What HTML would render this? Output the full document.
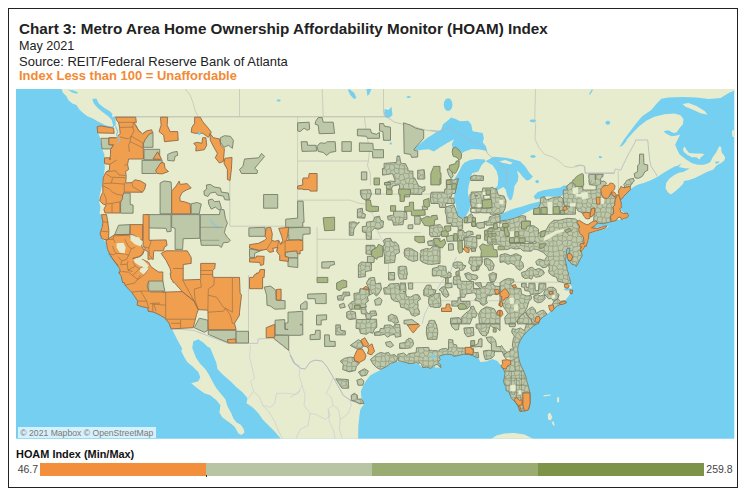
<!DOCTYPE html>
<html><head><meta charset="utf-8">
<style>
html,body{margin:0;padding:0;background:#fff;}
body{width:746px;height:498px;position:relative;overflow:hidden;font-family:"Liberation Sans",sans-serif;}
#frame{position:absolute;left:8px;top:8px;width:728px;height:478px;border:1px solid #222;box-sizing:content-box;}
.t{position:absolute;left:18.5px;white-space:nowrap;color:#222;}
#t1{top:19px;font-size:14px;font-weight:bold;line-height:20px;transform-origin:0 0;transform:scaleX(1.0883);}
#t2{top:39px;font-size:12.8px;line-height:14px;transform-origin:0 0;transform:scaleX(0.985);}
#t3{top:54.5px;font-size:12.8px;line-height:14px;transform-origin:0 0;transform:scaleX(1.016);}
#t4{top:69px;font-size:12.8px;line-height:14px;font-weight:bold;color:#f28a35;transform-origin:0 0;transform:scaleX(1.013);}
#map{position:absolute;left:0;top:0;width:746px;height:498px;}
#attr{position:absolute;left:18px;top:427px;width:138px;height:10.5px;background:rgba(255,255,255,0.7);font-size:8.65px;line-height:10.5px;color:#7a7a7a;white-space:nowrap;}
#attrt{position:absolute;left:2.3px;top:0.7px;transform-origin:0 0;}
#lg{position:absolute;left:15.6px;top:448px;font-size:10.8px;font-weight:bold;color:#111;white-space:nowrap;transform-origin:0 0;transform:scaleX(1.011);}
.lb{position:absolute;top:462.6px;height:13.2px;}
.ln{position:absolute;top:463px;height:13px;line-height:13px;font-size:10.5px;color:#444;}
</style></head><body>
<div id="frame"></div>
<div class="t" id="t1">Chart 3: Metro Area Home Ownership Affordability Monitor (HOAM) Index</div>
<div class="t" id="t2">May 2021</div>
<div class="t" id="t3">Source: REIT/Federal Reserve Bank of Atlanta</div>
<div class="t" id="t4">Index Less than 100 = Unaffordable</div>
<svg id="map" viewBox="0 0 746 498">
<defs><clipPath id="mc"><rect x="16" y="89" width="718.3" height="349.7"/></clipPath></defs>
<g clip-path="url(#mc)" stroke-linejoin="round">
<rect x="16" y="89" width="719" height="350" fill="#75cff0"/>
<path d="M61.3 88 L62.7 92.6 L66.3 96.1 L68.3 100.1 L72.3 103.5 L76.4 105.1 L79.4 109.5 L83.4 113.2 L87.4 116.2 L92.4 118.2 L96.5 120.8 L101.5 123.2 L105.5 125.2 L110.5 126.6 L114.2 125.8 L113.8 127.8 L106.5 127.2 L97.5 126.8 L97.7 132.3 L100.1 137.7 L100.9 143.3 L102.1 148.9 L104.5 154.4 L104.1 160.4 L104.9 167.4 L104.1 173.5 L103.1 179.5 L102.9 180.0 L101.5 188.0 L99.5 196.1 L99.1 202.1 L100.5 207.1 L99.5 213.2 L101.5 215.2 L102.9 222.2 L101.5 228.3 L100.1 233.3 L101.5 238.3 L106.1 242.3 L107.5 249.4 L110.5 255.4 L113.6 260.4 L116.6 264.5 L119.6 268.5 L120.6 273.5 L120.2 275.0 L123.6 280.0 L125.0 285.1 L128.6 289.1 L131.6 292.1 L133.7 295.1 L137.7 301.1 L137.1 305.2 L142.7 306.8 L148.7 308.2 L152.8 311.2 L156.8 312.2 L160.1 315.2 L166.1 318.2 L170.1 325.3 L172.1 329.3 L175.1 335.3 L178.2 341.4 L182.2 348.4 L181.2 351.0 L184.2 357.1 L187.2 362.1 L193.2 367.1 L198.3 372.1 L200.3 377.2 L198.3 381.2 L191.2 383.2 L197.3 388.2 L204.3 393.3 L210.3 395.3 L216.4 400.3 L220.4 405.3 L219.4 412.4 L222.4 417.4 L229.4 422.4 L234.5 426.4 L238.5 433.5 L241.5 435.1 L244.5 432.5 L243.5 428.4 L240.5 424.4 L236.5 422.4 L233.4 418.4 L231.4 413.4 L227.4 406.3 L225.4 399.3 L220.4 393.3 L216.4 388.2 L212.3 381.2 L209.3 375.2 L205.3 369.1 L200.3 364.1 L196.2 358.1 L193.2 351.0 L191.2 345.0 L195.2 355.4 L192.2 348.4 L193.2 341.4 L198.3 339.3 L203.3 342.4 L207.3 346.4 L210.3 348.0 L212.3 353.0 L216.4 363.1 L217.4 369.1 L222.4 374.2 L230.4 381.2 L236.5 387.2 L242.5 392.3 L247.5 398.3 L246.5 403.3 L252.5 407.3 L258.6 413.4 L262.6 419.4 L268.6 425.4 L274.7 431.5 L280.7 438.5 L282.7 443.5 L358.0 443.5 L358.4 425.4 L359.4 415.4 L360.4 409.3 L364.0 404.3 L361.4 397.3 L360.8 391.2 L363.4 385.2 L366.4 380.2 L370.4 375.2 L376.5 372.1 L380.5 370.1 L386.5 366.1 L392.5 363.1 L398.6 361.5 L405.6 362.1 L412.7 363.1 L418.7 364.1 L421.7 367.1 L428.7 367.5 L434.8 366.1 L435.0 367.5 L441.1 367.5 L438.4 363.5 L439.7 359.5 L435.0 357.5 L433.0 356.1 L436.0 355.1 L442.1 354.0 L450.1 353.4 L458.2 354.0 L466.2 353.4 L473.2 354.7 L478.3 358.1 L480.3 362.1 L486.3 361.5 L492.3 359.1 L497.4 361.1 L501.4 366.1 L504.0 370.1 L505.4 375.2 L503.4 381.2 L504.8 385.2 L507.4 388.2 L509.4 393.3 L511.4 398.3 L515.5 402.3 L518.5 407.3 L520.5 411.4 L524.5 411.0 L528.5 409.3 L530.1 403.3 L530.1 393.3 L528.1 385.2 L525.5 377.2 L523.5 371.1 L520.5 365.1 L518.5 357.1 L517.5 351.0 L518.5 345.0 L518.5 345.4 L520.5 339.3 L524.5 333.3 L528.5 328.3 L532.5 324.3 L537.6 320.2 L542.6 316.2 L548.6 313.2 L552.7 308.2 L558.7 305.2 L564.7 301.1 L568.7 296.1 L570.8 293.1 L571.8 287.1 L568.7 281.0 L570.8 275.0 L571.0 274.5 L573.0 268.5 L576.0 264.5 L578.0 260.4 L580.1 253.4 L582.1 250.4 L586.1 246.4 L588.5 240.3 L589.1 234.3 L589.1 232.7 L590.1 227.9 L597.1 223.2 L604.2 222.2 L611.2 221.8 L616.2 220.2 L620.3 219.2 L624.3 219.2 L628.3 217.2 L627.3 214.2 L624.3 213.2 L621.3 210.2 L619.3 206.1 L620.3 200.1 L624.3 195.1 L628.3 191.1 L631.5 188.5 L634.2 186.4 L638.3 184.4 L643.6 183.1 L649 181 L654.4 178.4 L658.4 176.3 L662.5 173.6 L667.9 170.3 L675 166.2 L677.3 166.1 L681.7 163.2 L678.8 166.9 L684.7 168.3 L689.8 168.6 L683.2 172.0 L678.8 172.8 L674.3 175.0 L669.2 178.7 L666.2 183.1 L665.5 188.2 L667.7 191.9 L670.7 194.6 L674.3 191.9 L678.8 188.2 L683.2 183.8 L683.9 180.9 L689.1 180.1 L695.0 177.9 L700.9 175.0 L706.8 172.0 L712.7 169.8 L714.2 168.6 L716.4 165.4 L720.8 163.2 L724.5 160.2 L725.2 157.3 L721.5 152.1 L721.2 147.0 L719.3 146.2 L716.4 152.1 L712.7 157.3 L710.5 161.7 L708.3 163.2 L703.8 164.7 L697.9 164.7 L692.0 163.2 L686.1 159.5 L683.2 157.3 L679.5 154.3 L677.3 149.9 L675.1 144.7 L677.3 140.3 L680.2 134.4 L675.4 135.7 L671.4 136.3 L666.4 133.7 L663.4 131.2 L668.4 130.2 L673.4 132.9 L676.4 132.5 L679.4 128.2 L682.9 124.2 L683.5 119.2 L680.5 115.2 L674.4 113.6 L664.4 114.2 L654.3 116.8 L646.3 120.8 L639.2 126.2 L633.2 132.3 L626.2 140.3 L620.1 146.3 L624.2 139.3 L630.2 131.2 L636.2 123.2 L642.2 116.2 L651.3 110.1 L656.3 104.1 L661.3 98.7 L668.4 97.5 L682.5 97.1 L696.5 97.5 L708.6 99.1 L720.7 98.1 L728.7 93.0 L736.8 89.4 L740 88 Z" fill="#e7ecce" fill-rule="evenodd"/>
<path d="M589.1 231.3 L594.1 228.3 L602.2 226.2 L609.2 225.8 L606.2 228.3 L600.2 230.3 L592.1 232.7 Z" fill="#e7ecce" fill-rule="evenodd"/>
<path d="M682.9 149.2 L684.7 146.2 L686.1 149.2 L689.1 152.9 L695.0 153.6 L700.9 153.6 L704.6 154.3 L700.9 157.3 L699.4 159.5 L696.5 157.3 L692.0 157.3 L687.6 155.1 L683.9 152.1 Z" fill="#e7ecce" fill-rule="evenodd"/>
<path d="M682.5 104.1 L688.5 103.1 L696.5 106.1 L704.6 111.1 L707.6 114.8 L700.6 113.2 L692.5 109.5 L685.5 106.7 Z" fill="#e7ecce" fill-rule="evenodd"/>
<path d="M731.8 131.5 L734.5 130.0 L739.2 130.0 L739.2 138.8 L734.5 137.4 L732.6 135.9 Z" fill="#e7ecce" fill-rule="evenodd"/>
<path d="M732.3 130.2 L736.8 130.2 L736.8 137.7 L732.7 136.9 Z" fill="#e7ecce" fill-rule="evenodd"/>
<path d="M490.3 439.5 L496.4 435.5 L504.4 433.5 L514.5 433.1 L524.5 434.5 L534.6 439.5 Z" fill="#e7ecce" fill-rule="evenodd"/>
<path d="M547.6 414.4 L550.2 412.4 L552.3 417.4 L550.6 420.4 L548.2 419.4 Z" fill="#e7ecce" fill-rule="evenodd"/>
<path d="M551.6 421.4 L553.7 421.8 L554.7 425.4 L553.1 425.4 Z" fill="#e7ecce" fill-rule="evenodd"/>
<path d="M543.6 395.3 L550.6 394.5 L550.6 395.5 L543.6 396.5 Z" fill="#e7ecce" fill-rule="evenodd"/>
<path d="M557.1 397.3 L559.1 397.3 L559.1 402.3 L557.1 402.3 Z" fill="#e7ecce" fill-rule="evenodd"/>
<path d="M92.3 99.1 L96.3 98.5 L99.0 103.8 L104.4 107.9 L109.8 111.2 L112.5 113.9 L111.8 116.6 L115.2 117.3 L115.9 125.4 L113.2 126.0 L111.8 120.0 L108.5 116.6 L103.1 112.6 L97.7 107.9 L93.6 103.2 Z" fill="#75cff0" fill-rule="evenodd"/>
<path d="M68.1 89.7 L73.5 90.4 L78.2 92.4 L76.8 93.7 L72.1 92.4 Z" fill="#75cff0" fill-rule="evenodd"/>
<path d="M280.7 100.5 L280.4 101.0 L279.7 101.4 L278.7 101.5 L277.7 101.4 L276.9 101.0 L276.7 100.5 L276.9 100.0 L277.7 99.6 L278.7 99.5 L279.7 99.6 L280.4 100.0 Z" fill="#75cff0" fill-rule="evenodd"/>
<path d="M349.3 89.0 L354.3 93.0 L356.4 98.1 L353.9 99.1 L350.3 95.1 L347.9 90.0 Z" fill="#75cff0" fill-rule="evenodd"/>
<path d="M366.4 89.0 L371.4 89.0 L369.4 94.0 L367.4 96.1 Z" fill="#75cff0" fill-rule="evenodd"/>
<path d="M384.5 109.1 L388.5 110.1 L391.5 106.7 L392.5 115.2 L388.5 118.2 L384.5 117.2 Z" fill="#75cff0" fill-rule="evenodd"/>
<path d="M410.6 97.1 L410.4 97.6 L409.6 97.9 L408.6 98.1 L407.6 97.9 L406.9 97.6 L406.6 97.1 L406.9 96.6 L407.6 96.2 L408.6 96.1 L409.6 96.2 L410.4 96.6 Z" fill="#75cff0" fill-rule="evenodd"/>
<path d="M391.9 143.5 L391.8 144.1 L391.3 144.6 L390.7 144.7 L390.1 144.6 L389.7 144.1 L389.5 143.5 L389.7 142.9 L390.1 142.5 L390.7 142.3 L391.3 142.5 L391.8 142.9 Z" fill="#75cff0" fill-rule="evenodd"/>
<path d="M399.6 156.0 L399.4 156.5 L399.0 156.8 L398.4 157.0 L397.8 156.8 L397.3 156.5 L397.2 156.0 L397.3 155.5 L397.8 155.1 L398.4 155.0 L399.0 155.1 L399.4 155.5 Z" fill="#75cff0" fill-rule="evenodd"/>
<path d="M714.9 161.7 L719.3 161.3 L718.6 163.2 L715.6 163.6 Z" fill="#75cff0" fill-rule="evenodd"/>
<path d="M413.7 149.3 L420.7 143.3 L426.8 138.3 L434.8 133.3 L436 132 L441 130 L443.1 124.2 L448.1 120.2 L451.1 117.6 L455.1 118.8 L460.2 121.2 L468.2 120.8 L471.2 124.2 L472.6 131.3 L482.7 132.9 L483.9 138.3 L482.7 142.3 L485.9 146.3 L487.3 151.4 L485.5 150.7 L479.9 149.4 L471.8 149.1 L464.6 151.5 L462.2 153.1 L456.5 148.3 L452.5 147.5 L451.7 144.3 L454.1 139.2 L447.7 142.7 L439.7 147.5 L433.8 151.4 L428.8 149.3 L422.7 149.8 L417.7 150.4 Z" fill="#75cff0" fill-rule="evenodd"/>
<path d="M455.7 204.9 L454.1 197.4 L454.9 189.3 L455.7 178.9 L457.3 174.9 L459.8 170.0 L462.2 165.2 L464.6 162.5 L470.2 160.1 L476.6 159.1 L484.7 159.6 L485.5 161.2 L481.5 165.2 L478.3 171.6 L472.1 173.3 L470.2 179.7 L468.6 186.1 L467.8 192.6 L469.4 199.0 L471.2 202.1 L469.2 210.2 L465.2 217.2 L460.2 218.6 L457.1 214.2 L455.7 204.1 Z" fill="#75cff0" fill-rule="evenodd"/>
<path d="M485.5 161.2 L493.5 156.7 L500.8 157.2 L507.2 158.0 L512.0 159.1 L513.6 159.6 L520.1 161.2 L524.9 166.0 L529.7 173.3 L532.9 176.5 L529.7 179.7 L526.5 180.5 L522.5 176.5 L519.3 172.5 L516.9 170.8 L518.5 176.5 L517.7 181.3 L514.5 186.1 L513.6 192.6 L512.0 199.0 L509.9 200.6 L507.2 195.8 L505.6 189.3 L503.2 186.9 L499.2 189.3 L494.3 191.8 L493.5 189.3 L497.6 186.1 L498.4 178.1 L496.8 171.6 L492.7 165.2 Z" fill="#75cff0" fill-rule="evenodd"/>
<path d="M497.5 218.3 L500 214.9 L505.4 212.2 L513.5 208.8 L521.5 206.8 L529.6 204.1 L537.7 202.1 L540.4 201.4 L541 203.5 L539 206.2 L533.6 208.8 L528.3 211.5 L521.5 214.9 L514.8 217.6 L508.1 219.6 L502 220.5 L499 220.5 Z" fill="#75cff0" fill-rule="evenodd"/>
<path d="M533.6 196.5 L537.7 192 L544.4 190 L553.8 188.5 L560.6 187.6 L563.9 185.2 L566 185.9 L567.3 189.9 L566.6 194 L560.6 196 L553.8 196.7 L547.1 196.5 L540.4 198.3 L535.7 199.4 Z" fill="#75cff0" fill-rule="evenodd"/>
<path d="M452.5 104.7 L451.9 107.9 L450.3 110.3 L448.1 111.1 L445.9 110.3 L444.3 107.9 L443.7 104.7 L444.3 101.5 L445.9 99.1 L448.1 98.3 L450.3 99.1 L451.9 101.5 Z" fill="#75cff0" fill-rule="evenodd"/>
<path d="M536.2 120.8 L535.7 121.5 L534.6 122.0 L532.9 122.2 L531.3 122.0 L530.2 121.5 L529.7 120.8 L530.2 120.1 L531.3 119.6 L532.9 119.4 L534.6 119.6 L535.7 120.1 Z" fill="#75cff0" fill-rule="evenodd"/>
<path d="M535.6 156.4 L535.2 157.0 L534.3 157.4 L532.9 157.6 L531.6 157.4 L530.7 157.0 L530.3 156.4 L530.7 155.8 L531.6 155.3 L532.9 155.2 L534.3 155.3 L535.2 155.8 Z" fill="#75cff0" fill-rule="evenodd"/>
<path d="M538.6 181.5 L538.4 182.3 L537.8 182.9 L537.0 183.1 L536.2 182.9 L535.6 182.3 L535.4 181.5 L535.6 180.7 L536.2 180.1 L537.0 179.9 L537.8 180.1 L538.4 180.7 Z" fill="#75cff0" fill-rule="evenodd"/>
<path d="M610.2 122.8 L609.9 123.8 L609.0 124.5 L607.8 124.8 L606.6 124.5 L605.7 123.8 L605.4 122.8 L605.7 121.8 L606.6 121.1 L607.8 120.8 L609.0 121.1 L609.9 121.8 Z" fill="#75cff0" fill-rule="evenodd"/>
<path d="M601.8 157.0 L601.6 157.5 L601.0 157.9 L600.2 158.0 L599.4 157.9 L598.8 157.5 L598.6 157.0 L598.8 156.5 L599.4 156.1 L600.2 156.0 L601.0 156.1 L601.6 156.5 Z" fill="#75cff0" fill-rule="evenodd"/>
<path d="M589.1 94.0 L591.7 89.4 L593.1 89.8 L590.1 94.7 Z" fill="#75cff0" fill-rule="evenodd"/>
<path d="M453.8 179.8 L456.5 175.8 L459.9 170.4 L462.6 165.3 L464.6 164.3 L463.3 167.7 L461.2 171.7 L459.2 176.4 L456.5 179.8 Z" fill="#75cff0" fill-rule="evenodd"/>
<path d="M535.7 156.5 L535.3 157.1 L534.3 157.4 L533.0 157.6 L531.6 157.4 L530.6 157.1 L530.3 156.5 L530.6 156.0 L531.6 155.6 L533.0 155.4 L534.3 155.6 L535.3 156.0 Z" fill="#75cff0" fill-rule="evenodd"/>
<path d="M538.9 181.8 L538.7 182.5 L538.1 183.0 L537.3 183.2 L536.5 183.0 L535.9 182.5 L535.7 181.8 L535.9 181.1 L536.5 180.7 L537.3 180.5 L538.1 180.7 L538.7 181.1 Z" fill="#75cff0" fill-rule="evenodd"/>
<path d="M619.4 146.7 L621.4 144.0 L625.5 140.0 L626.8 140.7 L622.1 146.1 Z" fill="#75cff0" fill-rule="evenodd"/>
<path d="M601.9 157.5 L601.7 157.8 L601.2 158.1 L600.6 158.2 L599.9 158.1 L599.4 157.8 L599.2 157.5 L599.4 157.2 L599.9 156.9 L600.6 156.8 L601.2 156.9 L601.7 157.2 Z" fill="#75cff0" fill-rule="evenodd"/>
<path d="M565.9 249.2 L568.6 247.9 L569.3 251.9 L567.3 253.9 L565.9 256.9 L564.6 256.9 Z" fill="#75cff0" fill-rule="evenodd"/>
<path d="M578.7 256.9 L580.8 252.6 L579.4 251.9 L577.4 256.9 Z" fill="#75cff0" fill-rule="evenodd"/>
<path d="M564.6 255.7 L567.3 255.7 L568.0 261.0 L570.0 265.1 L571.3 269.1 L570.0 273.8 L568.0 270.5 L566.6 265.1 L565.3 261.0 Z" fill="#75cff0" fill-rule="evenodd"/>
<path d="M563.3 289.3 L567.3 288.0 L571.3 288.6 L570.7 290.6 L565.9 290.6 Z" fill="#75cff0" fill-rule="evenodd"/>
<path d="M563.3 277.2 L566.6 276.5 L567.3 278.5 L563.9 279.2 Z" fill="#75cff0" fill-rule="evenodd"/>
<path d="M569.3 264.4 L575.6 265.3 L573.8 269.8 L571.1 274.8 L569.7 273.8 L571.1 269.1 Z" fill="#75cff0" fill-rule="evenodd"/>
<path d="M566.1 248.5 L569.9 247.4 L570.4 252.5 L572.9 255.2 L574.2 260.6 L572.9 266.0 L574.9 270.0 L574.2 275.4 L576.9 280.8 L574.2 281.4 L571.5 279.4 L568.8 274.0 L566.1 267.3 L564.8 261.9 L566.8 256.5 L566.1 252.5 Z" fill="#75cff0" fill-rule="evenodd"/>
<path d="M499.2 161.2 L505.6 160.1 L512.8 162.8 L510.4 164.4 L502.4 162.8 Z" fill="#e7ecce" fill-rule="evenodd"/>
<path d="M114.0 116.8 L384.2 116.8" fill="none" fill-rule="evenodd" stroke="#b9bcb0" stroke-width="1.0"/>
<path d="M239.5 89.0 L239.5 116.8" fill="none" fill-rule="evenodd" stroke="#c4c7b8" stroke-width="0.8"/>
<path d="M185.2 89.0 L190.2 95.1 L193.2 103.1 L195.2 111.1 L198.3 116.8" fill="none" fill-rule="evenodd" stroke="#c4c7b8" stroke-width="0.8"/>
<path d="M322.2 89.0 L323.2 116.8" fill="none" fill-rule="evenodd" stroke="#c4c7b8" stroke-width="0.8"/>
<path d="M383.5 89.0 L383.5 111.1" fill="none" fill-rule="evenodd" stroke="#c4c7b8" stroke-width="0.8"/>
<path d="M297.6 116.8 L297.6 184.9" fill="none" fill-rule="evenodd" stroke="#c4c7b8" stroke-width="0.8"/>
<path d="M297.6 161.0 L368.4 161.0" fill="none" fill-rule="evenodd" stroke="#c4c7b8" stroke-width="0.8"/>
<path d="M364.4 116.8 L365.4 125.2 L367.4 137.3 L369.4 151.4 L368.4 161.0 L367.4 165.4 L370.4 173.5 L370.4 184.9" fill="none" fill-rule="evenodd" stroke="#c4c7b8" stroke-width="0.8"/>
<path d="M229.8 159.9 L229.8 226.2 L297.4 226.2" fill="none" fill-rule="evenodd" stroke="#c4c7b8" stroke-width="0.8"/>
<path d="M297.6 180.0 L297.6 226.6" fill="none" fill-rule="evenodd" stroke="#c4c7b8" stroke-width="0.8"/>
<path d="M172.1 328.9 L193.2 330.3 L227.4 343.0 L248.5 343.4 L257.6 343.4 L258.2 338.9 L273.1 338.3 L278.7 342.4 L288.7 350.4 L290.8 355.4 L294.8 363.5 L300.0 366.5" fill="none" fill-rule="evenodd" stroke="#b5b8c4" stroke-width="0.7"/>
<path d="M248.5 275.0 L248.5 343.4" fill="none" fill-rule="evenodd" stroke="#c4c7b8" stroke-width="0.8"/>
<path d="M290.0 355.1 L294.0 363.1 L300.1 368.1 L305.1 369.1 L310.1 362.1 L315.1 360.1 L322.2 361.1 L327.2 367.1 L333.2 377.2 L339.3 388.2 L343.3 395.3 L350.3 400.3 L359.4 403.7 L364.0 403.7" fill="none" fill-rule="evenodd" stroke="#9aa3c0" stroke-width="0.7"/>
<path d="M297.6 200.1 L350.3 200.1 L358.4 203.1 L365.4 204.1" fill="none" fill-rule="evenodd" stroke="#c4c7b8" stroke-width="0.8"/>
<path d="M317.1 239.3 L379.5 239.3" fill="none" fill-rule="evenodd" stroke="#c4c7b8" stroke-width="0.8"/>
<path d="M317.1 227.3 L317.1 279.9" fill="none" fill-rule="evenodd" stroke="#c4c7b8" stroke-width="0.8"/>
<path d="M377.5 232.7 L420.7 232.7" fill="none" fill-rule="evenodd" stroke="#c4c7b8" stroke-width="0.8"/>
<path d="M369.4 199.1 L370.4 206.1 L372.4 214.2 L375.5 220.2 L377.5 230.3 L380.5 237.3 L384.5 244.3" fill="none" fill-rule="evenodd" stroke="#c4c9d8" stroke-width="0.7"/>
<path d="M388.5 246.4 L388.5 279.9" fill="none" fill-rule="evenodd" stroke="#c4c7b8" stroke-width="0.8"/>
<path d="M371.4 194.1 L442.8 194.1" fill="none" fill-rule="evenodd" stroke="#c4c7b8" stroke-width="0.8"/>
<path d="M384.5 116.8 L383.5 111.1 L386.1 115.2 L388.5 118.2 L394.6 122.2 L402.6 124.2 L410.6 125.2 L418.7 128.2 L426.7 130.2 L440.0 132.3" fill="none" fill-rule="evenodd" stroke="#b9bcb0" stroke-width="0.8"/>
<path d="M430.0 130.2 L440.1 131.2 L449.1 127.2 L466.2 138.3 L480.3 145.3 L485.3 149.3 L488.3 154.4 L494.3 159.4 L500.4 163.4 L506.4 169.5 L507.4 184.9" fill="none" fill-rule="evenodd" stroke="#a9b4c4" stroke-width="0.7"/>
<path d="M535.6 89.0 L534.6 123.2" fill="none" fill-rule="evenodd" stroke="#c4c7b8" stroke-width="0.8"/>
<path d="M300.1 368.1 L299.0 375.2 L302.1 385.2 L298.0 393.3 L290.0 397.3" fill="none" fill-rule="evenodd" stroke="#c7c8d2" stroke-width="0.6"/>
<path d="M302.1 385.2 L305.1 395.3 L304.1 405.3 L310.1 413.4 L308.1 425.4 L300.1 429.5 L296.0 438.5" fill="none" fill-rule="evenodd" stroke="#c7c8d2" stroke-width="0.6"/>
<path d="M310.1 413.4 L316.1 414.4 L325.2 419.4 L330.2 415.4 L328.2 409.3 L333.2 405.3 L331.2 397.3 L326.2 393.3 L330.2 385.2 L333.2 377.2" fill="none" fill-rule="evenodd" stroke="#c7c8d2" stroke-width="0.6"/>
<path d="M328.2 409.3 L329.2 421.4 L333.2 429.5 L335.2 438.5" fill="none" fill-rule="evenodd" stroke="#c7c8d2" stroke-width="0.6"/>
<path d="M333.2 405.3 L338.3 409.3 L340.3 419.4 L339.3 429.5 L342.3 438.5" fill="none" fill-rule="evenodd" stroke="#c7c8d2" stroke-width="0.6"/>
<path d="M340.3 419.4 L348.3 413.4 L351.3 405.3 L350.3 400.3" fill="none" fill-rule="evenodd" stroke="#c7c8d2" stroke-width="0.6"/>
<path d="M250.5 345.0 L249.5 357.1 L252.5 369.1 L254.6 378.2 L250.5 381.2 L253.6 391.2 L248.5 398.3" fill="none" fill-rule="evenodd" stroke="#c7c8d2" stroke-width="0.6"/>
<path d="M253.6 391.2 L259.6 397.3 L262.6 405.3 L268.6 411.4 L274.7 421.4 L278.7 431.5 L282.7 438.5" fill="none" fill-rule="evenodd" stroke="#c7c8d2" stroke-width="0.6"/>
<path d="M262.6 405.3 L270.6 407.3 L274.7 403.3 L276.7 393.3 L286.7 393.3 L294.8 394.3 L300.0 391.2" fill="none" fill-rule="evenodd" stroke="#c7c8d2" stroke-width="0.6"/>
<path d="M535.7 123.3 L535.0 139.4 L539.0 147.5 L544.4 154.2 L553.8 157.6 L560.6 162.3 L564.6 166.3 L571.3 167.7 L580.8 165.3 L584.8 166.3 L585.5 173.1" fill="none" fill-rule="evenodd" stroke="#c4c7b8" stroke-width="0.8"/>
<path d="M585.5 173.3 L614.4 173.3" fill="none" fill-rule="evenodd" stroke="#b9bcb0" stroke-width="0.8"/>
<path d="M620.8 170.3 L623.5 164.2 L628.8 153.5 L634.9 142.7 L635.6 140.0 L647.7 140.0 L649.7 160.2 L651.0 166.2 L655.8 173.6 L657.1 176.3" fill="none" fill-rule="evenodd" stroke="#b5b8c4" stroke-width="0.8"/>
<path d="M575.0 166.2 L580.4 164.9 L584.4 166.2 L585.1 173.0 L614.0 173.0 L615.4 168.9 L620.8 170.3" fill="none" fill-rule="evenodd" stroke="#b5b8c4" stroke-width="0.8"/>
<path d="M618.1 171.0 L618.7 193.8" fill="none" fill-rule="evenodd" stroke="#c4c7b8" stroke-width="0.8"/>
<path d="M456.5 257.0 L453.8 262.4 L451.8 267.8 L449.8 273.2 L444.4 278.5 L440.4 283.9 L436.3 290.6 L432.3 297.4 L428.3 306.8 L424.9 313.5 L422.9 320.3 L422.2 323.9" fill="none" fill-rule="evenodd" stroke="#b9c4dc" stroke-width="0.8"/>
<path d="M400.0 282.6 L500.0 282.6" fill="none" fill-rule="evenodd" stroke="#c4c7b8" stroke-width="0.8"/>
<path d="M440.4 300.7 L500.0 300.7" fill="none" fill-rule="evenodd" stroke="#c4c7b8" stroke-width="0.8"/>
<path d="M514.8 282.2 L570.0 282.2" fill="none" fill-rule="evenodd" stroke="#c4c7b8" stroke-width="0.8"/>
<path d="M100.9 138.3 L108.9 138.3 L108.9 144.7 L113.6 145.3 L110.5 148.9 L102.1 148.9 L101.5 145.3 Z" fill="#bdc8a8" fill-rule="evenodd" stroke="#767d6a" stroke-width="0.9"/>
<path d="M144.0 141.9 L143.1 143.7 L143.5 146.9 L144.0 146.9 L144.0 147.3 L153.0 147.3 L153.0 132.3 L144.0 132.3 L144.0 141.9 Z" fill="#bdc8a8" fill-rule="evenodd" stroke="#767d6a" stroke-width="0.9"/>
<path d="M220.4 137.7 L224.4 135.7 L230.4 136.3 L233.4 140.3 L232.4 148.3 L228.4 145.3 L224.0 147.3 L220.4 142.3 Z" fill="#bdc8a8" fill-rule="evenodd" stroke="#767d6a" stroke-width="0.9"/>
<path d="M244.5 159.0 L258.6 157.8 L261.6 153.4 L264.6 156.4 L259.6 162.4 L254.6 168.4 L257.6 170.5 L257.0 173.5 L241.5 173.5 L239.5 169.5 L242.9 166.4 Z" fill="#bdc8a8" fill-rule="evenodd" stroke="#767d6a" stroke-width="0.9"/>
<path d="M144.0 149.3 L159.7 149.3 L159.7 159.8 L144.0 159.8 Z" fill="#bdc8a8" fill-rule="evenodd" stroke="#767d6a" stroke-width="0.9"/>
<path d="M142.0 160.4 L162.1 160.4 L162.5 165.4 L156.0 173.5 L142.0 173.5 Z" fill="#bdc8a8" fill-rule="evenodd" stroke="#767d6a" stroke-width="0.9"/>
<path d="M167.7 154.4 L172.1 152.4 L177.1 151.4 L177.7 155.4 L175.1 156.4 L174.1 161.0 L167.7 160.4 Z" fill="#bdc8a8" fill-rule="evenodd" stroke="#767d6a" stroke-width="0.9"/>
<path d="M297.6 122.8 L309.1 122.2 L309.7 129.2 L307.1 130.2 L304.1 128.2 L300.1 131.6 L297.6 130.8 Z" fill="#bdc8a8" fill-rule="evenodd" stroke="#767d6a" stroke-width="0.9"/>
<path d="M315.7 121.2 L318.2 117.6 L322.2 117.6 L323.2 122.2 L333.2 122.2 L334.6 133.3 L319.2 133.7 L318.2 125.2 L315.1 124.2 Z" fill="#bdc8a8" fill-rule="evenodd" stroke="#767d6a" stroke-width="0.9"/>
<path d="M301.1 141.7 L307.1 141.7 L307.7 145.3 L316.1 145.3 L316.5 151.0 L302.1 151.4 Z" fill="#bdc8a8" fill-rule="evenodd" stroke="#767d6a" stroke-width="0.9"/>
<path d="M317.1 146.3 L320.2 142.9 L325.2 143.3 L327.2 141.7 L335.2 141.7 L335.8 151.4 L330.2 152.4 L326.6 155.4 L323.2 152.4 L318.2 151.4 Z" fill="#bdc8a8" fill-rule="evenodd" stroke="#767d6a" stroke-width="0.9"/>
<path d="M341.9 141.7 L351.3 141.7 L351.3 151.4 L341.9 151.4 Z" fill="#bdc8a8" fill-rule="evenodd" stroke="#767d6a" stroke-width="0.9"/>
<path d="M357.4 129.2 L370.4 129.2 L371.4 132.9 L376.5 134.3 L379.5 132.3 L379.5 138.3 L367.4 138.3 L366.4 136.3 L357.4 135.7 Z" fill="#bdc8a8" fill-rule="evenodd" stroke="#767d6a" stroke-width="0.9"/>
<path d="M379.5 123.6 L383.5 123.6 L384.5 126.2 L390.5 127.2 L390.5 140.3 L383.5 140.3 L382.9 131.6 L379.5 130.8 Z" fill="#bdc8a8" fill-rule="evenodd" stroke="#767d6a" stroke-width="0.9"/>
<path d="M359.4 142.9 L372.8 143.3 L373.4 149.7 L383.5 149.7 L383.5 157.8 L372.8 157.8 L372.4 151.4 L359.4 151.4 Z" fill="#bdc8a8" fill-rule="evenodd" stroke="#767d6a" stroke-width="0.9"/>
<path d="M403.6 122.8 L410.6 125.2 L415.7 128.2 L423.7 130.2 L423.7 138.3 L414.1 149.1 L414.1 150.3 L417.7 151.0 L417.7 157.0 L411.6 157.4 L410.6 154.4 L404.2 153.4 Z" fill="#bdc8a8" fill-rule="evenodd" stroke="#767d6a" stroke-width="0.9"/>
<path d="M361.4 171.9 L366.8 171.9 L366.8 179.9 L361.4 179.9 Z" fill="#bdc8a8" fill-rule="evenodd" stroke="#767d6a" stroke-width="0.9"/>
<path d="M417.7 172.9 L417.7 179.1 L418.2 179.1 L424.3 179.1 L424.3 178.6 L424.9 178.5 L424.3 171.0 L424.3 170.5 L424.3 170.5 L424.2 169.7 L417.5 170.4 L417.7 172.9 Z" fill="#bdc8a8" fill-rule="evenodd" stroke="#767d6a" stroke-width="0.9"/>
<path d="M122.6 193.1 L130.2 193.1 L130.2 204.5 L133.1 205.1 L133.1 213.2 L120.6 213.2 L120.6 203.1 Z" fill="#bdc8a8" fill-rule="evenodd" stroke="#767d6a" stroke-width="0.9"/>
<path d="M118.6 225.2 L130.2 224.6 L129.6 234.3 L114.6 234.7 Z" fill="#bdc8a8" fill-rule="evenodd" stroke="#767d6a" stroke-width="0.9"/>
<path d="M162.8 228.3 L162.8 228.2 L166.1 228.3 L167.1 231.9 L171.1 231.3 L171.1 214.6 L162.8 214.6 L149.7 214.6 L146.0 214.6 L146.0 227.9 L161.6 228.2 L162.8 228.3 Z" fill="#bdc8a8" fill-rule="evenodd" stroke="#767d6a" stroke-width="0.9"/>
<path d="M160.1 183.0 L164.1 181.0 L171.1 182.0 L171.7 191.1 L171.7 213.8 L160.1 213.8 Z" fill="#bdc8a8" fill-rule="evenodd" stroke="#767d6a" stroke-width="0.9"/>
<path d="M191.2 203.7 L197.3 202.5 L201.3 204.1 L200.3 208.2 L199.3 213.8 L191.2 213.8 Z" fill="#bdc8a8" fill-rule="evenodd" stroke="#767d6a" stroke-width="0.9"/>
<path d="M203.9 191.1 L206.7 189.0 L206.3 185.0 L210.3 184.4 L214.3 187.0 L220.4 188.0 L221.4 192.1 L228.4 193.1 L229.4 200.1 L224.8 199.7 L223.4 196.1 L217.4 195.1 L215.3 192.1 L210.3 193.1 L207.9 196.5 L204.3 195.1 Z" fill="#bdc8a8" fill-rule="evenodd" stroke="#767d6a" stroke-width="0.9"/>
<path d="M208.3 200.1 L212.3 199.1 L214.7 201.7 L219.4 201.1 L221.4 208.2 L219.4 210.2 L215.3 207.1 L211.3 209.2 L208.7 204.1 Z" fill="#bdc8a8" fill-rule="evenodd" stroke="#767d6a" stroke-width="0.9"/>
<path d="M171.7 214.6 L199.9 214.6 L199.9 238.3 L183.2 238.7 L182.6 249.4 L175.1 249.4 L175.1 228.3 L171.7 227.3 Z" fill="#bdc8a8" fill-rule="evenodd" stroke="#767d6a" stroke-width="0.9"/>
<path d="M200.3 214.6 L219.4 214.6 L220.4 209.2 L224.0 209.8 L225.4 218.2 L227.4 223.2 L225.4 228.3 L224.4 232.7 L227.4 237.3 L230.4 240.3 L228.4 242.3 L223.4 242.7 L221.4 247.4 L218.4 245.3 L201.3 245.3 L200.3 238.3 Z" fill="#bdc8a8" fill-rule="evenodd" stroke="#767d6a" stroke-width="0.9"/>
<path d="M263.6 194.5 L277.7 194.5 L277.7 208.2 L263.6 208.2 Z" fill="#bdc8a8" fill-rule="evenodd" stroke="#767d6a" stroke-width="0.9"/>
<path d="M297.6 218.2 L297.1 218.3 L296.8 218.2 L285.7 219.2 L285.7 227.3 L288.0 227.3 L297.6 227.3 L302.8 227.3 L302.8 222.2 L304.1 222.2 L303.1 201.1 L297.6 201.1 L297.6 218.2 Z" fill="#bdc8a8" fill-rule="evenodd" stroke="#767d6a" stroke-width="0.9"/>
<path d="M248.9 227.9 L265.0 227.3 L265.6 236.3 L248.9 236.3 Z" fill="#bdc8a8" fill-rule="evenodd" stroke="#767d6a" stroke-width="0.9"/>
<path d="M288.0 235.3 L288.9 235.3 L288.7 239.9 L302.8 239.9 L302.8 236.8 L303.1 234.3 L310.1 233.9 L310.1 227.3 L302.1 227.3 L288.0 227.9 L288.0 235.3 Z" fill="#bdc8a8" fill-rule="evenodd" stroke="#767d6a" stroke-width="0.9"/>
<path d="M249.5 248.8 L259.6 250.8 L263.6 249.4 L254.6 253.4 L254.6 257.4 L249.5 257.4 Z" fill="#bdc8a8" fill-rule="evenodd" stroke="#767d6a" stroke-width="0.9"/>
<path d="M288.0 251.7 L285.1 252.0 L285.1 256.0 L288.7 258.0 L297.8 258.0 L297.8 250.8 L297.0 250.9 L297.0 250.8 L288.0 250.8 L288.0 251.7 Z" fill="#bdc8a8" fill-rule="evenodd" stroke="#767d6a" stroke-width="0.9"/>
<path d="M288.0 266.5 L288.7 266.5 L297.8 267.5 L297.8 258.4 L297.0 258.4 L297.0 258.0 L288.0 258.0 L288.0 266.5 Z" fill="#bdc8a8" fill-rule="evenodd" stroke="#767d6a" stroke-width="0.9"/>
<path d="M194.2 327.7 L199.3 318.2 L207.9 320.2 L207.9 330.3 L204.3 332.3 Z" fill="#bdc8a8" fill-rule="evenodd" stroke="#767d6a" stroke-width="0.9"/>
<path d="M208.3 330.3 L236.1 330.3 L236.1 342.4 L227.4 342.4 L208.3 334.3 Z" fill="#bdc8a8" fill-rule="evenodd" stroke="#767d6a" stroke-width="0.9"/>
<path d="M236.1 331.3 L248.5 331.3 L248.5 343.0 L236.1 343.0 Z" fill="#bdc8a8" fill-rule="evenodd" stroke="#767d6a" stroke-width="0.9"/>
<path d="M264.2 287.1 L270.6 286.1 L275.7 290.1 L276.3 300.1 L285.1 300.7 L285.1 308.8 L274.7 309.2 L270.6 306.2 L267.0 305.2 L266.6 295.1 Z" fill="#bdc8a8" fill-rule="evenodd" stroke="#767d6a" stroke-width="0.9"/>
<path d="M285.1 329.3 L284.7 319.6 L275.1 320.2 L275.1 334.9 L288.0 335.3 L288.0 335.3 L288.7 335.3 L300.5 335.3 L300.5 334.9 L302.8 334.9 L302.8 324.9 L300.3 324.9 L300.2 324.3 L302.8 324.3 L302.8 311.2 L294.0 311.9 L288.0 312.2 L288.0 322.7 L285.1 323.3 L285.1 329.3 Z M288.0 329.3 L288.0 329.6 L285.1 329.3 L288.0 329.3 Z" fill="#bdc8a8" fill-rule="evenodd" stroke="#767d6a" stroke-width="0.9"/>
<path d="M273.1 337.7 L274.7 335.3 L288.7 335.3 L288.7 350.4 L282.7 345.4 L278.7 342.4 Z" fill="#bdc8a8" fill-rule="evenodd" stroke="#767d6a" stroke-width="0.9"/>
<path d="M307.7 294.1 L326.2 293.5 L326.2 303.6 L315.7 303.6 L315.1 298.7 L307.7 298.7 Z" fill="#bdc8a8" fill-rule="evenodd" stroke="#767d6a" stroke-width="0.9"/>
<path d="M300.5 304.8 L305.7 301.1 L307.1 302.1 L307.1 309.2 L300.5 309.2 Z" fill="#bdc8a8" fill-rule="evenodd" stroke="#767d6a" stroke-width="0.9"/>
<path d="M316.5 315.2 L326.6 314.8 L326.6 319.6 L321.2 320.2 L321.2 324.9 L316.5 324.9 Z" fill="#bdc8a8" fill-rule="evenodd" stroke="#767d6a" stroke-width="0.9"/>
<path d="M310.1 334.9 L315.1 334.3 L315.7 330.3 L320.2 330.3 L320.2 339.3 L310.1 339.7 Z" fill="#bdc8a8" fill-rule="evenodd" stroke="#767d6a" stroke-width="0.9"/>
<path d="M335.8 324.9 L340.3 324.9 L340.7 330.3 L345.3 330.9 L345.3 334.9 L335.8 334.9 Z" fill="#bdc8a8" fill-rule="evenodd" stroke="#767d6a" stroke-width="0.9"/>
<path d="M324.6 334.9 L329.2 334.9 L329.8 341.4 L335.2 341.4 L335.2 346.4 L324.6 346.4 Z" fill="#bdc8a8" fill-rule="evenodd" stroke="#767d6a" stroke-width="0.9"/>
<path d="M353.9 293.5 L359.4 292.7 L360.0 288.7 L368.4 289.1 L369.4 295.1 L367.4 296.7 L368.4 301.1 L365.4 303.2 L366.4 307.2 L360.4 307.6 L359.4 305.2 L354.3 305.2 L354.7 308.8 L350.3 309.6 L348.3 305.2 L351.3 302.1 L354.3 301.1 Z" fill="#bdc8a8" fill-rule="evenodd" stroke="#767d6a" stroke-width="0.9"/>
<path d="M337.3 296.1 L342.7 295.1 L343.3 292.1 L349.3 292.1 L349.9 295.5 L344.3 296.1 L343.3 300.1 L337.9 300.1 Z" fill="#bdc8a8" fill-rule="evenodd" stroke="#767d6a" stroke-width="0.9"/>
<path d="M339.3 304.8 L343.9 303.2 L345.3 307.2 L340.3 308.2 Z" fill="#bdc8a8" fill-rule="evenodd" stroke="#767d6a" stroke-width="0.9"/>
<path d="M366.4 283.0 L369.4 278.0 L374.5 277.4 L375.5 284.0 L380.5 283.0 L381.5 289.1 L378.5 294.1 L376.5 296.1 L373.4 293.1 L369.4 295.1 L369.4 289.5 Z" fill="#bdc8a8" fill-rule="evenodd" stroke="#767d6a" stroke-width="0.9"/>
<path d="M374.5 300.1 L379.5 297.5 L382.1 300.1 L380.5 304.8 L375.5 305.2 Z" fill="#bdc8a8" fill-rule="evenodd" stroke="#767d6a" stroke-width="0.9"/>
<path d="M398.6 283.4 L389.5 284.0 L387.5 287.1 L383.5 288.1 L384.5 294.1 L390.5 294.1 L391.5 299.1 L394.6 301.1 L399.5 302.0 L400.2 304.2 L400.6 307.2 L405.6 308.2 L406.1 309.5 L409.4 310.2 L411.4 314.9 L414.8 316.2 L415.3 316.0 L415.7 316.2 L416.4 315.5 L419.5 314.2 L419.2 312.7 L419.7 312.2 L417.7 307.3 L418.2 306.8 L417.7 302.0 L417.7 301.1 L420.7 299.1 L420.0 297.6 L420.2 297.4 L419.1 295.9 L418.7 295.1 L418.5 295.1 L418.2 294.7 L414.8 294.7 L414.5 295.1 L413.7 295.1 L410.6 297.1 L406.6 296.7 L406.5 296.7 L405.6 292.1 L403.1 291.6 L406.1 291.3 L405.4 283.2 L400.0 283.2 L400.0 290.1 L398.6 283.4 Z" fill="#bdc8a8" fill-rule="evenodd" stroke="#767d6a" stroke-width="0.9"/>
<path d="M398.2 274.5 L399.6 278.9 L399.6 279.0 L401.2 279.0 L401.3 279.2 L402.5 279.0 L406.6 279.0 L406.6 276.1 L407.4 274.5 L406.8 270.6 L406.6 267.5 L406.3 267.4 L406.1 266.4 L403.5 266.4 L402.6 266.1 L401.0 266.4 L400.0 266.4 L400.0 266.6 L398.2 266.9 L398.2 274.5 Z" fill="#bdc8a8" fill-rule="evenodd" stroke="#767d6a" stroke-width="0.9"/>
<path d="M408.6 283.2 L408.1 283.2 L408.6 286.6 L408.6 289.1 L410.6 289.1 L410.8 289.3 L410.9 289.1 L412.7 289.1 L412.7 283.8 L412.8 283.2 L412.7 283.2 L412.7 283.0 L408.6 283.0 L408.6 283.2 Z" fill="#bdc8a8" fill-rule="evenodd" stroke="#767d6a" stroke-width="0.9"/>
<path d="M388.5 275.0 L388.5 279.9 L388.5 280.0 L394.6 280.0 L394.6 279.9 L394.6 275.0 L394.6 272.5 L388.5 272.5 L388.5 275.0 Z" fill="#bdc8a8" fill-rule="evenodd" stroke="#767d6a" stroke-width="0.9"/>
<path d="M423.7 291.4 L423.7 295.1 L424.0 295.2 L424.0 295.8 L425.6 295.7 L428.7 296.7 L430.0 295.5 L431.6 295.4 L431.6 294.8 L434.8 295.1 L435.8 290.1 L431.8 289.1 L431.0 285.9 L430.8 285.1 L426.7 285.1 L423.8 289.9 L423.6 290.0 L423.7 291.4 Z" fill="#bdc8a8" fill-rule="evenodd" stroke="#767d6a" stroke-width="0.9"/>
<path d="M428.5 302.8 L430.3 306.8 L432.2 306.7 L434.8 307.6 L440.0 307.2 L440.0 306.2 L441.0 306.1 L440.4 297.4 L440.0 296.6 L440.0 293.1 L436.7 293.7 L435.7 293.3 L435.1 294.0 L434.8 294.1 L432.5 296.3 L428.9 297.4 L428.5 302.8 Z" fill="#bdc8a8" fill-rule="evenodd" stroke="#767d6a" stroke-width="0.9"/>
<path d="M356.4 319.6 L376.5 319.2 L376.9 327.3 L374.5 328.9 L372.8 333.3 L369.4 332.3 L366.4 334.3 L360.4 333.3 L359.4 328.9 L356.0 328.3 Z" fill="#bdc8a8" fill-rule="evenodd" stroke="#767d6a" stroke-width="0.9"/>
<path d="M346.7 312.2 L350.3 310.8 L355.3 312.2 L356.0 318.8 L349.3 319.6 L346.7 317.6 Z" fill="#bdc8a8" fill-rule="evenodd" stroke="#767d6a" stroke-width="0.9"/>
<path d="M360.8 308.2 L365.4 307.2 L366.4 312.2 L369.4 314.2 L370.4 311.2 L375.5 310.8 L376.9 315.2 L371.4 316.2 L370.4 319.2 L366.4 318.8 L365.4 314.2 L361.4 313.6 Z" fill="#bdc8a8" fill-rule="evenodd" stroke="#767d6a" stroke-width="0.9"/>
<path d="M374.5 332.3 L379.5 331.3 L380.5 328.3 L383.5 328.9 L384.5 325.3 L390.5 324.9 L393.6 327.3 L394.6 324.3 L399.6 324.3 L401.0 336.3 L395.6 337.3 L394.6 334.3 L390.5 335.3 L387.5 337.3 L384.5 334.3 L380.1 335.3 L374.5 335.3 Z" fill="#bdc8a8" fill-rule="evenodd" stroke="#767d6a" stroke-width="0.9"/>
<path d="M388.1 316.2 L391.5 314.2 L396.6 316.2 L398.6 322.3 L394.6 323.3 L391.5 321.2 L388.5 320.8 Z" fill="#bdc8a8" fill-rule="evenodd" stroke="#767d6a" stroke-width="0.9"/>
<path d="M404.0 323.9 L406.9 323.9 L407.6 324.9 L418.7 324.3 L415.7 322.3 L414.8 321.8 L414.8 321.6 L412.1 319.6 L410.8 319.7 L410.6 319.6 L409.5 319.8 L404.0 320.3 L404.0 323.9 Z" fill="#bdc8a8" fill-rule="evenodd" stroke="#767d6a" stroke-width="0.9"/>
<path d="M428.9 323.0 L428.2 324.0 L427.6 324.0 L427.5 325.2 L426.7 326.3 L426.3 333.3 L427.7 339.3 L436.8 339.3 L437.8 332.3 L437.6 331.5 L437.7 330.7 L436.3 324.0 L435.7 324.0 L434.8 320.8 L433.8 320.7 L433.6 320.3 L432.4 320.4 L430.8 320.2 L430.5 320.7 L428.9 320.9 L428.9 323.0 Z" fill="#bdc8a8" fill-rule="evenodd" stroke="#767d6a" stroke-width="0.9"/>
<path d="M385.5 342.4 L390.5 341.4 L393.6 345.4 L390.5 347.4 L386.5 345.8 Z" fill="#bdc8a8" fill-rule="evenodd" stroke="#767d6a" stroke-width="0.9"/>
<path d="M405.7 342.2 L405.6 342.4 L399.6 343.4 L399.6 348.4 L406.6 348.4 L410.6 347.8 L413.1 345.4 L413.1 344.8 L413.5 344.2 L412.8 340.2 L410.1 338.1 L409.2 338.6 L408.6 338.3 L407.9 339.3 L406.1 340.2 L405.7 342.2 Z" fill="#bdc8a8" fill-rule="evenodd" stroke="#767d6a" stroke-width="0.9"/>
<path d="M350.3 345.4 L358.4 339.7 L360.8 341.0 L363.4 346.4 L361.4 348.4 L357.4 349.0 L353.9 347.4 Z" fill="#bdc8a8" fill-rule="evenodd" stroke="#767d6a" stroke-width="0.9"/>
<path d="M340.3 361.1 L344.3 358.4 L350.3 357.0 L353.9 357.8 L354.7 361.1 L359.4 363.1 L356.4 366.5 L355.3 370.5 L349.3 371.9 L342.7 369.5 L343.3 364.5 Z" fill="#bdc8a8" fill-rule="evenodd" stroke="#767d6a" stroke-width="0.9"/>
<path d="M370.4 359.5 L376.5 354.4 L380.5 352.4 L384.5 353.4 L388.5 352.4 L390.5 355.4 L394.6 354.4 L397.6 357.4 L396.6 361.5 L390.5 363.5 L386.5 366.5 L380.5 369.5 L376.5 367.5 L373.4 364.5 Z" fill="#bdc8a8" fill-rule="evenodd" stroke="#767d6a" stroke-width="0.9"/>
<path d="M445.8 354.3 L451.1 354.3 L453.8 356.3 L457.9 355.6 L463.3 354.3 L468.6 354.3 L472.7 355.6 L476.7 357.6 L478.7 357.6 L478.1 352.3 L473.8 352.9 L473.4 348.2 L464.6 348.0 L457.2 348.0 L456.5 344.9 L453.2 344.2 L452.8 339.9 L448.7 339.5 L448.5 349.6 L445.8 348.5 L441.7 348.9 L439.0 350.2 L438.8 351.2 L434.8 350.4 L432.6 350.8 L431.6 350.2 L429.6 350.8 L429.0 348.8 L428.9 347.6 L428.8 347.6 L428.7 347.4 L416.7 347.8 L416.7 348.0 L416.4 348.0 L416.5 349.2 L415.9 352.9 L413.5 352.9 L408.7 353.6 L408.6 354.4 L406.6 355.4 L403.6 353.0 L397.6 354.4 L398.6 361.1 L400.0 361.0 L400.0 361.0 L405.4 362.4 L409.4 363.7 L414.8 363.0 L415.8 362.5 L418.7 363.5 L420.0 362.5 L421.5 364.4 L422.9 367.7 L426.9 367.1 L431.0 368.4 L433.6 365.7 L437.0 364.4 L441.0 367.7 L440.4 364.4 L437.7 362.4 L440.4 359.7 L439.0 357.6 L440.4 355.6 L445.8 354.3 Z" fill="#bdc8a8" fill-rule="evenodd" stroke="#767d6a" stroke-width="0.9"/>
<path d="M358.4 372.1 L364.4 368.7 L368.4 371.1 L366.4 375.2 L361.4 376.2 Z" fill="#bdc8a8" fill-rule="evenodd" stroke="#767d6a" stroke-width="0.9"/>
<path d="M356.8 380.2 L361.4 378.8 L364.0 381.2 L362.8 385.2 L358.0 385.2 Z" fill="#bdc8a8" fill-rule="evenodd" stroke="#767d6a" stroke-width="0.9"/>
<path d="M335.8 378.8 L348.3 379.6 L348.7 388.2 L341.9 388.2 L339.3 384.2 Z" fill="#bdc8a8" fill-rule="evenodd" stroke="#767d6a" stroke-width="0.9"/>
<path d="M351.3 395.3 L354.3 393.3 L357.4 395.3 L357.4 399.3 L361.4 398.9 L364.0 403.3 L359.4 403.7 L355.3 401.3 L351.3 400.3 Z" fill="#bdc8a8" fill-rule="evenodd" stroke="#767d6a" stroke-width="0.9"/>
<path d="M524.4 330.7 L520.4 328.0 L516.3 329.4 L512.3 328.7 L511.6 332.1 L514.3 336.1 L513.0 340.2 L512.3 346.2 L513.7 349.0 L510.4 349.0 L510.2 351.2 L506.9 352.3 L503.6 355.0 L504.9 357.6 L506.9 359.7 L509.5 360.2 L509.4 361.1 L504.4 367.1 L501.4 366.1 L504.0 370.1 L505.0 373.7 L504.9 373.8 L504.2 377.8 L504.1 379.0 L503.4 381.2 L504.8 385.2 L505.8 386.3 L506.2 390.9 L508.5 390.9 L509.4 393.3 L511.4 398.3 L515.5 402.3 L518.5 407.3 L520.5 411.4 L524.5 411.0 L528.5 409.3 L530.1 403.3 L530.1 393.3 L528.1 385.2 L526.6 380.5 L525.8 376.5 L523.7 371.1 L521.0 365.7 L519.9 362.8 L518.5 357.1 L517.7 349.4 L518.4 344.9 L520.4 340.2 L523.1 336.1 L526.4 332.1 L531.1 328.0 L536.5 324.0 L526.4 324.0 L524.4 330.7 Z" fill="#bdc8a8" fill-rule="evenodd" stroke="#767d6a" stroke-width="0.9"/>
<path d="M382.5 168.4 L382.5 175.1 L387.5 174.5 L392.5 173.5 L395.4 181.5 L390.5 181.0 L386.1 182.4 L386.5 189.0 L391.5 189.0 L392.5 186.0 L397.6 185.0 L397.6 184.9 L399.6 184.9 L399.6 189.0 L400.0 189.0 L400.0 196.9 L409.4 196.9 L410.1 194.0 L410.1 194.0 L410.1 193.9 L410.6 193.9 L410.6 194.1 L416.7 194.5 L421.7 194.5 L421.7 192.4 L424.9 190.6 L424.9 186.5 L421.7 187.5 L421.7 187.0 L418.7 186.0 L414.7 178.0 L413.1 178.0 L412.8 171.0 L411.0 171.2 L407.7 170.7 L408.1 169.0 L405.4 163.6 L402.6 163.6 L400.6 162.4 L399.6 156.4 L397.0 156.4 L396.6 162.4 L384.1 163.4 L384.1 168.4 L382.5 168.4 Z" fill="#bdc8a8" fill-rule="evenodd" stroke="#767d6a" stroke-width="0.9"/>
<path d="M321.8 262.0 L334.2 261.4 L334.6 264.5 L330.2 265.5 L329.2 268.1 L321.8 268.1 Z" fill="#bdc8a8" fill-rule="evenodd" stroke="#767d6a" stroke-width="0.9"/>
<path d="M349.3 222.2 L354.3 221.8 L357.4 223.2 L359.4 222.2 L356.4 225.2 L353.9 229.3 L353.3 235.3 L349.3 235.3 Z" fill="#bdc8a8" fill-rule="evenodd" stroke="#767d6a" stroke-width="0.9"/>
<path d="M357.4 209.2 L362.4 208.2 L362.8 213.2 L365.4 214.2 L364.8 218.2 L357.4 217.8 Z" fill="#bdc8a8" fill-rule="evenodd" stroke="#767d6a" stroke-width="0.9"/>
<path d="M360.4 190.1 L370.4 189.7 L371.4 194.1 L369.4 199.1 L365.4 200.1 L362.0 198.1 L360.4 194.1 Z" fill="#bdc8a8" fill-rule="evenodd" stroke="#767d6a" stroke-width="0.9"/>
<path d="M366.4 222.2 L373.4 221.2 L374.5 217.2 L379.5 216.2 L380.5 220.2 L383.5 221.2 L382.9 227.3 L378.5 229.3 L374.5 228.3 L371.4 231.3 L371.4 239.3 L366.4 239.3 L366.0 232.7 L362.4 231.9 L362.4 226.6 L366.4 226.2 Z" fill="#bdc8a8" fill-rule="evenodd" stroke="#767d6a" stroke-width="0.9"/>
<path d="M366.0 245.3 L374.5 245.3 L375.5 248.4 L372.0 250.4 L371.4 254.4 L366.0 254.0 Z" fill="#bdc8a8" fill-rule="evenodd" stroke="#767d6a" stroke-width="0.9"/>
<path d="M383.5 240.3 L385.5 238.7 L390.5 238.3 L392.5 242.3 L395.6 241.9 L398.6 245.3 L399.6 252.4 L395.6 254.4 L394.6 262.4 L384.5 263.4 L384.5 256.4 L382.9 246.4 L384.5 244.3 Z" fill="#bdc8a8" fill-rule="evenodd" stroke="#767d6a" stroke-width="0.9"/>
<path d="M367.4 256.4 L374.5 256.0 L374.0 262.4 L367.4 262.8 Z" fill="#bdc8a8" fill-rule="evenodd" stroke="#767d6a" stroke-width="0.9"/>
<path d="M358.4 264.5 L361.4 262.0 L371.4 262.8 L371.4 270.5 L365.4 271.5 L365.4 276.5 L358.4 277.5 Z" fill="#bdc8a8" fill-rule="evenodd" stroke="#767d6a" stroke-width="0.9"/>
<path d="M404.7 249.4 L404.6 249.4 L404.6 249.8 L404.0 253.3 L404.6 254.8 L404.6 256.4 L407.5 258.6 L408.1 259.7 L409.6 259.9 L412.7 261.4 L417.7 260.4 L417.7 252.4 L412.9 249.7 L412.8 249.2 L411.3 248.8 L410.6 248.4 L410.2 248.5 L408.1 247.9 L404.7 249.2 L404.7 249.4 Z" fill="#bdc8a8" fill-rule="evenodd" stroke="#767d6a" stroke-width="0.9"/>
<path d="M420.2 256.9 L421.3 256.9 L421.3 257.0 L420.2 257.0 L420.2 260.4 L422.9 262.4 L428.3 264.4 L429.9 264.0 L430.8 264.5 L440.0 263.4 L440.0 256.9 L440.4 256.9 L440.0 256.5 L440.0 247.4 L434.8 246.4 L434.2 246.8 L432.3 246.5 L430.0 249.2 L426.7 248.4 L424.3 249.2 L424.2 249.2 L424.2 249.2 L420.7 250.4 L420.9 252.6 L420.2 253.3 L420.2 256.9 Z" fill="#bdc8a8" fill-rule="evenodd" stroke="#767d6a" stroke-width="0.9"/>
<path d="M427.8 241.8 L427.6 241.8 L428.3 245.5 L432.3 245.3 L434.8 245.3 L440.0 246.4 L440.0 238.3 L434.8 238.3 L432.8 240.3 L427.7 241.3 L427.8 241.8 Z" fill="#bdc8a8" fill-rule="evenodd" stroke="#767d6a" stroke-width="0.9"/>
<path d="M393.6 215.3 L392.5 215.2 L387.5 216.2 L388.1 219.8 L392.5 220.2 L393.6 225.2 L403.0 224.6 L403.6 219.8 L407.0 219.2 L406.6 211.8 L406.1 211.8 L406.1 211.5 L402.6 211.5 L402.6 211.2 L393.6 211.2 L393.6 215.3 Z" fill="#bdc8a8" fill-rule="evenodd" stroke="#767d6a" stroke-width="0.9"/>
<path d="M414.7 224.2 L415.5 224.2 L415.5 224.3 L416.2 224.2 L419.7 224.2 L419.7 223.7 L420.2 223.6 L420.2 216.2 L419.7 216.2 L415.5 216.2 L414.7 216.2 L414.7 224.2 Z" fill="#bdc8a8" fill-rule="evenodd" stroke="#767d6a" stroke-width="0.9"/>
<path d="M408.1 228.8 L409.3 228.7 L412.7 228.7 L412.7 228.4 L412.8 228.4 L412.8 224.7 L408.1 225.0 L408.1 228.8 Z" fill="#bdc8a8" fill-rule="evenodd" stroke="#767d6a" stroke-width="0.9"/>
<path d="M375.5 189.0 L380.5 189.0 L380.5 194.1 L375.5 194.1 Z" fill="#bdc8a8" fill-rule="evenodd" stroke="#767d6a" stroke-width="0.9"/>
<path d="M429.6 235.1 L430.8 235.3 L430.8 236.7 L440.0 236.3 L440.0 235.1 L440.4 235.1 L442.8 231.7 L443.1 227.7 L440.4 225.0 L440.0 225.0 L440.0 224.6 L434.8 225.3 L434.3 225.3 L433.2 225.5 L430.8 225.8 L430.8 225.9 L429.6 226.1 L429.6 235.1 Z" fill="#bdc8a8" fill-rule="evenodd" stroke="#767d6a" stroke-width="0.9"/>
<path d="M432.5 269.8 L432.3 269.8 L432.3 275.6 L432.8 275.6 L432.8 276.1 L439.4 275.6 L440.4 276.5 L447.1 277.9 L451.1 277.2 L451.1 273.2 L448.5 271.8 L447.8 273.8 L446.4 272.5 L445.8 266.4 L438.4 265.7 L438.1 267.0 L432.4 268.5 L432.5 269.8 Z" fill="#bdc8a8" fill-rule="evenodd" stroke="#767d6a" stroke-width="0.9"/>
<path d="M492.9 187.2 L490.4 187.9 L490.4 188.4 L490.3 188.4 L490.3 188.0 L482.7 188.0 L482.3 191.7 L471.2 192.1 L471.2 194.5 L470.0 194.7 L470.0 198.1 L470.7 203.5 L471.3 207.8 L483.4 207.5 L484.1 203.5 L490.3 203.5 L490.3 208.2 L470.7 208.2 L470.7 212.2 L475.4 212.9 L480.8 212.6 L486.1 212.9 L490.3 212.7 L490.3 214.2 L498.4 214.2 L502.8 213.2 L505.2 208.2 L506.0 201.1 L504.0 196.1 L498.4 195.1 L496.4 189.0 L493.2 188.7 L492.9 187.2 Z M477.8 195.5 L475.4 196.7 L474.6 195.6 L477.8 195.5 Z M490.3 195.1 L490.3 198.8 L484.1 199.4 L483.5 195.3 L490.3 195.1 Z" fill="#bdc8a8" fill-rule="evenodd" stroke="#767d6a" stroke-width="0.9"/>
<path d="M447.1 169.0 L449.1 169.0 L451.8 171.7 L453.2 175.8 L451.1 178.5 L448.5 174.4 Z" fill="#bdc8a8" fill-rule="evenodd" stroke="#767d6a" stroke-width="0.9"/>
<path d="M435.7 178.7 L441.0 178.7 L441.0 183.8 L435.7 183.8 Z" fill="#bdc8a8" fill-rule="evenodd" stroke="#767d6a" stroke-width="0.9"/>
<path d="M446.4 188.5 L444.7 189.2 L444.6 192.7 L444.4 192.7 L444.4 192.2 L431.6 192.2 L431.6 192.7 L431.0 192.7 L430.3 198.1 L431.0 203.5 L439.0 203.5 L439.7 207.5 L445.1 207.5 L445.8 203.5 L454.5 203.5 L453.8 198.1 L449.8 198.1 L449.6 196.9 L451.1 196.9 L451.8 193.9 L455.2 193.3 L455.9 189.2 L457.2 183.8 L458.5 178.5 L453.8 180.1 L451.1 179.5 L446.4 180.1 L446.4 188.5 Z" fill="#bdc8a8" fill-rule="evenodd" stroke="#767d6a" stroke-width="0.9"/>
<path d="M470.7 177.1 L474.0 175.1 L477.4 175.8 L483.4 176.0 L483.4 180.5 L470.7 180.5 Z" fill="#bdc8a8" fill-rule="evenodd" stroke="#767d6a" stroke-width="0.9"/>
<path d="M589.5 180.0 L588.8 180.0 L589.5 184.7 L596.2 185.4 L596.2 189.7 L594.2 189.9 L593.7 190.0 L583.0 190.0 L582.8 186.7 L580.8 186.7 L580.8 186.5 L577.4 185.2 L573.4 183.2 L571.3 182.5 L570.6 183.0 L570.0 182.7 L570.0 183.5 L565.9 186.5 L567.6 190.0 L563.3 190.0 L563.3 199.4 L563.9 204.8 L565.9 206.2 L570.0 206.5 L570.0 206.9 L572.3 206.6 L575.4 206.8 L575.7 206.8 L578.1 211.0 L582.8 213.0 L586.2 212.3 L590.2 213.0 L592.0 208.8 L592.9 208.8 L593.3 208.3 L594.9 208.3 L594.2 213.6 L593.6 221.0 L596.9 223.1 L603.6 223.7 L611.0 221.7 L610.6 215.7 L613.7 213.6 L613.1 206.9 L615.4 206.9 L615.0 205.0 L615.1 204.9 L615.1 201.0 L615.4 199.2 L615.4 196.5 L612.7 195.6 L612.4 195.5 L611.7 192.8 L610.4 194.1 L608.5 197.3 L608.3 197.5 L605.7 198.2 L603.0 196.8 L602.0 195.4 L601.5 194.5 L601.0 191.4 L605.0 186.7 L603.4 185.8 L603.9 185.8 L606.6 183.1 L603.9 181.0 L600.7 181.7 L601.0 180.0 L600.4 180.0 L600.6 178.4 L602.6 177.0 L603.3 174.3 L595.9 174.3 L595.9 174.4 L595.6 174.4 L595.7 180.0 L595.3 180.0 L595.2 179.0 L595.2 174.3 L589.1 174.3 L589.1 174.7 L588.8 174.7 L588.8 178.5 L589.4 179.5 L589.5 180.0 Z M600.6 184.2 L600.3 184.0 L600.6 182.3 L600.6 184.2 Z" fill="#bdc8a8" fill-rule="evenodd" stroke="#767d6a" stroke-width="0.9"/>
<path d="M639.6 154.1 L643.6 154.1 L643.9 164.2 L647.7 164.9 L647.7 170.3 L645.0 171.6 L642.3 176.3 L638.3 178.4 L634.9 177.7 L634.2 173.6 L637.6 171.6 L637.6 165.6 L639.3 164.2 Z" fill="#bdc8a8" fill-rule="evenodd" stroke="#767d6a" stroke-width="0.9"/>
<path d="M624.3 185.9 L625.2 188.1 L627.3 187.1 L630.2 186.8 L631.1 184.6 L631.9 184.0 L632.3 182.9 L634.2 181.0 L633.5 178.4 L630.2 179.0 L627.8 180.0 L627.2 180.0 L627.0 180.3 L626.8 180.4 L626.6 180.9 L623.8 184.7 L624.2 185.6 L624.1 185.8 L624.3 185.9 Z" fill="#bdc8a8" fill-rule="evenodd" stroke="#767d6a" stroke-width="0.9"/>
<path d="M422.2 206.2 L426.9 205.9 L427.6 209.5 L422.9 209.9 Z" fill="#bdc8a8" fill-rule="evenodd" stroke="#767d6a" stroke-width="0.9"/>
<path d="M445.8 206.8 L453.8 204.8 L455.9 210.2 L457.9 216.2 L462.6 218.9 L462.6 229.0 L458.5 230.4 L457.9 226.3 L451.8 226.3 L451.1 223.6 L447.1 223.6 L446.4 215.6 L445.1 211.5 Z" fill="#bdc8a8" fill-rule="evenodd" stroke="#767d6a" stroke-width="0.9"/>
<path d="M446.4 236.4 L453.2 235.1 L453.6 241.1 L447.1 241.4 Z" fill="#bdc8a8" fill-rule="evenodd" stroke="#767d6a" stroke-width="0.9"/>
<path d="M448.5 243.8 L453.2 243.8 L453.6 249.9 L448.5 250.3 Z" fill="#bdc8a8" fill-rule="evenodd" stroke="#767d6a" stroke-width="0.9"/>
<path d="M457.9 230.4 L463.3 230.4 L464.6 233.1 L468.6 231.0 L472.7 231.7 L473.4 234.4 L470.0 235.1 L467.3 237.1 L463.9 237.1 L463.3 240.5 L459.2 240.1 L458.1 235.8 Z" fill="#bdc8a8" fill-rule="evenodd" stroke="#767d6a" stroke-width="0.9"/>
<path d="M464.6 237.8 L472.7 236.4 L476.7 237.1 L477.0 246.5 L475.4 249.2 L471.3 249.9 L470.0 247.9 L464.6 247.2 Z" fill="#bdc8a8" fill-rule="evenodd" stroke="#767d6a" stroke-width="0.9"/>
<path d="M464.6 217.6 L467.3 216.9 L471.3 213.6 L473.4 216.9 L472.7 221.0 L475.4 221.6 L475.6 226.3 L472.0 226.6 L471.3 222.3 L467.3 223.0 L464.3 222.3 Z" fill="#bdc8a8" fill-rule="evenodd" stroke="#767d6a" stroke-width="0.9"/>
<path d="M476.7 223.0 L484.1 222.3 L484.5 227.7 L479.4 228.4 L476.7 227.0 Z" fill="#bdc8a8" fill-rule="evenodd" stroke="#767d6a" stroke-width="0.9"/>
<path d="M484.1 221.6 L488.8 221.0 L489.5 216.9 L496.9 214.2 L500.0 214.9 L500.0 222.3 L494.2 223.0 L492.9 225.0 L486.1 225.3 Z" fill="#bdc8a8" fill-rule="evenodd" stroke="#767d6a" stroke-width="0.9"/>
<path d="M489.5 227.7 L488.8 229.7 L484.8 230.4 L484.8 239.5 L487.2 239.8 L487.5 243.2 L492.9 243.2 L494.2 244.5 L498.4 244.0 L498.9 244.8 L500.2 245.2 L500.2 249.8 L502.9 248.5 L506.9 249.8 L511.0 247.8 L515.0 249.1 L520.4 248.5 L523.1 250.9 L531.1 251.2 L533.8 249.1 L537.9 249.8 L543.3 252.5 L547.1 256.3 L544.4 260.4 L539.0 259.0 L535.7 261.7 L537.0 265.1 L539.7 265.1 L542.4 267.8 L546.4 267.1 L548.5 263.7 L549.3 263.9 L548.6 266.0 L549.7 269.3 L548.5 269.8 L549.1 273.2 L552.5 275.8 L556.5 277.2 L557.9 281.2 L561.2 281.9 L564.6 283.2 L570.7 283.9 L570.0 279.9 L568.6 274.5 L568.5 274.5 L568.8 274.0 L567.2 270.2 L566.6 265.7 L565.7 265.7 L565.6 265.2 L566.6 265.1 L565.3 261.0 L565.0 257.7 L566.1 256.5 L566.8 248.9 L570.0 247.9 L569.3 251.9 L569.3 256.9 L573.3 256.9 L573.3 257.0 L567.3 257.0 L569.3 261.0 L572.0 264.4 L575.4 265.1 L575.6 264.8 L576.2 266.6 L578.9 261.9 L582.3 255.2 L580.2 249.1 L582.1 246.5 L581.1 244.9 L580.1 245.8 L580.1 245.8 L581.6 244.3 L584.1 243.8 L584.0 243.3 L584.1 243.3 L585.5 239.2 L584.1 235.2 L582.2 234.8 L580.8 233.1 L580.5 230.7 L581.4 229.8 L580.2 227.7 L580.1 227.0 L579.3 226.2 L577.8 223.5 L578.7 221.6 L575.4 218.9 L567.3 218.3 L559.2 220.3 L553.8 220.3 L549.8 223.6 L545.8 230.4 L540.4 231.7 L538.4 234.4 L538.4 229.0 L533.6 225.7 L530.3 225.7 L530.3 221.2 L525.8 221.0 L525.6 216.2 L521.5 215.6 L514.8 218.0 L508.1 219.9 L500.0 221.0 L500.0 227.7 L494.2 227.0 L489.5 227.7 Z M509.7 243.6 L509.7 238.7 L510.1 242.5 L521.5 242.5 L526.9 241.1 L531.0 243.2 L535.7 241.1 L536.2 243.3 L509.7 243.6 Z M506.5 236.0 L509.4 235.8 L509.5 236.7 L506.5 236.0 Z" fill="#bdc8a8" fill-rule="evenodd" stroke="#767d6a" stroke-width="0.9"/>
<path d="M540.4 198.1 L544.4 196.7 L546.4 200.1 L553.8 197.4 L560.6 196.7 L563.3 199.4 L563.9 204.8 L565.9 206.2 L575.4 206.8 L575.4 214.2 L533.6 214.5 L533.6 211.5 L539.0 206.8 L540.4 203.5 Z" fill="#bdc8a8" fill-rule="evenodd" stroke="#767d6a" stroke-width="0.9"/>
<path d="M453.2 263.1 L457.2 261.7 L461.9 262.4 L463.3 265.1 L465.9 265.7 L463.3 269.8 L459.9 270.5 L459.2 267.8 L455.2 268.4 L453.2 266.4 Z" fill="#bdc8a8" fill-rule="evenodd" stroke="#767d6a" stroke-width="0.9"/>
<path d="M453.2 280.6 L453.8 284.6 L457.2 284.6 L457.9 288.0 L459.9 288.6 L460.3 297.1 L464.6 297.4 L465.9 294.0 L470.0 293.3 L473.2 292.8 L475.4 293.3 L476.7 296.7 L474.7 300.1 L479.4 301.4 L480.8 304.1 L483.4 305.5 L487.5 302.8 L486.1 300.1 L487.5 295.4 L490.2 296.0 L493.5 294.0 L496.9 294.7 L500.0 293.3 L500.0 286.6 L494.2 285.9 L492.9 282.6 L487.5 282.6 L486.1 285.9 L482.1 287.3 L480.8 282.6 L474.7 283.2 L480.8 288.6 L473.8 288.6 L473.7 289.1 L473.4 281.5 L460.6 281.2 L459.9 275.8 L453.8 276.5 L453.2 280.6 Z" fill="#bdc8a8" fill-rule="evenodd" stroke="#767d6a" stroke-width="0.9"/>
<path d="M445.1 283.9 L451.8 283.2 L452.2 287.3 L448.5 288.0 L445.1 287.7 Z" fill="#bdc8a8" fill-rule="evenodd" stroke="#767d6a" stroke-width="0.9"/>
<path d="M441.7 287.3 L444.4 286.6 L446.4 289.3 L447.8 292.0 L449.1 295.4 L446.4 297.4 L443.1 295.4 L441.0 290.6 L439.0 290.0 Z" fill="#bdc8a8" fill-rule="evenodd" stroke="#767d6a" stroke-width="0.9"/>
<path d="M470.0 257.0 L482.1 257.0 L482.4 262.4 L480.8 265.7 L477.4 268.4 L476.7 270.5 L472.7 271.1 L470.7 268.4 L471.3 265.1 L468.6 263.1 Z" fill="#bdc8a8" fill-rule="evenodd" stroke="#767d6a" stroke-width="0.9"/>
<path d="M484.1 259.0 L487.5 258.3 L491.5 260.4 L494.2 265.1 L492.9 269.8 L488.8 270.5 L487.5 267.1 L484.8 265.1 Z" fill="#bdc8a8" fill-rule="evenodd" stroke="#767d6a" stroke-width="0.9"/>
<path d="M464.6 273.8 L468.6 272.5 L472.0 274.5 L476.7 275.2 L478.1 277.9 L475.4 279.9 L472.7 279.2 L470.0 280.6 L466.6 278.5 Z" fill="#bdc8a8" fill-rule="evenodd" stroke="#767d6a" stroke-width="0.9"/>
<path d="M488.8 274.5 L492.9 272.5 L496.6 273.8 L496.2 278.5 L494.2 281.9 L490.2 281.2 L489.5 277.9 Z" fill="#bdc8a8" fill-rule="evenodd" stroke="#767d6a" stroke-width="0.9"/>
<path d="M451.8 301.1 L457.9 301.1 L458.1 297.4 L460.6 297.4 L460.8 301.4 L470.0 301.4 L470.0 305.7 L467.3 308.8 L459.2 309.2 L457.9 306.1 L451.8 306.1 Z" fill="#bdc8a8" fill-rule="evenodd" stroke="#767d6a" stroke-width="0.9"/>
<path d="M461.2 317.6 L465.9 312.9 L470.0 310.2 L470.7 306.8 L473.4 306.1 L475.4 310.8 L477.4 313.5 L475.4 317.6 L472.7 316.9 L470.0 323.9 L461.2 323.9 Z" fill="#bdc8a8" fill-rule="evenodd" stroke="#767d6a" stroke-width="0.9"/>
<path d="M450.5 318.2 L459.2 317.6 L461.2 320.3 L461.2 323.9 L450.5 323.9 Z" fill="#bdc8a8" fill-rule="evenodd" stroke="#767d6a" stroke-width="0.9"/>
<path d="M478.7 314.2 L480.8 310.2 L486.1 306.8 L490.2 307.5 L494.2 308.8 L496.9 313.5 L500.0 314.9 L500.0 323.9 L479.4 323.9 Z" fill="#bdc8a8" fill-rule="evenodd" stroke="#767d6a" stroke-width="0.9"/>
<path d="M500.0 255.0 L505.4 253.6 L510.8 255.7 L516.2 253.6 L521.5 256.3 L520.2 260.4 L522.9 263.1 L523.6 267.1 L520.2 270.5 L516.8 268.4 L514.8 265.1 L510.8 263.1 L508.1 264.4 L504.0 261.7 L500.0 262.4 Z" fill="#bdc8a8" fill-rule="evenodd" stroke="#767d6a" stroke-width="0.9"/>
<path d="M521.5 272.5 L526.2 271.1 L528.3 268.4 L532.3 267.1 L535.0 269.8 L539.0 268.4 L543.1 270.5 L544.4 273.2 L540.4 276.5 L535.7 277.2 L533.6 275.2 L531.6 279.2 L528.3 277.9 L524.9 278.5 L522.2 276.5 Z" fill="#bdc8a8" fill-rule="evenodd" stroke="#767d6a" stroke-width="0.9"/>
<path d="M500.0 282.6 L504.0 279.9 L508.1 278.5 L513.5 279.2 L514.1 281.9 L510.8 283.9 L511.4 285.9 L516.2 288.0 L520.9 288.6 L521.5 294.0 L526.9 296.0 L531.0 295.4 L531.6 298.7 L528.9 301.4 L526.9 308.1 L523.6 313.5 L520.2 316.2 L517.5 320.3 L514.8 323.9 L505.4 323.9 L504.7 317.6 L508.1 313.5 L505.4 309.5 L502.7 305.5 L500.0 305.5 Z" fill="#bdc8a8" fill-rule="evenodd" stroke="#767d6a" stroke-width="0.9"/>
<path d="M521.5 283.2 L526.2 283.2 L526.2 287.3 L528.9 287.3 L528.9 283.2 L535.0 283.2 L535.3 290.6 L538.4 290.6 L539.0 283.2 L545.8 283.2 L545.8 288.0 L543.1 290.6 L540.4 293.3 L536.3 294.0 L530.3 294.4 L529.9 291.3 L524.9 290.6 L524.2 287.3 L521.5 286.9 Z" fill="#bdc8a8" fill-rule="evenodd" stroke="#767d6a" stroke-width="0.9"/>
<path d="M533.6 296.0 L537.7 294.7 L540.4 296.0 L544.4 294.7 L545.1 298.7 L541.7 302.1 L537.7 302.8 L534.3 300.7 Z" fill="#bdc8a8" fill-rule="evenodd" stroke="#767d6a" stroke-width="0.9"/>
<path d="M545.1 290.0 L549.1 287.3 L553.2 287.3 L555.9 289.3 L556.5 292.7 L559.2 294.7 L557.9 298.7 L553.8 301.4 L551.8 298.7 L548.5 298.7 L545.8 296.0 L543.7 293.3 Z" fill="#bdc8a8" fill-rule="evenodd" stroke="#767d6a" stroke-width="0.9"/>
<path d="M553.8 301.4 L557.9 298.7 L560.6 301.4 L564.6 300.7 L566.6 302.1 L561.9 304.1 L557.9 305.5 L553.8 308.8 L551.8 305.5 Z" fill="#bdc8a8" fill-rule="evenodd" stroke="#767d6a" stroke-width="0.9"/>
<path d="M528.9 308.8 L532.3 306.8 L535.0 309.5 L536.3 313.5 L540.4 310.8 L543.7 310.2 L547.1 314.2 L543.1 316.9 L539.7 320.3 L538.4 323.9 L532.3 323.9 L531.0 318.9 L527.6 316.2 L525.6 312.2 Z" fill="#bdc8a8" fill-rule="evenodd" stroke="#767d6a" stroke-width="0.9"/>
<path d="M517.5 320.3 L520.2 316.2 L523.6 313.5 L525.6 312.2 L527.6 316.2 L531.0 318.9 L532.3 323.9 L517.5 323.9 Z" fill="#bdc8a8" fill-rule="evenodd" stroke="#767d6a" stroke-width="0.9"/>
<path d="M475.4 346.9 L480.0 346.4 L480.0 346.9 L482.0 346.9 L482.0 338.8 L481.4 338.8 L480.0 338.8 L480.0 339.2 L478.7 339.5 L478.1 343.5 L474.7 345.5 L470.0 346.2 L475.4 346.9 Z" fill="#bdc8a8" fill-rule="evenodd" stroke="#767d6a" stroke-width="0.9"/>
<path d="M463.9 328.0 L473.4 327.4 L473.8 335.4 L467.3 336.8 L464.6 333.4 Z" fill="#bdc8a8" fill-rule="evenodd" stroke="#767d6a" stroke-width="0.9"/>
<path d="M451.1 324.0 L459.2 324.0 L458.5 329.4 L455.2 330.1 L451.8 326.7 Z" fill="#bdc8a8" fill-rule="evenodd" stroke="#767d6a" stroke-width="0.9"/>
<path d="M492.9 327.4 L496.9 328.0 L500.0 330.7 L500.0 324.0 L490.8 324.0 L488.8 324.0 L480.8 324.0 L480.0 324.0 L476.0 324.0 L476.0 328.0 L478.7 329.4 L479.4 332.1 L482.1 335.4 L486.1 336.1 L487.4 333.6 L488.1 333.4 L489.4 328.0 L490.4 325.3 L492.9 327.4 Z" fill="#bdc8a8" fill-rule="evenodd" stroke="#767d6a" stroke-width="0.9"/>
<path d="M491.4 344.2 L491.4 350.9 L491.5 350.9 L495.0 350.9 L495.1 351.6 L502.2 351.6 L503.6 355.0 L506.9 352.3 L503.6 348.9 L501.5 345.5 L500.0 347.0 L500.0 346.6 L496.3 346.7 L496.2 343.9 L496.0 343.9 L496.0 343.5 L496.2 343.5 L495.7 341.2 L495.6 340.2 L495.0 339.7 L492.1 336.8 L491.6 336.9 L491.5 336.8 L486.1 337.5 L488.1 341.5 L491.4 344.2 Z M491.8 344.1 L491.8 344.2 L491.4 344.2 L491.8 344.1 Z" fill="#bdc8a8" fill-rule="evenodd" stroke="#767d6a" stroke-width="0.9"/>
<path d="M486.1 359.7 L491.5 358.3 L494.2 355.6 L494.2 353.4 L494.8 351.6 L491.9 351.0 L488.8 350.2 L483.4 350.9 L484.0 355.6 L485.4 359.7 L486.0 359.5 L486.1 359.7 Z" fill="#bdc8a8" fill-rule="evenodd" stroke="#767d6a" stroke-width="0.9"/>
<path d="M508.9 324.0 L515.7 324.0 L515.0 326.7 L509.6 326.7 Z" fill="#bdc8a8" fill-rule="evenodd" stroke="#767d6a" stroke-width="0.9"/>
<path d="M504.4 371.1 L523.5 371.1" fill="none" fill-rule="evenodd" stroke="#767d6a" stroke-width="0.55"/>
<path d="M504.0 378.2 L525.5 378.2" fill="none" fill-rule="evenodd" stroke="#767d6a" stroke-width="0.55"/>
<path d="M504.8 385.2 L528.1 385.2" fill="none" fill-rule="evenodd" stroke="#767d6a" stroke-width="0.55"/>
<path d="M509.4 392.9 L530.1 392.9" fill="none" fill-rule="evenodd" stroke="#767d6a" stroke-width="0.55"/>
<path d="M511.4 397.7 L522.9 397.7" fill="none" fill-rule="evenodd" stroke="#767d6a" stroke-width="0.55"/>
<path d="M511.4 371.1 L511.4 392.9" fill="none" fill-rule="evenodd" stroke="#767d6a" stroke-width="0.55"/>
<path d="M516.5 378.2 L516.5 397.7" fill="none" fill-rule="evenodd" stroke="#767d6a" stroke-width="0.55"/>
<path d="M521.5 371.1 L521.5 392.9" fill="none" fill-rule="evenodd" stroke="#767d6a" stroke-width="0.55"/>
<path d="M522.9 392.9 L522.9 411.0" fill="none" fill-rule="evenodd" stroke="#767d6a" stroke-width="0.55"/>
<path d="M518.5 357.1 L510.4 361.1" fill="none" fill-rule="evenodd" stroke="#767d6a" stroke-width="0.55"/>
<path d="M514.5 361.1 L515.5 371.1" fill="none" fill-rule="evenodd" stroke="#767d6a" stroke-width="0.55"/>
<path d="M336.2 332.1 L337.0 331.2 M337.0 331.2 L337.3 328.3 M337.3 328.3 L336.2 328.0 M337.3 328.3 L338.1 327.6 M338.1 327.6 L337.9 325.3 M340.6 385.5 L342.1 380.7 M342.1 380.7 L341.5 380.0 M341.5 380.0 L337.6 380.8 M342.1 334.0 L337.0 331.2 M341.5 360.8 L342.6 360.6 M342.7 299.2 L341.4 297.9 M341.4 297.9 L338.2 298.9 M338.1 327.6 L340.1 327.6 M341.4 297.9 L341.7 295.7 M342.1 334.0 L343.2 332.5 M343.2 332.5 L342.5 330.9 M342.1 380.7 L345.8 381.7 M346.0 381.4 L346.3 379.9 M342.6 363.1 L342.8 360.8 M341.3 386.5 L346.7 385.0 M346.7 385.0 L345.8 381.7 M344.9 332.0 L343.2 332.5 M348.1 371.0 L346.7 370.0 M346.7 370.0 L345.7 370.1 M343.3 294.2 L345.4 293.9 M345.4 293.9 L345.9 292.5 M342.8 360.8 L347.1 361.0 M347.1 361.0 L348.0 358.0 M347.3 387.8 L347.5 385.8 M347.5 385.8 L346.7 385.0 M347.1 316.9 L347.1 315.4 M346.1 295.5 L345.7 294.2 M348.0 381.0 L346.0 381.4 M347.1 315.4 L350.8 313.8 M350.8 313.8 L350.5 311.3 M346.7 370.0 L347.0 366.7 M347.0 366.7 L346.5 365.9 M346.5 365.9 L343.6 365.6 M349.7 223.1 L351.4 223.9 M351.4 223.9 L352.6 222.9 M345.7 294.2 L349.3 294.3 M350.7 234.9 L350.8 232.8 M350.5 232.5 L349.7 232.4 M351.7 396.6 L352.0 395.3 M346.5 365.9 L347.8 361.8 M347.8 361.8 L347.1 361.0 M351.1 309.0 L352.2 308.3 M352.2 308.3 L352.5 304.1 M352.0 303.8 L350.3 303.7 M348.7 371.3 L351.7 370.7 M351.7 370.7 L352.1 366.4 M351.9 366.2 L347.0 366.7 M350.5 232.5 L351.2 227.7 M351.2 227.7 L350.7 227.0 M350.7 227.0 L349.7 227.1 M350.7 227.0 L351.4 223.9 M347.8 361.8 L351.5 362.8 M351.5 362.8 L352.7 361.7 M352.7 361.7 L352.0 357.8 M351.3 318.9 L347.4 317.6 M351.9 366.2 L351.5 362.8 M353.1 232.8 L350.8 232.8 M352.0 303.8 L351.8 302.4 M351.3 318.9 L352.1 318.1 M352.1 318.1 L351.7 314.2 M351.7 314.2 L350.8 313.8 M355.6 401.0 L355.3 400.1 M355.3 400.1 L352.8 400.3 M351.2 227.7 L354.1 228.2 M356.3 224.7 L356.3 223.4 M356.3 223.4 L352.6 222.9 M355.3 400.1 L356.9 398.5 M356.9 398.5 L356.3 395.1 M355.1 394.3 L352.8 394.8 M352.1 366.4 L356.1 366.3 M357.2 365.0 L357.2 362.6 M354.6 361.5 L352.7 361.7 M355.9 347.9 L356.1 347.1 M356.1 347.1 L351.8 345.4 M354.6 299.0 L355.5 299.4 M355.7 299.2 L356.2 295.1 M356.2 295.1 L354.4 294.7 M356.7 346.8 L357.8 343.0 M357.8 343.0 L356.6 341.5 M351.7 314.2 L355.1 313.7 M353.0 308.7 L352.2 308.3 M356.6 324.2 L357.5 322.5 M357.5 322.5 L356.7 321.5 M352.5 304.1 L354.8 303.3 M354.8 303.3 L355.5 299.4 M355.4 318.5 L352.1 318.1 M356.2 295.1 L357.3 294.5 M357.3 294.5 L356.9 293.5 M356.7 304.1 L354.8 303.3 M351.7 370.7 L353.4 370.5 M359.3 399.5 L360.6 400.1 M357.3 294.5 L359.7 294.4 M359.7 294.4 L360.5 289.2 M359.5 403.3 L361.1 402.9 M361.1 402.9 L360.9 400.4 M357.5 322.5 L360.2 323.6 M360.2 323.6 L361.8 322.8 M361.8 322.8 L362.4 319.9 M356.7 304.1 L360.8 304.1 M361.3 303.7 L361.3 300.1 M361.3 300.1 L360.5 299.2 M360.5 299.2 L355.7 299.2 M357.8 212.4 L360.6 211.7 M360.6 211.7 L361.0 208.9 M357.1 328.1 L360.2 328.1 M360.2 328.1 L360.2 323.6 M360.4 331.7 L360.9 328.8 M360.9 328.8 L360.2 328.1 M357.8 216.8 L361.4 216.6 M361.4 216.6 L362.3 213.5 M362.3 213.5 L360.6 211.7 M360.2 348.0 L356.7 346.8 M358.8 275.1 L360.4 274.4 M360.4 274.4 L361.0 273.5 M361.0 273.5 L360.6 271.4 M360.6 271.4 L358.8 271.0 M360.5 299.2 L360.1 294.8 M360.7 307.2 L360.8 304.1 M360.8 193.6 L361.6 193.4 M361.6 193.4 L361.7 190.5 M361.6 375.6 L360.3 371.9 M360.3 371.9 L359.5 371.9 M361.3 309.3 L365.5 309.6 M365.1 304.3 L361.3 303.7 M360.8 276.8 L360.4 274.4 M358.8 265.2 L360.2 265.4 M360.2 265.4 L361.5 264.7 M361.5 264.7 L362.1 262.5 M360.1 294.8 L365.5 294.4 M365.9 293.8 L365.9 290.5 M365.6 290.1 L363.4 289.3 M366.4 253.1 L366.7 250.8 M360.6 271.4 L361.3 270.5 M361.3 270.5 L360.2 265.4 M357.8 343.0 L361.0 342.3 M360.9 328.8 L365.9 328.2 M366.2 327.8 L365.6 324.3 M365.6 324.3 L361.8 322.8 M360.3 371.9 L360.9 371.2 M360.2 348.0 L362.2 346.5 M362.2 346.5 L362.3 345.1 M361.6 375.6 L362.7 375.5 M364.8 375.1 L365.6 370.6 M365.6 370.6 L361.8 370.6 M362.0 217.4 L361.4 216.6 M362.1 197.2 L361.9 193.6 M361.3 300.1 L365.9 298.0 M365.9 298.0 L365.5 294.4 M365.0 275.2 L361.0 273.5 M361.3 270.5 L364.8 269.5 M364.8 269.5 L365.6 266.3 M365.5 266.3 L361.5 264.7 M365.8 199.5 L364.4 199.1 M366.3 270.9 L364.8 269.5 M361.9 193.6 L366.6 194.0 M366.6 194.0 L367.7 193.3 M367.7 193.3 L367.2 190.2 M365.1 333.5 L366.2 332.6 M366.2 332.6 L365.9 328.2 M366.2 316.2 L366.8 313.7 M366.8 313.7 L366.2 313.1 M366.2 313.1 L364.2 313.6 M362.8 230.8 L366.3 231.4 M366.3 231.4 L367.9 227.0 M367.9 227.0 L366.8 226.1 M366.2 313.1 L366.0 312.1 M362.0 217.4 L364.5 217.7 M365.8 199.5 L366.4 198.7 M366.4 198.7 L366.6 194.0 M365.5 266.3 L365.8 262.8 M366.6 235.5 L366.7 232.1 M365.6 324.3 L366.5 323.2 M366.5 323.2 L366.0 319.8 M367.5 284.5 L370.2 284.4 M370.2 284.4 L371.0 280.5 M371.0 280.5 L370.0 279.3 M370.0 279.3 L369.1 279.2 M367.1 301.5 L366.5 298.5 M366.7 250.8 L369.7 250.2 M369.7 250.2 L370.8 246.1 M370.8 246.0 L366.4 246.3 M370.6 238.9 L371.0 236.6 M371.0 236.5 L366.6 235.5 M367.9 227.0 L370.6 226.7 M370.6 226.7 L370.4 222.0 M366.5 298.5 L367.4 298.4 M368.9 294.4 L365.9 293.8 M366.2 332.6 L367.5 333.1 M371.1 332.4 L371.1 327.8 M371.0 327.8 L366.2 327.8 M366.8 313.7 L367.9 313.7 M370.4 313.7 L370.5 312.1 M365.6 266.3 L369.3 266.1 M369.3 266.1 L370.9 264.3 M370.9 264.3 L370.7 263.1 M370.0 279.3 L370.3 278.3 M370.3 270.3 L369.3 266.1 M366.5 323.2 L369.6 322.4 M369.6 322.4 L370.2 319.7 M370.9 316.5 L370.6 313.8 M369.2 198.6 L366.4 198.7 M365.9 290.5 L368.1 290.0 M370.1 289.6 L370.5 284.8 M372.0 360.9 L371.0 359.5 M371.0 327.8 L371.0 323.8 M371.0 323.8 L369.6 322.4 M370.4 195.6 L370.1 193.6 M370.1 193.6 L367.7 193.3 M371.0 254.0 L370.6 250.8 M370.6 250.8 L369.7 250.2 M366.7 232.1 L370.9 232.0 M370.9 232.0 L370.9 226.8 M370.1 289.6 L371.0 290.2 M371.0 290.2 L375.3 288.3 M375.7 287.7 L375.1 285.5 M375.1 285.5 L370.5 284.8 M370.6 250.8 L371.5 250.8 M374.8 248.1 L374.7 247.2 M374.4 246.3 L370.8 246.1 M371.0 323.8 L375.6 321.9 M375.6 321.9 L374.8 319.6 M372.2 293.3 L371.0 290.2 M370.6 313.8 L374.8 313.3 M374.8 313.3 L375.3 311.3 M375.8 334.9 L375.3 333.3 M371.1 327.8 L375.6 327.7 M375.6 327.7 L376.3 323.7 M376.3 322.7 L375.6 321.9 M371.0 280.5 L374.5 280.1 M376.2 295.3 L376.4 293.9 M376.4 293.9 L375.4 293.5 M375.4 293.5 L374.4 293.6 M372.0 360.9 L375.5 360.3 M375.5 360.3 L375.7 356.9 M375.7 356.9 L374.6 356.6 M370.9 226.8 L374.6 226.8 M374.6 226.8 L376.2 222.5 M376.1 222.2 L373.5 221.6 M375.1 285.5 L375.8 284.3 M374.7 365.2 L375.9 360.8 M375.4 227.9 L374.6 226.8 M376.1 222.2 L376.1 217.6 M379.9 228.2 L375.4 227.9 M376.2 314.7 L374.8 313.3 M375.9 356.6 L376.1 355.3 M375.4 293.5 L375.3 288.3 M376.5 367.0 L380.4 366.3 M380.4 366.2 L380.0 362.2 M380.0 362.2 L375.9 360.8 M380.0 362.2 L381.0 361.4 M381.0 361.4 L381.6 356.8 M381.6 356.8 L375.9 356.6 M380.0 334.9 L380.7 332.5 M380.7 332.5 L380.2 331.7 M380.2 331.7 L375.3 333.3 M376.1 217.6 L379.4 217.6 M375.7 287.7 L380.8 289.5 M380.3 284.1 L378.4 283.8 M376.4 293.9 L378.4 293.5 M380.4 228.0 L381.3 226.9 M381.3 226.9 L379.6 222.7 M379.6 222.7 L376.2 222.5 M380.1 368.9 L380.4 366.3 M379.6 222.7 L380.8 221.7 M380.8 221.7 L381.1 220.8 M380.7 332.5 L385.5 333.1 M385.9 332.8 L384.3 328.2 M384.5 367.0 L380.4 366.2 M385.1 334.4 L385.5 333.1 M384.1 174.5 L382.9 174.2 M382.9 169.0 L384.6 168.8 M384.6 168.8 L386.3 164.7 M386.3 164.7 L385.3 163.7 M381.6 356.8 L382.2 356.0 M382.2 356.0 L380.4 352.9 M384.0 240.7 L385.3 240.9 M385.3 240.9 L385.4 239.3 M382.6 226.7 L381.3 226.9 M384.0 245.6 L384.8 245.5 M384.8 245.5 L385.8 241.4 M383.9 250.3 L385.0 250.1 M385.0 250.1 L385.8 246.7 M385.8 246.7 L384.8 245.5 M385.7 255.5 L386.2 251.9 M386.2 251.9 L385.0 250.1 M386.4 293.7 L384.7 289.3 M382.2 356.0 L384.5 355.8 M384.5 355.8 L385.9 354.7 M385.9 354.7 L385.9 353.5 M383.0 222.4 L380.8 221.7 M387.1 174.1 L386.1 170.1 M386.1 170.1 L384.6 168.8 M385.3 366.7 L386.0 361.4 M386.0 361.4 L381.0 361.4 M386.2 361.3 L384.5 355.8 M386.0 262.8 L385.8 261.5 M385.8 261.5 L384.9 261.4 M385.9 332.8 L389.2 332.6 M389.2 332.6 L390.4 328.0 M390.0 327.4 L384.4 328.0 M384.4 328.0 L385.0 325.7 M388.8 188.3 L386.9 188.5 M388.8 188.3 L390.0 187.1 M390.0 187.1 L390.0 185.3 M386.3 164.7 L389.9 164.5 M390.3 164.2 L390.2 163.3 M385.8 241.4 L389.7 241.2 M390.0 241.0 L390.4 239.0 M385.8 246.7 L389.6 247.0 M389.6 247.0 L390.5 246.4 M390.5 246.4 L389.7 241.2 M389.5 335.5 L389.3 332.8 M389.9 279.5 L388.9 276.3 M384.7 289.3 L385.6 288.6 M386.0 261.1 L385.2 255.8 M386.0 261.1 L390.3 259.8 M390.5 259.6 L389.6 256.4 M389.6 256.4 L385.7 255.5 M386.2 361.3 L388.5 361.0 M388.9 360.7 L389.9 357.3 M389.9 357.3 L388.9 355.8 M388.9 355.8 L385.9 354.7 M390.0 327.4 L389.7 325.4 M388.9 317.7 L389.0 316.2 M390.6 293.6 L389.7 293.7 M389.3 363.9 L388.5 361.0 M388.0 217.1 L390.3 216.7 M389.9 262.5 L390.3 259.8 M390.7 320.7 L390.9 319.6 M390.9 319.6 L388.9 317.7 M386.1 170.1 L389.5 168.7 M389.5 168.7 L389.9 164.5 M386.2 251.9 L389.3 251.0 M389.3 251.0 L389.6 247.0 M390.6 293.6 L390.4 289.1 M390.4 289.1 L385.6 288.6 M388.9 275.4 L390.3 274.5 M390.3 274.5 L390.7 272.9 M390.4 289.1 L389.5 284.9 M395.0 333.8 L389.3 332.8 M390.4 328.0 L394.8 328.2 M394.8 328.2 L395.3 327.6 M395.3 327.6 L395.3 324.7 M388.9 355.8 L389.5 354.7 M390.0 255.9 L391.2 252.3 M391.2 252.3 L389.3 251.0 M390.9 319.6 L394.6 317.7 M394.6 317.7 L393.8 315.5 M395.0 333.8 L396.0 332.8 M396.0 332.8 L394.8 328.2 M389.5 168.7 L391.2 170.5 M391.2 170.5 L394.0 169.7 M394.0 169.7 L394.8 168.0 M394.8 168.0 L393.8 164.8 M393.8 164.8 L390.3 164.2 M391.1 219.7 L391.7 217.6 M391.7 217.6 L390.3 216.7 M393.9 362.0 L388.9 360.7 M389.8 173.6 L391.2 170.5 M390.9 184.5 L394.1 182.4 M391.5 187.6 L390.0 187.1 M393.8 164.8 L394.8 163.9 M394.8 163.9 L395.1 162.9 M390.8 293.7 L395.3 294.0 M395.3 294.0 L394.7 287.5 M394.7 287.5 L390.4 289.1 M394.4 260.6 L390.5 259.6 M393.8 299.4 L391.8 298.5 M391.7 217.6 L394.5 216.6 M394.5 216.6 L394.5 215.8 M390.5 246.4 L393.0 246.9 M393.0 246.9 L393.9 245.9 M393.9 245.9 L394.8 242.4 M391.6 241.3 L390.0 241.0 M391.2 252.3 L393.4 251.6 M393.4 251.6 L394.3 249.7 M394.3 249.7 L393.0 246.9 M391.1 279.5 L393.9 278.9 M393.9 278.9 L394.2 277.9 M394.2 275.8 L390.3 274.5 M394.7 224.7 L395.4 222.7 M395.4 222.7 L393.4 222.4 M395.0 255.8 L390.0 255.9 M389.9 357.3 L393.4 356.7 M393.4 356.7 L393.8 356.0 M393.8 356.0 L393.9 355.0 M393.4 174.7 L394.5 174.6 M394.5 174.6 L395.5 173.5 M395.5 173.5 L394.0 169.7 M394.1 361.9 L395.1 361.0 M395.1 361.0 L393.4 356.7 M393.1 284.2 L394.0 284.4 M394.8 287.4 L395.1 286.5 M395.1 286.5 L394.0 284.4 M395.2 254.6 L393.4 251.6 M395.5 185.0 L395.8 184.0 M395.8 184.0 L394.1 182.4 M393.8 299.4 L395.6 298.0 M395.6 298.0 L396.1 294.5 M396.1 294.5 L395.3 294.0 M395.1 179.5 L395.8 178.9 M395.8 178.9 L394.5 174.6 M395.7 222.6 L395.4 217.2 M395.4 217.2 L394.5 216.6 M396.3 360.9 L395.1 361.0 M398.9 250.0 L394.3 249.7 M398.7 359.0 L399.6 356.7 M399.6 356.7 L398.3 356.6 M395.9 356.3 L393.8 356.0 M398.6 270.1 L399.5 270.1 M399.5 270.1 L399.5 267.1 M395.5 173.5 L398.9 173.4 M398.9 173.4 L399.0 168.9 M399.0 168.9 L394.8 168.0 M395.1 286.5 L398.5 285.1 M398.3 246.0 L393.9 245.9 M396.1 294.5 L399.1 293.8 M399.6 293.3 L400.1 290.7 M400.1 290.7 L394.8 287.4 M399.4 301.0 L395.6 298.0 M394.5 322.7 L395.4 318.1 M395.4 318.1 L394.6 317.7 M395.3 327.6 L399.6 327.4 M395.4 318.1 L396.8 318.2 M398.6 274.2 L399.7 273.3 M399.7 273.3 L399.9 271.0 M399.9 271.0 L399.5 270.1 M399.1 168.8 L399.7 164.8 M399.7 164.8 L394.8 163.9 M399.2 224.4 L398.9 223.4 M398.7 223.3 L395.7 222.6 M395.8 184.0 L399.0 183.9 M399.0 183.9 L400.0 182.9 M400.0 182.9 L400.2 180.8 M400.2 180.8 L398.7 178.9 M398.7 178.9 L395.8 178.9 M400.0 356.4 L399.5 354.4 M398.7 178.9 L400.2 174.5 M400.2 174.5 L398.9 173.4 M395.4 217.2 L399.7 217.0 M399.7 217.0 L399.7 216.2 M397.2 160.1 L399.8 160.1 M398.7 223.3 L399.8 217.1 M400.1 336.1 L399.5 333.0 M399.1 332.6 L396.0 332.8 M399.1 332.6 L399.9 330.0 M405.0 361.2 L403.8 357.0 M403.8 357.0 L400.0 356.4 M402.4 348.0 L400.0 347.1 M399.4 301.0 L401.6 299.2 M401.6 299.2 L399.1 293.8 M404.3 188.6 L403.4 188.0 M403.4 188.0 L401.9 188.6 M398.9 223.4 L403.0 221.2 M403.7 219.4 L403.5 218.0 M403.5 218.0 L399.8 217.1 M403.4 188.0 L403.5 185.0 M403.5 185.0 L400.0 182.9 M400.6 304.2 L404.6 303.9 M404.6 303.9 L405.2 303.3 M405.2 303.3 L405.1 299.8 M405.1 299.8 L404.4 299.3 M404.4 299.3 L401.6 299.2 M400.2 174.5 L403.2 174.2 M403.2 174.2 L404.3 173.0 M404.3 173.0 L404.3 168.9 M404.3 168.9 L399.1 168.8 M400.2 180.8 L404.7 179.3 M404.8 179.1 L403.2 174.2 M400.0 164.5 L400.4 162.7 M403.9 217.7 L404.5 212.3 M399.9 271.0 L404.1 269.9 M404.1 269.9 L405.2 268.6 M405.2 268.6 L404.9 266.8 M400.4 284.4 L404.6 285.1 M404.6 285.1 L404.5 283.6 M403.5 278.4 L403.5 274.9 M403.5 274.9 L399.7 273.3 M405.2 255.1 L404.7 251.7 M405.3 250.5 L405.1 249.5 M404.3 168.8 L404.5 166.0 M404.5 166.0 L400.0 164.5 M399.6 293.3 L404.9 294.0 M404.9 294.0 L405.3 292.5 M405.6 289.7 L404.9 288.8 M404.9 288.8 L400.2 290.5 M408.5 258.8 L409.0 256.3 M409.0 256.3 L405.2 255.1 M404.9 288.8 L405.1 285.4 M404.5 348.0 L405.5 345.9 M405.5 345.9 L404.8 343.9 M404.8 343.9 L403.7 343.1 M404.5 166.0 L405.5 164.6 M404.3 356.5 L405.1 354.7 M404.4 299.3 L405.1 294.2 M404.3 173.0 L408.7 173.8 M408.7 173.8 L409.6 173.1 M409.6 173.1 L409.9 171.4 M407.6 169.0 L404.3 168.8 M403.5 185.0 L406.3 183.2 M406.3 183.2 L404.7 179.3 M404.5 212.3 L406.2 212.6 M403.5 274.9 L404.7 274.2 M404.7 274.2 L404.1 269.9 M403.9 307.5 L404.6 303.9 M409.3 363.2 L408.4 360.9 M408.4 360.9 L405.0 361.2 M406.3 183.2 L408.6 183.9 M408.6 183.9 L410.2 178.5 M410.2 178.5 L409.2 177.8 M409.2 177.8 L404.8 179.1 M404.8 343.9 L408.8 341.0 M408.8 341.0 L408.6 339.0 M406.5 217.3 L403.9 217.7 M409.8 347.5 L410.2 346.7 M409.8 346.2 L405.5 345.9 M406.1 308.4 L409.1 307.9 M409.3 307.6 L408.9 305.3 M408.9 305.3 L405.2 303.3 M406.9 274.1 L404.7 274.2 M405.3 250.5 L409.3 250.1 M409.5 249.9 L409.6 248.7 M408.4 360.9 L409.2 360.3 M409.2 360.3 L409.5 357.2 M409.5 357.2 L404.3 356.5 M405.1 299.8 L408.4 299.2 M408.4 299.2 L408.8 297.3 M409.2 177.8 L408.7 173.8 M406.3 269.3 L405.2 268.6 M409.0 188.8 L408.6 183.9 M408.9 305.3 L409.5 304.5 M409.5 304.5 L409.1 299.7 M409.1 299.7 L408.4 299.2 M409.1 309.7 L409.1 307.9 M409.0 256.3 L409.7 255.9 M409.7 255.9 L409.3 250.1 M409.8 189.1 L413.6 188.4 M413.6 188.4 L413.6 184.6 M413.6 184.6 L412.7 183.5 M412.7 183.5 L408.6 183.9 M409.8 346.2 L410.2 342.7 M410.2 342.7 L408.8 341.0 M411.3 313.7 L413.5 313.7 M413.5 313.7 L414.1 313.1 M414.1 313.1 L414.3 309.7 M414.3 309.7 L412.9 307.8 M412.9 307.8 L409.3 307.6 M409.1 299.7 L413.4 299.9 M413.4 299.9 L413.2 295.9 M410.2 178.5 L414.2 178.7 M412.5 173.8 L409.6 173.1 M412.9 307.8 L415.2 304.1 M415.2 304.1 L413.9 302.4 M413.9 302.4 L409.5 304.5 M409.9 356.8 L409.9 353.8 M410.2 342.7 L412.7 342.2 M413.8 315.4 L413.5 313.7 M409.2 360.3 L414.3 361.3 M414.3 361.3 L414.1 357.6 M414.1 357.6 L409.9 356.8 M413.9 260.8 L413.6 256.1 M413.6 256.1 L409.7 255.9 M413.7 255.9 L414.0 250.8 M413.8 250.6 L409.5 249.9 M414.0 362.7 L414.3 361.3 M413.9 302.4 L413.6 300.2 M412.7 183.5 L414.2 178.7 M414.1 357.6 L414.9 356.2 M414.9 356.2 L414.2 353.3 M414.7 194.0 L414.0 193.3 M414.0 193.3 L410.7 192.8 M413.6 300.2 L418.7 298.5 M418.7 298.5 L418.3 295.7 M418.3 295.7 L416.6 295.1 M413.6 184.6 L417.3 184.0 M418.6 313.5 L414.1 313.1 M416.4 352.2 L418.5 351.8 M418.5 351.8 L418.9 348.1 M415.0 194.0 L418.1 192.5 M418.1 192.5 L418.6 188.9 M418.5 188.8 L413.8 188.5 M413.8 188.5 L414.0 193.3 M414.3 309.7 L417.8 308.6 M417.6 304.6 L415.2 304.1 M417.3 256.0 L413.7 255.9 M418.5 188.8 L418.0 185.5 M418.1 173.3 L418.9 173.0 M418.9 173.0 L419.0 170.6 M419.2 193.8 L418.1 192.5 M418.3 178.5 L420.6 175.0 M420.6 175.0 L418.9 173.0 M419.7 299.3 L418.7 298.5 M419.0 362.7 L418.5 361.0 M418.5 361.0 L414.3 361.3 M419.2 193.8 L420.3 194.1 M423.2 191.1 L423.0 189.5 M423.0 189.5 L421.9 188.6 M421.9 188.6 L418.6 188.9 M418.6 360.9 L419.2 356.4 M419.2 356.4 L414.9 356.2 M422.8 261.8 L422.7 260.9 M422.7 260.9 L421.1 260.6 M421.9 188.6 L422.3 187.7 M419.2 356.4 L420.0 353.4 M420.0 353.4 L418.5 351.8 M422.7 260.9 L424.0 260.0 M424.0 260.0 L423.1 255.7 M422.9 255.5 L420.6 255.7 M420.0 353.4 L423.4 352.6 M423.4 352.6 L424.2 350.8 M424.2 350.8 L423.4 348.0 M419.2 356.4 L423.0 357.7 M423.0 357.7 L425.1 355.8 M425.1 355.8 L423.4 352.6 M421.2 250.9 L423.7 250.9 M423.7 250.9 L423.6 249.8 M423.1 366.0 L423.0 360.7 M423.0 360.7 L418.6 360.9 M423.1 360.5 L423.0 357.7 M420.6 175.0 L422.9 174.9 M422.9 174.9 L424.1 173.9 M424.1 173.5 L423.5 170.2 M419.1 178.7 L418.3 178.5 M424.2 294.1 L424.7 289.3 M423.7 178.7 L422.9 174.9 M427.9 367.0 L428.0 366.1 M428.0 366.1 L423.1 366.0 M422.9 255.5 L423.9 251.1 M423.0 189.5 L424.5 189.4 M427.4 263.6 L428.0 260.6 M427.9 260.5 L424.0 260.0 M427.9 260.5 L428.1 256.7 M428.1 256.7 L427.4 255.8 M427.4 255.8 L423.1 255.7 M427.4 255.8 L427.8 251.6 M427.4 251.2 L423.9 251.1 M428.3 365.8 L428.4 361.2 M428.3 361.0 L423.1 360.5 M428.3 242.4 L428.5 241.5 M427.5 336.8 L428.2 332.8 M428.2 332.8 L426.7 332.8 M424.9 288.8 L428.4 289.0 M428.4 289.0 L429.3 285.9 M425.1 355.8 L427.5 356.3 M427.5 356.3 L429.2 352.1 M429.2 352.1 L428.6 351.2 M428.6 351.2 L424.2 350.8 M428.2 332.8 L429.3 331.9 M429.3 331.9 L428.4 328.2 M428.4 328.2 L427.0 328.2 M429.6 295.1 L428.3 294.2 M428.3 294.2 L424.2 294.1 M428.3 361.0 L428.4 357.4 M428.4 357.4 L427.5 356.3 M428.6 351.2 L428.9 349.7 M428.7 327.7 L428.4 324.3 M427.4 251.2 L427.6 249.0 M432.4 366.4 L428.3 365.8 M429.8 241.3 L432.2 241.5 M428.0 260.6 L433.1 261.1 M433.2 261.1 L433.5 255.6 M433.1 255.2 L428.1 256.7 M433.1 255.2 L432.2 251.6 M432.2 251.6 L427.8 251.6 M429.7 304.5 L432.7 304.0 M432.7 304.0 L433.0 301.0 M433.0 301.0 L429.2 298.8 M427.9 338.4 L432.3 337.1 M432.3 337.1 L433.0 336.1 M433.0 336.1 L432.2 332.8 M432.2 332.8 L429.3 331.9 M432.2 251.6 L433.2 249.9 M433.2 249.9 L432.6 247.0 M428.4 361.2 L433.2 360.7 M433.2 360.7 L432.9 358.7 M429.9 357.1 L428.4 357.4 M430.7 197.8 L432.6 196.9 M432.6 196.9 L433.0 194.1 M432.9 193.9 L431.3 193.4 M428.7 327.7 L433.2 326.8 M433.2 326.8 L433.5 324.0 M433.5 324.0 L429.2 323.2 M433.2 244.9 L432.8 242.1 M432.8 242.1 L432.2 241.5 M430.0 227.9 L433.7 228.7 M433.7 228.7 L434.4 227.9 M434.4 227.9 L433.4 225.9 M432.5 332.6 L434.5 328.4 M434.5 328.4 L433.2 326.8 M432.9 354.3 L432.4 352.3 M432.4 352.3 L429.2 352.1 M428.3 294.2 L428.7 289.3 M428.7 289.3 L432.9 290.0 M430.5 285.6 L429.3 285.9 M432.6 338.9 L432.3 337.1 M432.4 352.3 L433.0 351.6 M433.8 306.8 L432.8 304.2 M433.1 263.8 L433.1 261.1 M433.4 275.6 L432.7 273.8 M432.3 203.1 L431.3 203.1 M432.9 269.7 L432.9 268.8 M429.6 295.1 L431.2 294.6 M432.0 294.4 L433.0 294.2 M433.0 294.2 L433.8 293.1 M433.8 293.1 L433.6 291.0 M433.6 291.0 L432.9 290.0 M433.2 236.2 L432.4 232.5 M432.4 232.5 L430.0 232.8 M432.4 232.5 L433.6 231.2 M433.6 231.2 L433.7 228.7 M433.5 255.6 L437.1 255.4 M437.1 255.4 L437.9 250.8 M437.7 250.4 L433.2 249.9 M433.0 301.0 L435.2 299.1 M435.2 299.1 L433.7 295.7 M432.8 242.1 L433.6 241.9 M432.9 193.9 L433.1 192.6 M433.4 275.6 L436.1 275.4 M436.1 275.4 L437.3 271.3 M437.3 271.3 L432.9 269.7 M437.3 271.3 L439.1 270.1 M439.1 270.1 L438.0 267.4 M437.6 236.0 L437.7 233.6 M437.7 233.6 L433.6 231.2 M432.4 366.3 L434.1 361.3 M434.1 361.3 L433.2 360.7 M432.8 304.2 L438.9 303.3 M438.9 303.3 L436.1 299.2 M436.1 299.2 L435.2 299.1 M434.1 361.3 L437.6 360.8 M437.6 360.7 L437.4 356.4 M437.4 356.4 L436.0 356.1 M434.4 227.9 L437.4 226.9 M437.7 226.7 L437.9 225.3 M433.2 203.1 L433.9 202.4 M433.9 202.4 L432.7 197.0 M433.5 324.0 L434.5 323.0 M434.5 323.0 L434.1 321.1 M437.7 233.6 L439.1 232.1 M439.1 232.1 L437.4 226.9 M433.6 291.0 L434.6 290.2 M437.8 355.9 L437.8 351.9 M437.8 351.9 L433.0 351.6 M436.7 337.1 L433.0 336.1 M438.3 263.2 L438.2 261.2 M437.8 260.9 L433.2 261.1 M433.0 194.1 L437.5 194.0 M437.5 194.0 L438.7 193.2 M432.7 197.0 L437.4 198.8 M437.4 198.8 L437.5 194.0 M434.5 328.4 L436.8 328.4 M438.0 364.7 L437.8 363.0 M437.7 361.9 L437.6 360.8 M437.4 332.5 L432.5 332.6 M437.7 250.4 L438.6 247.5 M433.9 202.4 L437.4 201.6 M437.8 201.2 L437.9 199.6 M437.9 199.6 L437.4 198.8 M436.1 299.2 L438.4 297.6 M438.4 297.6 L438.9 293.9 M434.8 293.2 L433.8 293.1 M437.5 203.1 L437.4 201.6 M440.6 232.0 L439.1 232.1 M441.0 288.6 L442.5 288.2 M437.6 360.7 L438.8 360.7 M439.8 355.8 L437.8 355.9 M442.7 354.6 L442.7 352.2 M442.7 352.2 L439.1 351.4 M439.1 365.6 L440.2 365.7 M440.2 275.8 L441.7 275.3 M441.7 275.3 L441.6 270.5 M441.6 270.5 L439.1 270.1 M437.9 199.6 L442.0 196.9 M442.0 196.9 L441.2 194.2 M441.2 194.2 L438.7 193.2 M438.2 306.9 L439.4 303.5 M437.8 260.9 L438.1 256.1 M438.1 256.1 L437.1 255.4 M440.7 207.1 L442.7 206.2 M442.7 206.2 L442.7 203.1 M442.7 203.1 L437.8 201.2 M443.1 351.5 L442.6 349.2 M438.1 256.1 L439.6 256.0 M439.6 251.2 L437.9 250.8 M441.6 270.5 L442.9 269.9 M442.9 269.9 L443.2 266.6 M439.4 303.5 L440.4 303.2 M440.1 298.4 L438.4 297.6 M443.0 293.4 L443.7 289.4 M443.7 289.4 L442.5 288.2 M438.2 261.2 L439.6 261.1 M442.7 228.0 L437.7 226.7 M443.6 295.2 L443.5 294.0 M443.1 202.7 L444.3 198.5 M444.3 198.5 L442.0 196.9 M441.2 194.2 L442.6 193.2 M443.7 207.1 L442.7 206.2 M443.7 289.4 L445.7 289.0 M442.3 275.8 L447.6 274.6 M445.8 270.6 L442.9 269.9 M443.1 351.5 L447.3 350.9 M447.3 350.9 L447.3 349.6 M447.0 277.5 L447.9 275.1 M447.8 353.9 L447.9 351.8 M447.9 351.8 L447.3 350.9 M447.5 222.2 L448.1 217.2 M448.1 217.2 L447.3 215.9 M445.9 212.6 L447.6 212.5 M447.6 212.5 L445.9 208.8 M444.3 198.5 L447.2 197.4 M447.2 197.4 L447.3 194.6 M447.0 194.2 L442.6 193.2 M446.1 207.7 L447.5 206.8 M447.7 202.9 L443.1 202.7 M447.0 194.2 L446.6 189.6 M446.6 189.6 L445.1 189.5 M447.3 215.9 L448.0 212.8 M447.2 189.2 L447.4 184.9 M447.7 202.9 L448.1 198.1 M448.1 198.1 L447.2 197.4 M448.0 212.8 L451.2 212.0 M451.2 212.0 L451.8 208.2 M451.8 208.2 L448.2 206.6 M443.5 294.0 L447.4 294.2 M449.0 342.9 L452.4 342.3 M452.4 342.3 L452.4 340.3 M451.3 322.7 L452.7 319.0 M452.7 319.0 L451.3 318.5 M447.9 351.8 L451.6 351.4 M451.6 351.4 L452.2 347.7 M452.2 347.7 L448.9 347.5 M447.3 194.6 L452.2 192.5 M452.2 192.5 L451.8 189.6 M451.8 189.6 L447.2 189.2 M447.9 295.8 L447.4 294.2 M447.9 275.1 L450.7 276.1 M452.5 225.9 L451.6 222.7 M451.6 222.7 L448.0 222.6 M448.1 217.2 L452.9 218.3 M452.9 218.3 L453.2 213.2 M453.2 213.2 L451.2 212.0 M452.7 305.7 L452.7 304.6 M448.1 198.1 L449.5 198.3 M450.3 198.5 L451.2 198.7 M452.7 193.2 L452.2 192.5 M451.9 202.9 L451.2 198.7 M451.6 222.7 L452.3 222.1 M452.3 222.1 L453.1 218.7 M451.8 208.2 L453.2 206.8 M453.2 206.8 L452.9 205.4 M452.1 183.4 L452.9 182.9 M452.9 182.9 L452.4 180.2 M452.2 347.7 L453.5 346.8 M453.5 346.8 L453.0 344.6 M456.9 323.2 L451.7 323.4 M453.6 265.0 L457.1 265.7 M457.1 265.7 L457.3 262.1 M453.4 355.4 L453.2 352.9 M453.2 352.9 L451.6 351.4 M457.2 225.9 L456.6 222.9 M456.6 222.9 L452.3 222.1 M456.9 323.2 L457.4 322.3 M457.4 322.3 L457.2 318.8 M457.2 318.8 L452.7 319.0 M452.7 304.6 L457.3 302.4 M457.3 302.4 L457.2 301.5 M453.2 352.9 L456.7 350.1 M456.7 350.1 L456.1 347.8 M456.1 347.8 L453.5 346.8 M453.2 213.2 L456.3 212.7 M454.2 207.0 L453.2 206.8 M453.1 203.1 L454.0 202.8 M455.9 355.5 L453.4 355.4 M456.9 283.9 L454.1 284.1 M456.3 183.0 L452.9 182.9 M456.5 182.8 L457.0 179.9 M457.2 267.7 L457.2 265.8 M457.4 305.7 L458.3 303.9 M458.3 303.9 L457.3 302.4 M453.7 279.7 L456.9 280.5 M457.2 280.0 L456.9 276.6 M457.0 283.8 L456.9 280.5 M460.4 289.7 L462.3 289.9 M462.4 289.8 L460.9 284.1 M460.9 284.1 L457.0 283.8 M457.5 355.3 L458.7 351.6 M458.7 351.6 L456.7 350.1 M453.1 218.7 L456.9 218.5 M456.9 218.5 L458.4 217.0 M460.6 294.1 L461.7 294.2 M462.1 293.6 L462.3 289.9 M457.0 179.9 L457.8 179.7 M458.3 226.1 L461.8 225.6 M461.8 225.6 L462.2 224.1 M462.2 222.2 L457.6 221.7 M457.6 221.7 L456.6 222.9 M457.4 318.5 L459.3 318.5 M461.6 318.4 L462.4 318.4 M462.4 318.4 L463.2 317.7 M463.2 317.7 L463.0 316.3 M462.1 323.5 L457.4 322.3 M457.6 221.7 L456.9 218.5 M458.3 231.2 L461.1 230.8 M462.2 226.3 L461.8 225.6 M463.5 303.2 L463.0 301.8 M460.3 298.5 L458.4 298.9 M463.0 323.5 L462.4 318.4 M457.2 265.8 L462.0 264.8 M462.0 264.8 L462.1 263.7 M458.5 235.4 L461.5 236.2 M461.5 236.2 L462.8 235.1 M462.8 235.1 L462.8 231.1 M457.2 280.0 L460.0 279.4 M461.6 239.9 L461.5 236.2 M458.7 351.6 L461.7 351.4 M462.0 351.2 L462.5 348.4 M461.8 354.3 L461.7 351.4 M461.8 296.8 L461.7 294.2 M460.9 284.1 L461.8 283.5 M461.8 283.5 L462.6 281.6 M467.7 221.0 L468.1 218.3 M462.2 269.6 L462.5 265.4 M465.0 245.4 L466.4 245.1 M466.4 245.1 L466.8 241.0 M466.7 240.9 L465.0 240.7 M465.2 266.0 L462.5 265.4 M466.3 276.8 L466.9 274.5 M466.9 274.5 L465.3 274.5 M465.4 294.3 L462.1 293.6 M464.9 352.2 L462.0 351.2 M466.2 334.0 L465.2 333.5 M467.1 274.3 L466.9 273.5 M466.7 247.1 L466.8 245.7 M462.4 289.8 L466.4 288.7 M466.4 288.7 L466.4 285.6 M466.4 285.6 L461.8 283.5 M466.2 334.0 L467.2 333.2 M467.2 333.2 L466.4 329.0 M466.4 329.0 L464.4 328.5 M466.8 293.4 L466.7 289.0 M464.1 323.5 L466.9 323.1 M466.9 323.1 L467.3 318.6 M467.3 318.6 L466.4 317.9 M466.4 317.9 L463.2 317.7 M466.7 240.9 L467.4 237.7 M466.7 236.7 L466.2 236.1 M466.2 236.1 L462.8 235.1 M463.5 303.2 L466.3 303.2 M466.3 303.2 L466.8 301.8 M466.4 329.0 L467.3 328.3 M467.2 307.0 L467.1 304.1 M467.1 304.1 L466.3 303.2 M470.8 335.6 L470.6 333.4 M470.6 333.4 L467.2 333.2 M466.8 285.0 L466.3 281.7 M472.1 279.0 L470.8 275.0 M470.8 275.0 L467.1 274.3 M466.8 245.7 L471.5 246.7 M471.7 246.6 L472.2 242.3 M471.8 241.8 L466.8 241.0 M466.2 236.1 L467.0 232.3 M466.7 289.0 L470.3 289.5 M470.3 289.5 L472.6 284.8 M472.6 284.8 L471.6 283.2 M471.6 283.2 L466.8 285.0 M466.4 317.9 L467.7 312.9 M467.7 312.9 L471.6 313.4 M471.6 313.4 L472.4 309.3 M472.4 309.3 L471.6 308.4 M471.6 308.4 L470.8 308.4 M468.1 218.3 L471.2 217.0 M471.2 217.0 L470.5 214.7 M471.6 179.1 L472.4 176.5 M471.0 234.5 L470.8 231.8 M471.6 283.2 L471.7 281.9 M469.6 260.6 L472.7 261.2 M473.2 260.7 L472.0 257.4 M471.8 264.6 L472.7 261.2 M470.7 199.4 L472.1 193.2 M471.0 202.0 L471.0 199.7 M469.1 222.3 L467.7 221.4 M467.3 318.6 L470.6 318.3 M470.6 318.3 L471.7 317.3 M471.7 317.3 L471.6 313.4 M472.3 207.4 L471.2 204.3 M471.3 248.1 L471.5 246.7 M467.1 304.1 L469.6 303.9 M471.8 221.4 L471.9 220.5 M471.8 241.8 L473.1 237.1 M467.2 323.3 L469.3 323.5 M471.0 320.3 L470.6 318.3 M471.7 292.6 L471.5 290.7 M471.5 290.7 L470.3 289.5 M471.6 268.9 L472.3 265.5 M472.3 265.5 L471.8 264.6 M470.6 333.4 L471.3 332.8 M471.3 332.8 L470.5 328.2 M470.5 328.2 L467.3 328.3 M476.1 247.2 L471.7 246.6 M471.3 332.8 L473.3 332.7 M471.6 308.4 L471.7 307.0 M471.5 290.7 L476.5 289.1 M477.3 284.9 L477.0 283.4 M472.3 265.5 L476.3 266.5 M477.4 265.4 L476.0 260.5 M475.9 260.4 L473.2 260.7 M474.6 356.1 L476.0 355.5 M476.4 355.1 L476.5 353.2 M472.4 309.3 L474.2 308.9 M471.0 199.7 L475.5 198.4 M475.5 198.4 L475.3 197.1 M475.0 195.2 L474.8 193.5 M474.8 193.5 L472.1 193.2 M476.8 313.7 L471.6 313.4 M474.5 212.4 L473.3 211.9 M473.3 207.4 L474.5 207.1 M474.5 207.1 L476.2 203.6 M476.2 203.6 L471.0 202.0 M474.8 193.5 L476.4 192.4 M477.6 179.8 L476.5 178.9 M476.5 178.9 L472.0 179.8 M476.5 243.3 L476.2 242.4 M476.2 242.4 L472.2 242.3 M476.6 212.2 L475.8 208.6 M476.5 326.8 L477.7 324.4 M476.3 278.7 L476.8 276.3 M472.8 270.6 L476.3 269.9 M476.7 203.3 L476.2 198.8 M476.2 198.8 L475.5 198.4 M475.9 260.4 L476.3 257.4 M476.5 178.9 L475.8 175.9 M476.6 294.3 L476.6 289.2 M476.0 300.0 L475.8 299.1 M476.2 198.8 L481.0 197.7 M481.0 197.7 L480.4 195.0 M480.4 195.0 L476.4 192.4 M481.4 212.2 L480.7 211.3 M480.7 211.3 L476.6 212.2 M481.0 331.5 L481.0 329.5 M481.0 329.5 L476.5 326.8 M478.5 203.7 L476.7 203.3 M476.0 260.5 L481.3 260.3 M481.5 260.0 L481.2 257.4 M476.2 356.9 L476.0 355.5 M476.6 289.2 L480.2 290.3 M480.2 290.3 L482.3 288.2 M482.3 288.2 L479.8 284.9 M479.8 284.9 L477.7 285.4 M481.1 303.4 L480.8 299.1 M480.8 299.1 L476.4 298.0 M480.7 211.3 L481.0 209.4 M481.0 209.4 L480.5 208.6 M479.4 318.2 L481.0 317.2 M481.0 317.2 L480.3 314.1 M480.3 314.1 L479.2 314.1 M476.4 355.1 L478.1 356.1 M481.7 334.3 L480.6 332.1 M480.3 314.1 L481.5 312.9 M481.5 312.9 L481.3 310.4 M480.9 180.1 L480.5 178.7 M480.5 178.7 L477.6 179.8 M479.8 284.9 L480.4 284.3 M480.4 284.3 L480.6 283.4 M480.8 299.1 L481.4 298.3 M481.4 298.3 L480.3 294.0 M480.3 294.0 L476.6 294.3 M480.5 178.7 L481.3 177.8 M481.3 177.8 L481.1 176.3 M479.8 323.2 L481.0 323.4 M481.0 323.4 L482.1 322.9 M482.1 322.9 L481.6 317.6 M484.6 356.2 L486.4 355.7 M486.4 355.7 L486.0 351.6 M486.0 351.6 L483.9 351.7 M481.1 203.5 L481.6 198.2 M481.3 328.8 L481.1 324.4 M486.8 359.1 L486.4 355.7 M480.8 264.8 L477.4 265.4 M481.6 263.0 L481.3 260.3 M483.0 309.3 L485.5 308.1 M485.5 308.1 L486.0 307.4 M484.6 304.2 L481.1 303.4 M480.3 294.0 L481.1 293.1 M481.1 293.1 L480.2 290.3 M481.0 209.4 L483.1 208.6 M482.0 203.7 L481.1 203.5 M480.4 195.0 L481.8 193.2 M481.8 193.2 L481.5 192.1 M481.6 198.2 L483.5 198.0 M485.3 303.8 L485.7 300.2 M485.8 299.7 L486.0 298.5 M486.0 298.5 L485.3 297.3 M485.3 297.3 L481.4 298.3 M486.4 224.9 L486.4 223.1 M486.4 223.1 L485.3 222.9 M481.6 317.6 L485.4 317.4 M485.4 317.4 L485.6 313.5 M485.6 313.5 L481.5 312.9 M485.5 265.1 L486.5 264.6 M486.5 264.6 L485.8 259.5 M485.8 259.5 L484.6 259.7 M486.6 222.8 L486.4 221.7 M481.1 293.1 L485.2 293.0 M485.2 293.0 L485.2 288.4 M485.2 288.4 L482.3 288.2 M486.4 212.0 L486.9 209.0 M485.5 288.1 L485.9 286.4 M481.0 331.5 L485.6 331.5 M485.6 331.5 L486.9 327.2 M486.5 326.7 L481.3 328.8 M483.0 178.5 L481.3 177.8 M486.3 334.9 L486.6 332.5 M486.6 332.5 L485.6 331.5 M485.7 190.8 L485.2 188.9 M486.5 326.7 L485.9 324.4 M484.5 323.0 L482.1 322.9 M485.3 297.3 L486.5 294.5 M486.5 294.5 L485.2 293.0 M486.5 294.5 L489.0 294.3 M489.0 294.3 L490.7 289.7 M490.7 289.7 L485.5 288.1 M486.0 351.5 L488.4 350.7 M490.0 295.5 L489.7 294.7 M489.7 294.7 L489.0 294.3 M485.8 313.3 L485.5 308.1 M490.9 279.6 L490.2 276.3 M484.5 323.0 L486.5 318.6 M486.5 318.6 L485.4 317.4 M486.4 355.7 L490.5 356.0 M490.5 356.0 L491.9 351.5 M491.4 224.7 L490.9 222.6 M490.3 222.1 L486.6 222.8 M490.8 190.6 L491.5 188.9 M487.2 188.4 L485.2 188.9 M486.9 209.0 L488.7 208.6 M487.8 241.9 L490.4 242.2 M490.4 242.2 L491.3 241.4 M491.3 239.7 L490.8 237.5 M486.5 318.6 L489.8 318.6 M489.8 318.6 L490.8 317.8 M490.8 317.8 L490.6 313.0 M490.6 313.0 L485.8 313.3 M487.7 323.5 L489.9 322.6 M489.9 322.6 L489.8 318.6 M490.8 312.6 L490.9 310.3 M490.9 310.3 L490.4 309.7 M490.4 309.7 L486.0 307.4 M488.0 232.2 L488.9 232.1 M491.2 343.5 L491.0 342.2 M491.0 342.2 L489.6 342.2 M490.4 269.8 L490.7 266.2 M490.7 266.2 L489.8 264.9 M489.8 264.9 L486.5 264.6 M490.7 289.7 L491.9 289.0 M491.9 289.0 L490.3 285.0 M490.3 285.0 L486.9 284.9 M486.9 327.2 L489.1 327.7 M491.0 323.5 L489.9 322.6 M489.8 264.9 L491.1 260.8 M490.6 260.4 L485.9 259.5 M488.0 332.3 L486.6 332.5 M487.7 212.4 L486.4 212.0 M490.3 222.1 L491.2 218.1 M491.2 218.1 L490.0 217.1 M490.4 309.7 L490.7 308.1 M490.2 276.3 L491.3 274.8 M491.3 274.8 L491.1 273.8 M494.7 323.5 L495.4 322.4 M495.4 322.4 L495.4 319.2 M495.4 319.2 L490.8 317.8 M490.7 198.6 L491.4 197.8 M491.4 197.8 L490.8 194.4 M491.4 232.7 L490.6 232.1 M490.7 213.1 L492.3 211.8 M492.3 211.8 L491.4 209.1 M491.4 209.1 L490.5 208.6 M490.9 284.4 L490.9 283.0 M491.0 280.9 L491.0 279.7 M491.1 358.0 L491.4 356.7 M491.4 356.7 L490.5 356.0 M492.2 203.0 L494.3 203.4 M494.3 203.4 L495.9 202.1 M495.9 202.1 L495.2 197.8 M495.2 197.8 L491.4 197.8 M496.1 243.9 L496.3 242.5 M491.0 279.7 L494.8 280.1 M495.4 279.1 L495.3 274.7 M495.3 274.7 L491.3 274.8 M490.7 266.2 L493.6 265.8 M491.4 232.7 L492.7 232.1 M493.4 231.8 L494.1 231.5 M494.1 231.5 L494.5 229.7 M490.8 193.9 L496.0 193.2 M496.1 193.1 L495.3 189.3 M490.9 310.3 L493.3 308.9 M489.7 294.7 L492.2 294.3 M495.0 289.4 L491.9 289.0 M491.1 342.2 L491.2 337.3 M492.4 356.8 L491.4 356.7 M491.2 218.1 L495.0 217.6 M495.3 217.1 L495.2 215.3 M495.1 213.8 L494.0 212.5 M494.0 212.5 L492.3 211.8 M491.4 209.1 L495.0 206.7 M495.0 206.7 L494.3 203.4 M495.3 238.5 L495.4 237.0 M495.4 237.0 L493.9 236.6 M490.9 284.4 L493.1 284.3 M495.8 318.8 L496.2 313.3 M496.2 313.3 L490.8 312.6 M490.9 222.6 L495.8 222.4 M495.8 222.4 L496.3 221.7 M496.3 221.7 L495.0 217.6 M495.4 341.7 L491.1 342.2 M495.0 289.4 L495.3 286.4 M494.0 212.5 L497.2 208.2 M497.2 208.2 L495.0 206.7 M499.0 323.5 L495.4 322.4 M500.3 291.9 L500.5 289.8 M500.5 289.8 L499.8 289.0 M499.8 289.0 L498.1 289.2 M495.4 233.1 L494.8 231.9 M494.8 231.9 L494.1 231.5 M495.3 217.1 L499.6 216.7 M500.8 213.2 L500.9 212.4 M500.4 211.9 L495.1 213.8 M495.3 274.7 L496.0 274.0 M495.5 197.5 L496.0 193.2 M499.3 351.2 L495.4 350.9 M496.8 236.0 L499.1 236.0 M499.1 236.0 L499.7 231.5 M499.7 231.5 L494.8 231.9 M499.7 231.5 L500.4 230.6 M499.8 289.0 L500.9 285.9 M500.9 285.9 L500.4 285.1 M497.2 208.2 L499.3 208.3 M499.3 208.3 L500.4 206.9 M500.4 206.9 L500.1 204.5 M499.0 202.3 L495.9 202.1 M496.1 193.1 L497.3 193.2 M496.5 242.4 L500.1 241.2 M500.1 241.2 L500.8 237.4 M500.8 237.4 L499.1 236.0 M500.4 211.9 L499.3 208.3 M501.0 351.2 L500.2 347.7 M500.6 261.9 L500.6 261.1 M500.6 199.2 L499.8 197.8 M499.8 197.8 L495.5 197.5 M498.8 222.0 L496.3 221.7 M502.2 245.8 L500.1 241.2 M499.8 197.8 L500.2 195.8 M499.1 318.6 L495.8 318.8 M500.8 237.4 L503.7 236.6 M503.7 236.6 L504.4 232.8 M504.1 231.5 L502.3 230.8 M502.4 290.3 L500.5 289.8 M499.1 318.6 L499.6 317.4 M500.4 206.9 L504.2 206.8 M504.2 206.8 L505.2 204.6 M505.2 202.1 L503.8 202.0 M500.9 212.4 L502.8 212.2 M504.9 207.6 L504.2 206.8 M500.2 347.7 L500.7 346.9 M502.9 303.6 L504.7 303.5 M504.7 303.5 L506.2 299.2 M500.6 261.1 L505.1 260.6 M505.1 260.6 L505.1 256.2 M504.7 255.9 L500.4 256.7 M504.7 246.6 L505.7 246.0 M505.7 246.0 L505.5 241.5 M505.5 241.5 L500.1 241.2 M500.6 199.2 L504.1 197.4 M505.2 356.7 L504.0 351.8 M504.0 351.8 L502.7 351.7 M503.8 381.2 L504.7 380.9 M504.7 380.9 L505.9 379.7 M505.9 379.7 L504.9 376.8 M506.3 289.3 L504.0 285.6 M504.0 285.6 L500.9 285.9 M500.4 222.3 L505.4 221.1 M504.0 351.8 L504.9 351.1 M506.0 385.6 L504.7 380.9 M504.7 255.9 L504.6 254.2 M504.0 285.6 L505.4 283.3 M505.4 283.3 L504.8 280.1 M505.2 308.6 L506.0 307.8 M506.0 307.8 L505.4 304.3 M505.4 304.3 L504.7 303.5 M505.9 262.5 L506.3 261.3 M506.3 261.3 L505.1 260.6 M505.5 223.1 L505.6 221.4 M505.2 202.1 L505.6 201.3 M505.2 372.8 L506.1 370.8 M506.1 370.8 L504.9 369.7 M505.5 357.1 L510.0 356.6 M510.3 356.4 L509.7 351.8 M505.5 241.5 L505.9 240.7 M505.9 240.7 L505.9 237.9 M505.9 237.9 L503.7 236.6 M505.4 283.3 L509.9 284.8 M509.9 284.8 L510.7 280.5 M510.5 280.3 L505.2 279.9 M505.2 318.3 L510.5 318.0 M510.6 317.9 L510.0 313.4 M510.0 313.4 L508.5 313.3 M506.2 299.2 L508.7 298.6 M508.7 298.6 L508.9 296.7 M505.4 304.3 L509.7 303.7 M509.5 248.1 L508.8 246.2 M508.8 246.2 L505.7 246.0 M509.0 390.9 L509.1 385.7 M509.1 385.7 L506.0 385.6 M506.1 370.8 L509.2 371.4 M509.2 371.4 L510.1 366.6 M510.1 366.6 L507.8 366.3 M507.8 323.5 L509.8 323.1 M509.8 323.1 L510.4 322.3 M510.4 322.3 L510.5 318.0 M505.6 221.4 L509.6 222.9 M509.6 222.9 L510.3 219.7 M509.2 226.7 L510.1 223.5 M504.9 376.8 L508.9 374.7 M508.9 374.7 L509.2 371.4 M510.2 294.1 L509.9 288.5 M509.8 288.4 L506.4 289.3 M508.8 246.2 L510.1 245.3 M510.1 245.3 L510.6 244.0 M509.2 241.5 L505.9 240.7 M509.8 288.4 L509.9 284.8 M505.9 237.9 L508.6 236.9 M510.2 394.2 L509.4 391.2 M505.1 256.2 L509.2 256.1 M509.1 385.7 L509.8 385.1 M509.8 385.1 L510.3 381.0 M510.0 380.7 L505.9 379.7 M510.0 313.4 L509.7 308.5 M509.7 308.5 L506.0 307.8 M506.3 261.3 L509.7 260.8 M509.7 260.8 L510.3 257.1 M510.3 257.1 L509.2 256.1 M510.0 380.7 L510.4 376.4 M510.4 376.4 L508.9 374.7 M510.3 262.9 L509.9 261.1 M510.1 358.3 L510.0 356.6 M515.8 397.7 L516.2 396.1 M516.2 396.1 L514.4 394.5 M514.4 394.5 L510.4 394.8 M513.2 342.1 L514.5 342.1 M514.5 342.1 L515.7 337.3 M515.4 336.9 L514.4 337.0 M510.0 231.2 L510.4 228.3 M510.4 228.3 L509.2 226.7 M510.3 257.1 L514.3 255.8 M514.3 255.8 L514.4 254.7 M509.7 308.5 L510.5 307.8 M510.5 307.8 L511.0 304.4 M510.0 313.4 L514.6 312.3 M514.6 312.3 L514.5 311.1 M513.7 308.5 L510.5 307.8 M510.5 280.3 L510.6 279.2 M515.4 336.9 L516.4 333.0 M516.4 333.0 L515.0 332.1 M515.0 332.1 L512.1 331.8 M514.3 248.5 L514.7 247.4 M514.7 247.4 L510.1 245.3 M510.1 366.6 L511.3 365.5 M510.4 376.4 L515.0 375.1 M515.0 375.1 L513.9 371.6 M513.9 371.6 L509.2 371.4 M510.6 350.9 L513.5 350.3 M513.5 350.3 L513.7 349.4 M513.9 348.4 L514.0 347.6 M514.0 347.6 L513.2 347.1 M514.4 394.5 L515.5 390.6 M510.3 356.4 L513.0 356.4 M513.0 356.4 L515.2 352.1 M515.2 352.1 L513.5 350.3 M513.9 371.6 L515.1 369.9 M515.1 369.9 L514.6 366.9 M514.6 366.9 L513.8 365.8 M513.8 365.8 L511.3 365.5 M510.3 381.0 L514.1 380.5 M514.1 380.5 L515.1 379.9 M515.1 379.9 L515.3 375.4 M514.3 298.5 L514.3 294.1 M514.3 294.1 L510.2 294.1 M510.1 223.5 L514.1 223.0 M514.1 222.8 L513.4 218.8 M509.9 288.5 L514.0 289.3 M514.0 289.3 L514.2 288.4 M514.6 293.8 L514.0 289.3 M509.9 261.1 L515.3 261.0 M515.3 261.0 L516.6 260.1 M516.6 260.1 L514.3 255.8 M510.4 228.3 L515.3 227.2 M515.4 227.1 L514.1 223.0 M514.5 303.0 L515.4 299.6 M515.4 299.6 L514.3 298.5 M513.8 365.8 L515.6 362.1 M515.6 362.1 L514.4 360.8 M514.4 360.8 L510.9 361.4 M513.4 280.8 L510.7 280.5 M514.1 222.8 L518.8 221.3 M518.8 221.3 L519.0 217.7 M519.0 217.7 L517.6 217.4 M510.4 322.3 L514.8 322.8 M514.8 322.8 L515.9 321.7 M516.0 321.6 L515.0 318.0 M514.8 317.9 L510.6 317.9 M514.4 360.8 L514.0 357.2 M514.0 357.2 L513.0 356.4 M514.7 238.8 L515.1 237.6 M515.3 375.4 L519.0 375.0 M519.2 374.9 L520.4 371.2 M520.4 371.2 L519.2 370.3 M519.2 370.3 L515.1 369.9 M514.6 293.8 L518.3 293.7 M518.3 293.7 L520.1 288.9 M519.1 288.8 L514.0 289.3 M514.7 231.3 L515.3 227.2 M515.1 304.2 L514.5 303.5 M515.4 227.1 L518.0 227.3 M518.0 227.3 L518.8 226.6 M518.8 226.6 L520.1 222.8 M520.1 222.8 L518.8 221.3 M514.7 247.4 L516.6 246.4 M516.6 246.4 L515.6 243.9 M514.5 264.5 L515.3 261.0 M514.0 347.6 L515.2 346.8 M515.2 346.8 L515.2 342.6 M515.2 342.6 L514.5 342.1 M515.0 332.1 L515.0 329.6 M514.0 357.2 L518.1 357.2 M517.6 352.1 L515.2 352.1 M515.1 384.4 L514.1 380.5 M515.1 237.6 L518.4 237.9 M518.7 237.4 L519.9 235.7 M519.9 235.7 L519.2 234.2 M518.0 304.8 L519.0 304.7 M519.0 304.7 L520.5 303.0 M520.5 303.0 L518.9 299.4 M518.9 299.4 L515.4 299.6 M517.6 347.2 L515.2 346.8 M514.6 366.9 L519.2 365.6 M519.2 365.6 L518.6 361.6 M518.6 361.6 L515.6 362.1 M520.2 269.4 L519.4 266.2 M519.2 265.9 L515.9 266.1 M519.0 217.7 L519.8 217.1 M515.9 384.8 L519.8 385.3 M520.0 385.1 L519.1 380.9 M519.1 380.9 L515.1 379.9 M518.9 248.3 L518.6 246.9 M518.6 246.9 L516.6 246.4 M515.9 390.0 L518.6 389.6 M518.6 389.6 L519.2 388.9 M519.2 388.9 L519.8 385.3 M518.9 299.4 L520.0 297.9 M520.0 297.9 L520.1 295.8 M520.1 295.8 L518.3 293.7 M520.7 399.6 L520.3 395.4 M520.0 395.3 L516.2 396.1 M518.8 361.4 L518.9 360.2 M514.8 317.9 L514.8 312.4 M519.2 265.9 L519.7 261.2 M519.5 260.8 L516.6 260.1 M516.2 242.1 L518.8 241.2 M514.8 312.4 L519.1 312.8 M519.1 312.8 L519.6 309.7 M519.6 309.7 L518.5 309.2 M516.4 333.0 L518.0 332.5 M518.0 332.5 L518.6 331.9 M518.6 331.9 L519.9 328.6 M514.3 255.8 L518.8 255.4 M519.2 231.7 L519.7 230.9 M519.7 230.9 L518.0 227.3 M519.2 323.5 L519.4 322.6 M518.9 322.1 L517.9 322.0 M515.0 318.0 L518.3 316.8 M518.3 316.8 L519.4 313.3 M518.6 246.9 L520.5 245.4 M520.5 245.4 L520.4 243.9 M515.2 342.6 L518.4 342.4 M518.4 342.4 L518.9 341.6 M518.9 341.6 L519.4 339.0 M519.4 339.0 L515.7 337.3 M519.4 339.0 L521.4 337.7 M521.4 337.7 L518.0 332.5 M519.5 260.8 L520.9 256.4 M519.4 365.8 L520.6 365.8 M518.9 322.1 L519.4 318.2 M519.4 318.2 L518.3 316.8 M518.7 343.1 L518.4 342.4 M523.7 323.5 L522.8 322.3 M522.8 322.3 L519.4 322.6 M521.9 285.0 L523.7 283.6 M519.6 309.7 L520.4 308.8 M520.4 308.8 L519.0 304.7 M519.2 370.3 L519.4 365.8 M519.2 388.9 L524.2 390.5 M524.2 390.5 L525.5 386.4 M525.5 386.4 L523.2 384.7 M523.2 384.7 L520.0 385.1 M519.1 380.9 L520.1 379.7 M520.1 379.7 L519.0 375.0 M520.1 295.8 L522.1 294.6 M520.1 222.8 L521.1 222.9 M524.6 220.8 L523.5 217.5 M523.5 217.5 L519.8 217.1 M519.4 318.2 L523.8 318.7 M523.8 318.7 L524.7 317.8 M524.7 317.8 L523.5 314.3 M523.5 314.3 L519.4 313.3 M519.9 235.7 L523.6 235.8 M523.6 235.8 L524.1 230.8 M524.1 230.8 L519.7 230.9 M523.2 384.7 L525.5 379.9 M525.5 379.9 L524.6 378.8 M524.6 378.8 L520.1 379.7 M524.6 236.9 L523.6 235.8 M520.5 303.0 L523.6 303.6 M523.6 303.6 L524.5 302.7 M524.5 302.7 L524.8 299.4 M524.5 298.9 L520.0 297.9 M519.4 266.2 L522.9 265.7 M524.4 230.4 L524.4 229.4 M521.1 226.9 L518.8 226.6 M520.4 371.2 L523.1 370.7 M522.8 322.3 L523.8 318.7 M521.1 408.9 L523.3 408.3 M520.3 395.4 L522.5 394.9 M524.4 392.5 L524.7 391.5 M524.7 391.5 L524.2 390.5 M524.6 378.8 L524.7 377.7 M524.7 377.7 L523.9 376.1 M523.9 376.1 L519.2 374.9 M524.7 287.6 L525.1 284.2 M525.1 284.2 L524.5 283.6 M525.8 309.0 L524.3 308.0 M524.3 308.0 L520.4 308.8 M524.0 250.5 L524.8 246.1 M524.8 246.1 L520.5 245.4 M523.5 277.0 L523.7 276.0 M523.7 276.0 L522.4 275.1 M524.3 308.0 L523.6 303.6 M523.9 376.1 L524.2 373.4 M523.7 323.5 L528.3 323.3 M528.3 323.3 L528.6 318.8 M528.0 318.3 L524.7 317.8 M523.6 334.8 L523.9 333.5 M523.9 333.5 L518.6 331.9 M524.8 246.1 L525.2 243.8 M523.9 333.5 L525.5 332.0 M525.5 332.0 L524.9 330.5 M528.4 241.4 L529.8 240.9 M529.8 240.9 L528.8 236.9 M528.8 236.9 L524.6 236.9 M523.7 276.0 L525.1 274.9 M525.1 274.9 L525.2 271.8 M524.5 298.9 L525.5 295.9 M529.1 236.5 L529.7 232.8 M529.7 232.8 L528.4 231.4 M528.4 231.4 L524.4 230.4 M524.7 377.7 L525.5 377.1 M529.3 277.9 L529.3 276.1 M529.3 276.1 L525.1 274.9 M527.9 303.2 L524.5 302.7 M525.7 327.7 L528.2 326.7 M528.2 326.7 L528.4 324.4 M524.8 246.1 L528.1 246.8 M528.1 246.8 L529.2 243.8 M529.8 242.1 L530.1 241.2 M529.7 250.4 L528.7 250.7 M528.5 392.5 L528.0 391.3 M528.0 391.3 L524.7 391.5 M525.2 216.9 L524.0 217.0 M529.7 250.3 L529.4 247.8 M529.4 247.8 L528.1 246.8 M528.0 318.3 L529.2 314.3 M529.2 314.3 L525.7 312.6 M525.2 290.1 L527.8 289.8 M527.8 289.8 L528.6 289.0 M528.6 289.0 L528.6 287.7 M528.3 290.7 L527.8 289.8 M529.3 284.3 L530.2 283.6 M525.5 386.4 L527.9 386.2 M529.3 276.1 L529.2 270.8 M529.2 270.8 L527.0 270.8 M528.0 391.3 L528.9 390.1 M529.8 328.2 L528.2 326.7 M524.8 299.4 L529.7 299.4 M529.9 299.2 L529.2 296.1 M530.1 241.2 L532.5 242.1 M534.3 241.3 L535.7 236.9 M535.5 236.8 L529.1 236.5 M528.4 231.4 L529.9 226.7 M529.9 226.7 L529.2 226.2 M529.2 270.8 L530.2 270.0 M530.2 270.0 L529.8 268.3 M529.2 314.3 L530.3 313.4 M530.3 313.4 L530.3 309.4 M530.3 309.4 L529.6 308.9 M533.5 325.7 L533.2 324.4 M529.6 300.2 L529.7 299.4 M529.9 226.7 L532.2 226.5 M528.6 289.0 L533.4 289.0 M533.4 289.0 L533.9 288.3 M533.9 288.3 L533.8 285.3 M533.8 285.3 L533.2 284.5 M533.2 284.5 L530.3 283.6 M534.8 298.2 L534.6 296.1 M533.8 293.5 L531.9 293.9 M533.4 323.5 L534.3 322.0 M534.3 322.0 L533.2 318.8 M533.2 318.8 L528.6 318.8 M529.3 276.1 L533.3 274.9 M533.5 274.8 L533.1 270.4 M533.1 270.4 L530.2 270.0 M530.3 309.4 L534.1 309.4 M533.8 293.5 L533.4 289.0 M529.4 247.8 L533.3 245.6 M533.3 245.6 L533.3 243.7 M533.1 270.4 L534.2 269.6 M531.2 250.6 L529.7 250.3 M529.7 232.8 L533.4 231.5 M533.7 231.0 L533.1 227.5 M533.1 227.5 L532.2 226.5 M533.6 318.3 L533.2 314.6 M533.2 314.6 L530.3 313.4 M534.0 248.7 L533.9 246.1 M533.2 284.5 L533.6 283.6 M533.2 314.6 L535.5 312.4 M535.3 311.7 L534.1 309.4 M533.6 318.3 L535.4 317.8 M538.9 315.3 L537.5 313.2 M533.1 227.5 L534.9 227.1 M533.8 285.3 L534.7 285.1 M539.1 264.3 L539.7 261.3 M539.7 261.3 L538.6 260.4 M535.5 236.8 L533.4 231.5 M534.0 275.0 L538.4 274.4 M538.4 274.4 L538.7 271.9 M538.7 271.9 L535.2 270.1 M535.0 293.7 L538.0 293.2 M538.0 293.2 L538.7 290.9 M538.8 290.4 L539.3 288.9 M534.8 288.4 L533.9 288.3 M539.6 276.2 L538.4 274.4 M535.7 236.9 L537.9 236.5 M538.2 236.2 L538.2 234.7 M538.0 230.8 L533.7 231.0 M538.9 249.8 L538.9 247.1 M538.9 247.1 L533.9 246.1 M539.3 246.4 L538.8 242.8 M538.8 242.8 L536.4 242.2 M537.9 302.4 L538.0 300.2 M538.0 300.2 L537.3 299.2 M537.3 299.2 L534.8 298.2 M538.7 271.9 L540.3 270.4 M540.3 270.4 L539.3 269.0 M539.6 288.7 L539.3 284.4 M537.3 299.2 L539.3 295.9 M538.8 242.8 L540.2 241.2 M540.2 241.2 L537.9 236.5 M539.3 284.0 L544.4 284.1 M543.5 273.4 L542.7 270.7 M541.5 270.1 L540.3 270.4 M543.9 252.6 L544.0 251.0 M544.0 251.0 L540.3 250.5 M539.7 261.3 L543.2 260.5 M543.2 290.0 L542.5 289.3 M542.5 289.3 L539.6 288.7 M538.0 300.2 L543.3 299.2 M543.3 299.2 L542.8 295.6 M538.2 236.2 L540.1 235.8 M544.5 207.0 L542.2 202.9 M542.2 202.9 L540.8 202.8 M538.9 315.3 L543.7 312.5 M543.7 312.5 L543.4 310.7 M544.3 243.4 L544.0 241.4 M543.3 240.8 L540.2 241.2 M542.7 266.8 L540.3 265.1 M540.0 317.7 L541.6 317.8 M543.8 316.0 L544.2 313.0 M542.2 202.9 L543.6 202.0 M543.6 202.0 L544.1 198.4 M544.1 198.4 L543.2 197.5 M542.5 289.3 L544.5 284.1 M542.7 266.8 L544.9 264.4 M544.9 264.4 L544.1 261.0 M545.4 294.9 L548.1 294.8 M548.7 294.3 L548.2 290.3 M548.2 290.3 L547.6 289.7 M547.6 289.7 L545.7 290.0 M547.8 297.5 L548.1 294.8 M544.1 251.0 L544.5 246.8 M547.1 206.5 L544.5 207.0 M544.1 261.0 L548.6 260.6 M548.6 260.6 L548.4 256.6 M548.4 256.6 L547.5 255.9 M547.6 289.7 L547.7 288.7 M545.4 284.6 L544.5 284.1 M548.4 234.0 L548.3 231.6 M548.3 231.6 L545.9 231.7 M547.0 202.3 L543.6 202.0 M545.1 240.9 L547.6 240.8 M547.6 240.8 L548.1 239.7 M544.2 313.0 L546.1 313.7 M547.1 265.3 L544.9 264.4 M544.1 198.4 L544.9 198.3 M544.1 251.0 L548.5 251.2 M548.5 251.2 L548.6 246.1 M548.6 246.1 L545.3 245.8 M547.5 255.9 L548.8 251.5 M548.7 201.6 L548.6 199.7 M549.2 271.5 L552.6 270.8 M552.6 270.8 L552.4 265.7 M552.4 265.7 L550.0 265.2 M550.0 265.2 L549.1 265.7 M550.0 265.2 L549.3 261.0 M549.3 261.0 L548.6 260.6 M552.7 206.3 L553.5 203.7 M553.5 203.7 L552.9 202.4 M548.3 231.6 L549.3 231.1 M549.3 231.1 L549.3 227.2 M549.3 227.2 L548.6 226.4 M549.2 245.7 L549.4 242.6 M549.4 242.6 L547.6 240.8 M551.6 295.0 L550.3 294.7 M548.8 251.5 L552.9 252.0 M552.9 252.0 L552.8 246.4 M552.8 246.4 L549.2 245.7 M549.4 242.6 L552.9 240.5 M552.9 240.5 L552.1 237.3 M552.0 232.0 L549.3 231.1 M549.3 227.2 L553.9 226.6 M553.9 226.6 L554.3 223.4 M554.3 223.4 L551.1 223.1 M554.7 222.9 L553.8 220.8 M548.2 290.3 L552.9 290.0 M552.9 290.0 L552.6 287.7 M552.2 275.0 L554.1 274.8 M554.1 274.8 L554.7 273.9 M554.7 273.9 L553.9 271.6 M553.9 271.6 L552.6 270.8 M548.4 256.6 L553.5 256.1 M553.5 256.1 L553.3 252.3 M549.3 261.0 L553.5 259.2 M553.5 259.2 L553.6 256.2 M553.1 246.2 L553.1 240.6 M553.2 300.0 L553.4 299.1 M553.6 256.2 L559.1 256.3 M559.6 255.8 L558.7 250.6 M558.6 250.5 L553.3 252.3 M553.2 294.5 L553.6 290.5 M553.6 290.5 L552.9 290.0 M552.4 265.7 L553.7 265.2 M553.7 265.2 L554.9 260.9 M554.9 260.9 L553.5 259.2 M552.9 202.4 L554.4 199.3 M554.4 199.3 L553.2 198.0 M553.1 240.6 L556.6 241.4 M556.6 241.4 L558.1 239.9 M558.1 239.9 L557.9 236.1 M557.6 235.9 L552.4 237.0 M554.2 276.0 L554.1 274.8 M558.6 250.5 L557.8 246.2 M557.2 245.8 L553.1 246.2 M552.0 232.0 L553.9 231.1 M553.9 231.1 L554.6 227.7 M554.6 227.7 L553.9 226.6 M553.7 299.1 L557.2 299.3 M557.2 299.3 L557.9 295.1 M557.9 295.1 L555.6 294.8 M553.2 303.5 L558.0 303.4 M558.0 303.4 L557.5 299.7 M554.4 199.3 L557.6 198.7 M553.9 271.6 L557.5 268.5 M557.5 268.5 L556.7 266.5 M556.7 266.5 L553.7 265.2 M557.8 206.1 L557.0 204.0 M557.0 204.0 L553.5 203.7 M553.6 290.5 L555.6 290.0 M557.6 235.9 L557.3 233.9 M554.6 227.7 L558.6 227.7 M558.6 227.7 L558.6 223.1 M558.6 223.1 L557.6 222.3 M557.6 222.3 L554.7 222.9 M557.2 245.8 L556.6 241.4 M558.3 278.9 L559.0 274.6 M559.0 274.6 L558.3 274.1 M558.3 274.1 L554.7 273.9 M554.9 260.9 L558.8 260.9 M559.1 260.5 L559.1 256.3 M557.6 222.3 L558.1 220.7 M556.7 266.5 L559.2 264.1 M559.2 264.1 L558.8 260.9 M557.9 305.1 L558.0 303.4 M563.0 206.8 L562.2 206.1 M562.2 206.1 L559.6 207.3 M562.6 282.0 L562.3 279.7 M562.3 279.7 L558.3 278.9 M557.0 204.0 L558.9 201.4 M558.9 201.4 L557.6 198.7 M558.0 303.4 L559.0 303.3 M559.2 229.5 L559.3 228.3 M559.3 228.3 L558.6 227.7 M557.8 246.2 L562.4 244.2 M562.4 244.2 L562.4 241.7 M562.0 241.2 L558.1 239.9 M558.3 274.1 L558.2 269.0 M558.2 269.0 L557.5 268.5 M558.6 223.1 L562.3 223.4 M562.3 223.4 L563.8 222.5 M563.8 222.5 L562.6 219.9 M557.9 236.1 L562.5 235.5 M562.5 235.5 L563.2 232.9 M563.2 232.9 L562.3 232.4 M559.0 274.6 L562.3 273.9 M562.3 273.9 L563.4 270.0 M563.4 270.0 L562.8 269.2 M562.8 269.2 L558.2 269.0 M558.9 201.4 L562.3 202.6 M562.3 202.6 L562.6 199.3 M560.5 197.2 L557.8 198.2 M562.2 206.1 L562.3 202.6 M562.8 269.2 L563.2 265.7 M563.2 265.7 L559.2 264.1 M563.2 265.7 L564.3 264.4 M564.3 264.4 L563.6 260.6 M563.6 260.6 L559.1 260.5 M558.7 250.6 L562.0 250.4 M562.0 250.4 L564.5 246.1 M564.5 246.1 L562.4 244.2 M563.6 260.6 L564.5 259.4 M564.5 259.4 L563.5 255.9 M563.5 255.9 L559.6 255.8 M559.3 228.3 L562.3 227.6 M562.3 227.6 L562.3 223.4 M562.0 241.2 L562.6 235.7 M562.3 279.7 L563.5 278.4 M563.5 278.4 L563.5 275.4 M563.5 275.4 L562.3 273.9 M563.2 232.9 L564.0 232.2 M563.3 228.2 L562.3 227.6 M563.4 270.0 L566.9 270.3 M566.0 264.5 L564.3 264.4 M563.7 193.7 L567.5 193.2 M567.5 193.2 L568.3 190.0 M567.7 283.2 L568.7 280.3 M568.7 280.3 L567.9 279.6 M567.9 279.6 L563.5 278.4 M563.5 275.4 L567.4 274.9 M567.4 274.9 L568.1 274.3 M568.1 274.3 L568.1 273.3 M562.4 241.7 L567.1 239.9 M567.1 239.9 L566.7 237.6 M566.7 237.6 L562.6 235.7 M566.7 237.6 L568.4 235.4 M568.4 235.4 L567.6 233.0 M565.4 232.1 L564.0 232.2 M562.3 202.6 L567.0 201.6 M567.0 201.6 L567.5 199.0 M567.5 199.0 L563.7 197.6 M567.5 199.0 L568.3 198.2 M568.3 198.2 L568.3 194.3 M568.3 194.3 L567.5 193.2 M566.9 207.1 L567.6 202.4 M567.6 202.4 L567.0 201.6 M563.3 228.2 L567.6 226.6 M567.6 226.6 L566.3 222.6 M566.3 222.6 L563.8 222.5 M562.0 250.4 L563.7 251.8 M563.7 251.8 L566.2 250.9 M567.9 248.1 L567.4 246.7 M566.9 246.4 L564.5 246.1 M563.5 255.9 L564.2 255.1 M564.2 255.1 L563.7 251.8 M567.2 213.7 L564.7 213.2 M566.9 246.4 L567.7 240.3 M567.2 213.7 L568.4 211.7 M568.4 211.7 L567.6 209.1 M566.4 222.4 L567.2 218.7 M568.2 228.6 L568.1 227.0 M564.2 255.1 L565.8 254.9 M567.6 188.9 L567.5 185.8 M568.1 227.0 L572.2 226.2 M572.2 226.2 L573.1 223.1 M573.1 223.1 L572.0 221.9 M572.0 221.9 L566.4 222.4 M572.4 213.8 L572.9 212.3 M572.9 212.3 L568.4 211.7 M567.9 279.6 L567.4 274.9 M568.3 194.3 L573.8 194.3 M572.3 190.9 L571.2 189.0 M571.2 189.0 L568.3 190.0 M567.6 202.4 L570.0 203.1 M571.9 202.9 L572.8 202.0 M572.8 202.0 L572.5 198.9 M572.5 198.9 L568.3 198.2 M567.7 240.3 L571.3 240.7 M571.3 240.7 L572.9 236.6 M572.9 236.6 L572.4 235.7 M572.4 235.7 L568.4 235.4 M571.2 189.0 L572.4 187.6 M572.4 187.6 L572.6 184.9 M572.6 184.9 L571.6 183.3 M571.6 183.3 L570.8 183.4 M567.4 246.7 L571.5 244.6 M571.5 244.6 L572.3 242.2 M572.3 242.2 L571.3 240.7 M572.0 221.9 L571.6 219.0 M568.7 280.3 L569.6 280.0 M569.9 250.6 L572.1 250.8 M572.1 250.8 L573.6 247.2 M573.6 247.2 L571.5 244.6 M572.4 235.7 L572.7 233.0 M572.7 233.0 L571.6 231.5 M571.6 231.5 L570.5 231.3 M573.1 256.5 L573.4 251.9 M573.4 251.9 L572.1 250.8 M569.9 261.2 L572.3 260.7 M572.3 260.7 L572.9 257.4 M567.6 208.4 L570.6 207.2 M573.0 212.3 L573.4 207.4 M572.7 264.1 L572.7 261.2 M571.6 231.5 L573.3 227.6 M573.3 227.6 L572.2 226.2 M575.0 212.9 L573.0 212.3 M572.9 236.6 L576.7 237.1 M576.7 237.1 L578.1 236.1 M578.1 236.1 L577.2 231.2 M577.2 231.1 L572.7 233.0 M573.6 247.2 L577.5 246.3 M577.5 246.3 L577.4 242.8 M576.9 242.4 L572.3 242.2 M573.1 223.1 L576.2 222.3 M573.4 251.9 L577.6 251.3 M578.0 250.7 L577.9 249.4 M576.7 264.9 L576.6 262.0 M576.6 262.0 L572.7 261.2 M576.2 206.6 L576.9 203.1 M576.9 203.1 L575.8 202.8 M574.7 202.5 L572.8 202.0 M572.5 198.9 L573.5 198.1 M573.5 198.1 L573.8 194.3 M577.2 231.1 L577.0 228.8 M577.0 228.8 L573.3 227.6 M577.0 228.8 L578.6 226.9 M578.6 226.9 L576.2 222.3 M573.5 198.1 L577.2 199.3 M577.2 199.3 L578.3 198.4 M578.3 198.4 L578.1 197.2 M572.6 184.9 L574.6 184.8 M576.9 203.0 L577.2 199.3 M576.9 242.4 L576.7 237.1 M577.9 209.8 L578.2 208.3 M578.2 208.3 L576.2 206.6 M576.6 262.0 L578.2 260.7 M578.2 260.7 L577.2 257.0 M577.2 257.0 L573.6 256.6 M579.0 260.8 L578.2 260.7 M577.4 242.8 L582.5 241.4 M582.5 241.4 L581.4 236.5 M581.4 236.5 L578.1 236.1 M577.2 257.0 L578.8 255.3 M578.8 255.3 L577.6 251.3 M578.2 208.3 L580.8 207.9 M580.8 207.9 L582.4 206.4 M582.4 206.4 L582.4 204.1 M582.4 204.1 L581.8 203.2 M581.8 203.2 L576.9 203.0 M577.2 231.2 L578.7 231.3 M578.8 255.3 L581.6 255.6 M580.1 250.7 L578.0 250.7 M577.6 246.5 L578.6 246.6 M582.9 242.9 L582.5 241.4 M581.8 203.2 L582.3 199.8 M581.6 199.0 L578.3 198.4 M578.5 193.1 L580.5 193.3 M582.0 192.2 L582.5 189.5 M582.5 187.8 L581.6 187.2 M581.6 187.2 L578.5 189.2 M582.5 212.1 L580.8 207.9 M581.4 236.5 L582.1 236.0 M582.4 204.1 L586.2 203.4 M586.2 203.4 L587.3 202.2 M587.3 202.2 L587.2 199.7 M587.2 199.7 L586.0 199.0 M582.5 212.1 L585.0 212.1 M585.9 211.9 L586.0 208.3 M586.0 208.3 L582.4 206.4 M582.5 241.4 L583.4 241.2 M586.2 191.7 L586.0 190.4 M586.0 208.3 L587.5 207.2 M587.5 207.2 L586.2 203.4 M590.7 210.3 L590.4 207.0 M590.4 207.0 L587.5 207.2 M587.2 199.7 L591.4 198.0 M591.4 198.0 L591.0 193.9 M590.8 193.7 L588.1 193.6 M590.2 183.6 L591.6 180.4 M590.8 193.7 L591.0 190.4 M590.4 207.0 L591.2 206.2 M591.2 206.2 L591.5 204.3 M591.5 204.3 L587.3 202.2 M591.5 204.3 L592.4 203.3 M592.4 203.3 L592.5 199.0 M592.5 199.0 L591.4 198.0 M591.0 193.9 L595.9 193.2 M595.9 193.2 L596.9 192.1 M596.9 192.1 L596.8 189.2 M592.0 184.5 L590.2 183.6 M595.4 211.8 L595.8 208.5 M594.7 207.9 L591.2 206.2 M594.4 216.5 L596.2 215.7 M596.2 215.7 L596.1 212.7 M596.1 212.7 L595.4 211.8 M592.0 184.5 L595.2 182.8 M595.2 182.8 L595.4 180.4 M596.3 179.5 L597.0 178.9 M597.0 178.9 L596.3 176.3 M595.8 208.5 L596.9 207.5 M596.9 207.5 L597.5 204.5 M596.1 203.7 L592.4 203.3 M597.1 220.6 L597.8 217.1 M597.8 217.1 L596.2 215.7 M596.6 187.6 L597.6 185.2 M597.6 185.2 L595.2 182.8 M592.5 199.0 L595.9 198.7 M596.6 196.8 L595.9 193.2 M596.8 189.2 L600.3 188.8 M602.1 187.0 L602.0 185.4 M600.0 184.3 L597.6 185.2 M596.1 212.7 L600.4 211.7 M600.4 211.7 L600.7 208.8 M600.7 208.8 L596.9 207.5 M596.3 175.5 L598.4 174.7 M600.3 181.5 L599.8 179.8 M599.8 179.8 L597.0 178.9 M600.3 197.0 L600.7 194.1 M600.7 194.1 L600.2 193.3 M600.2 193.3 L596.9 192.1 M597.8 217.1 L601.2 216.9 M601.2 216.9 L600.9 212.2 M601.2 223.1 L597.1 220.6 M600.7 208.8 L602.9 207.2 M602.9 207.2 L601.6 204.2 M601.0 197.7 L600.3 197.0 M601.3 177.4 L601.9 174.7 M600.8 192.3 L600.2 193.3 M601.6 222.8 L602.6 217.5 M602.6 217.5 L601.2 216.9 M604.3 202.9 L606.1 202.7 M606.1 202.7 L606.2 198.7 M600.9 212.2 L605.6 212.1 M606.0 211.7 L606.0 208.2 M606.0 208.2 L602.9 207.2 M602.6 217.5 L604.4 217.1 M604.4 217.1 L605.6 212.1 M605.1 222.9 L601.6 222.8 M604.4 217.1 L606.3 218.1 M606.3 218.1 L609.2 217.9 M609.2 217.9 L610.2 216.4 M610.9 215.0 L610.7 213.7 M610.7 213.7 L606.0 211.7 M606.4 207.9 L607.2 204.1 M607.2 204.1 L606.1 202.7 M605.3 222.8 L606.1 221.9 M606.1 221.9 L606.3 218.1 M607.4 222.2 L606.1 221.9 M607.2 204.1 L610.2 203.1 M610.2 203.1 L610.4 198.8 M610.4 198.8 L608.1 198.2 M610.9 213.4 L611.5 207.9 M611.5 207.9 L606.4 207.9 M610.5 220.2 L609.2 217.9 M610.4 198.8 L611.3 198.4 M611.3 198.4 L610.7 194.3 M611.9 207.7 L610.5 203.3 M611.3 198.4 L614.0 198.3 M614.0 198.3 L614.5 196.9 M610.5 203.3 L614.3 203.0 M614.8 199.1 L614.0 198.3 M611.9 207.7 L612.8 207.6 M613.2 212.5 L610.9 213.4 M626.2 186.8 L626.4 184.7 M626.4 184.7 L625.4 183.2 M626.4 184.7 L630.8 184.2 M630.8 184.2 L631.4 183.1 M631.4 183.1 L629.2 179.8" fill="none" stroke="#767d6a" stroke-width="0.55" stroke-opacity="0.8"/>
<path d="M209.9 218.2 L212.3 219.2 L214.3 223.2 L219.4 227.3 L218.4 229.3 L214.3 227.3 L211.3 224.2 Z" fill="#a5c6c2" fill-rule="evenodd"/>
<path d="M435.6 356.3 L435.3 357.1 L434.4 357.7 L433.2 357.9 L432.0 357.7 L431.1 357.1 L430.8 356.3 L431.1 355.5 L432.0 354.9 L433.2 354.7 L434.4 354.9 L435.3 355.5 Z" fill="#75cff0" fill-rule="evenodd"/>
<path d="M511.4 384.8 L515.5 384.8 L515.5 390.2 L511.4 390.2 Z" fill="#e7ecce" fill-rule="evenodd"/>
<path d="M518.5 390.8 L521.5 390.2 L521.5 394.3 L518.5 394.3 Z" fill="#e7ecce" fill-rule="evenodd"/>
<path d="M482.7 192.1 L486.7 192.1 L486.7 195.1 L482.7 195.1 Z" fill="#e7ecce" fill-rule="evenodd"/>
<path d="M499.4 200.1 L503.4 200.1 L503.4 204.1 L499.4 204.1 Z" fill="#e7ecce" fill-rule="evenodd"/>
<path d="M573.4 189.2 L577.4 186.5 L578.1 190.6 L575.4 194.6 L572.7 193.3 Z" fill="#e7ecce" fill-rule="evenodd"/>
<path d="M600.6 198.1 L603.9 198.5 L603.9 203.3 L600.6 203.3 Z" fill="#e7ecce" fill-rule="evenodd"/>
<path d="M477.4 204.1 L480.8 204.1 L480.8 207.5 L477.4 207.5 Z" fill="#e7ecce" fill-rule="evenodd"/>
<path d="M472.0 209.1 L474.7 209.1 L474.7 211.5 L472.0 211.5 Z" fill="#e7ecce" fill-rule="evenodd"/>
<path d="M547.4 202.1 L552.2 202.1 L552.5 214.0 L547.8 214.0 Z" fill="#e7ecce" fill-rule="evenodd"/>
<path d="M580.8 192.7 L587.5 192.0 L588.2 198.1 L582.1 199.4 Z" fill="#e7ecce" fill-rule="evenodd"/>
<path d="M570.0 203.5 L575.4 202.8 L575.4 206.8 L570.0 206.8 Z" fill="#e7ecce" fill-rule="evenodd"/>
<path d="M509.4 231.7 L514.1 231.0 L514.5 237.1 L509.7 237.4 Z" fill="#e7ecce" fill-rule="evenodd"/>
<path d="M500.0 224.3 L502.0 223.6 L502.4 227.7 L500.0 228.0 Z" fill="#e7ecce" fill-rule="evenodd"/>
<path d="M544.4 236.4 L556.5 230.4 L564.6 229.0 L563.3 231.7 L556.5 233.7 L548.5 239.1 L543.7 241.1 Z" fill="#e7ecce" fill-rule="evenodd"/>
<path d="M599.9 198.2 L603.6 198.2 L603.6 203.6 L600.3 204.0 Z" fill="#e7ecce" fill-rule="evenodd"/>
<path d="M572.7 188.1 L578.1 188.1 L578.1 193.5 L572.7 193.5 Z" fill="#e7ecce" fill-rule="evenodd"/>
<path d="M576.1 194.1 L582.8 194.1 L582.8 196.8 L576.1 196.8 Z" fill="#e7ecce" fill-rule="evenodd"/>
<path d="M509.4 298.0 L513.5 297.4 L514.1 303.4 L510.1 304.1 Z" fill="#e7ecce" fill-rule="evenodd"/>
<path d="M514.1 304.8 L517.5 304.1 L518.2 310.2 L514.1 310.8 Z" fill="#e7ecce" fill-rule="evenodd"/>
<path d="M551.8 295.4 L555.2 294.7 L554.5 298.7 L551.8 298.7 Z" fill="#e7ecce" fill-rule="evenodd"/>
<path d="M430.3 355.6 L434.3 355.2 L435.7 357.0 L433.0 358.3 L430.3 357.6 Z" fill="#75cff0" fill-rule="evenodd"/>
<path d="M506.9 357.6 L509.6 357.6 L509.9 360.1 L506.9 360.1 Z" fill="#e7ecce" fill-rule="evenodd"/>
<path d="M510.3 385.2 L515.0 385.2 L515.0 390.9 L510.3 390.9 Z" fill="#e7ecce" fill-rule="evenodd"/>
<path d="M200.3 227.3 L223.4 227.3" fill="none" fill-rule="evenodd" stroke="#767d6a" stroke-width="0.5"/>
<path d="M200.3 240.3 L219.4 240.3" fill="none" fill-rule="evenodd" stroke="#767d6a" stroke-width="0.5"/>
<path d="M317.1 282.5 L317.1 282.6 L327.8 282.6 L327.8 277.4 L317.1 277.4 L317.1 277.5 L317.1 282.5 Z" fill="#a7b77f" fill-rule="evenodd" stroke="#767d6a" stroke-width="0.9"/>
<path d="M336.6 283.0 L342.7 280.0 L346.7 281.0 L346.7 287.1 L342.7 288.1 L339.3 290.7 L336.6 289.1 Z" fill="#a7b77f" fill-rule="evenodd" stroke="#767d6a" stroke-width="0.9"/>
<path d="M354.7 305.2 L360.0 305.2 L360.0 309.2 L354.7 309.2 Z" fill="#a7b77f" fill-rule="evenodd" stroke="#767d6a" stroke-width="0.9"/>
<path d="M433.4 167.3 L430.8 173.5 L430.8 184.9 L440.0 184.9 L440.0 178.5 L441.0 178.5 L441.0 173.1 L440.0 172.6 L440.0 166.4 L433.8 166.4 L433.7 166.6 L433.4 166.6 L433.4 167.3 Z" fill="#a7b77f" fill-rule="evenodd" stroke="#767d6a" stroke-width="0.9"/>
<path d="M374.0 179.1 L374.0 184.4 L374.0 184.9 L379.5 184.9 L379.5 184.4 L379.5 179.1 L379.5 178.0 L374.0 178.0 L374.0 179.1 Z" fill="#a7b77f" fill-rule="evenodd" stroke="#767d6a" stroke-width="0.9"/>
<path d="M384.5 182.5 L390.5 182.5 L390.5 184.9 L384.5 184.9 Z" fill="#a7b77f" fill-rule="evenodd" stroke="#767d6a" stroke-width="0.9"/>
<path d="M323.2 217.8 L334.6 217.2 L334.6 230.3 L324.6 230.7 L323.8 224.2 Z" fill="#a7b77f" fill-rule="evenodd" stroke="#767d6a" stroke-width="0.9"/>
<path d="M366.0 200.1 L370.4 200.1 L371.4 206.1 L378.5 206.5 L378.5 211.2 L370.4 211.8 L366.0 210.2 Z" fill="#a7b77f" fill-rule="evenodd" stroke="#767d6a" stroke-width="0.9"/>
<path d="M372.0 250.0 L376.9 247.4 L378.5 244.3 L382.9 246.4 L382.5 256.4 L377.5 257.4 L376.9 259.4 L371.4 255.4 Z" fill="#a7b77f" fill-rule="evenodd" stroke="#767d6a" stroke-width="0.9"/>
<path d="M414.8 237.6 L414.8 240.5 L418.8 242.8 L424.5 242.5 L424.3 238.4 L424.3 237.3 L424.2 237.3 L424.2 236.4 L414.8 236.4 L414.8 236.7 L414.7 236.7 L414.8 237.6 Z" fill="#a7b77f" fill-rule="evenodd" stroke="#767d6a" stroke-width="0.9"/>
<path d="M390.5 205.7 L395.6 205.7 L395.6 211.2 L390.5 211.2 Z" fill="#a7b77f" fill-rule="evenodd" stroke="#767d6a" stroke-width="0.9"/>
<path d="M404.7 207.1 L404.6 207.1 L404.7 208.1 L404.7 210.9 L405.0 210.9 L405.0 211.2 L411.4 211.2 L411.4 215.3 L412.6 215.4 L412.7 215.8 L424.7 215.2 L424.7 214.9 L425.3 214.9 L424.9 210.5 L424.4 210.5 L424.3 209.8 L413.7 210.2 L413.5 202.1 L413.1 202.1 L413.1 202.1 L412.6 202.2 L409.4 202.4 L409.4 206.1 L408.6 206.3 L404.7 206.8 L404.7 207.1 Z" fill="#a7b77f" fill-rule="evenodd" stroke="#767d6a" stroke-width="0.9"/>
<path d="M431.8 216.9 L430.8 217.2 L426.7 216.2 L424.3 217.8 L422.2 218.6 L420.9 218.9 L421.0 219.1 L420.7 219.2 L423.7 224.2 L424.0 224.3 L424.2 225.3 L428.9 226.1 L434.3 225.0 L434.7 220.3 L434.3 220.1 L437.8 219.2 L437.1 216.6 L437.0 215.3 L436.8 215.3 L436.8 215.2 L436.4 215.3 L431.6 215.6 L431.8 216.9 Z" fill="#a7b77f" fill-rule="evenodd" stroke="#767d6a" stroke-width="0.9"/>
<path d="M386.5 189.7 L392.1 189.7 L392.1 194.5 L386.5 194.5 Z" fill="#a7b77f" fill-rule="evenodd" stroke="#767d6a" stroke-width="0.9"/>
<path d="M409.4 189.2 L406.3 189.2 L404.6 189.0 L398.6 189.0 L398.6 194.1 L400.2 194.5 L400.2 194.7 L400.0 194.7 L400.0 201.4 L404.0 201.4 L404.0 201.1 L404.2 201.1 L404.6 195.1 L410.2 194.5 L410.6 189.7 L409.4 189.6 L409.4 189.2 Z" fill="#a7b77f" fill-rule="evenodd" stroke="#767d6a" stroke-width="0.9"/>
<path d="M424.3 207.1 L426.0 206.8 L426.9 207.5 L429.6 206.2 L429.6 206.1 L429.7 206.1 L429.4 203.6 L428.9 198.3 L423.6 200.1 L423.6 204.8 L424.1 205.2 L424.3 207.1 Z" fill="#a7b77f" fill-rule="evenodd" stroke="#767d6a" stroke-width="0.9"/>
<path d="M452.8 148.2 L455.5 147.2 L459.2 150.2 L461.6 153.6 L461.2 158.3 L459.2 160.3 L457.2 157.6 L453.2 156.2 L452.2 152.2 Z" fill="#a7b77f" fill-rule="evenodd" stroke="#767d6a" stroke-width="0.9"/>
<path d="M449.5 165.3 L455.5 163.6 L456.3 161.0 L459.2 160.7 L459.0 166.3 L456.5 171.7 L454.9 173.7 L451.8 171.7 L449.1 169.0 Z" fill="#a7b77f" fill-rule="evenodd" stroke="#767d6a" stroke-width="0.9"/>
<path d="M446.4 180.1 L451.1 179.8 L451.1 184.5 L446.4 184.5 Z" fill="#a7b77f" fill-rule="evenodd" stroke="#767d6a" stroke-width="0.9"/>
<path d="M451.8 183.8 L456.5 183.8 L455.9 189.2 L451.8 189.2 Z" fill="#a7b77f" fill-rule="evenodd" stroke="#767d6a" stroke-width="0.9"/>
<path d="M486.1 194.3 L486.1 194.7 L490.4 194.7 L490.4 193.9 L490.4 190.0 L490.2 190.0 L490.2 189.9 L489.6 190.0 L486.1 190.0 L486.1 190.6 L486.1 194.3 Z" fill="#a7b77f" fill-rule="evenodd" stroke="#767d6a" stroke-width="0.9"/>
<path d="M575.0 186.4 L577.7 186.4 L578.1 186.7 L579.3 186.4 L580.5 186.4 L580.8 186.5 L581.0 186.4 L583.1 186.4 L583.1 185.5 L583.5 185.4 L583.5 185.3 L583.7 185.2 L583.4 174.4 L582.5 174.1 L582.4 173.6 L581.8 173.8 L581.4 173.7 L579.5 174.8 L579.0 175.0 L578.8 175.2 L576.7 176.4 L573.6 180.0 L572.7 180.0 L572.9 180.8 L572.0 181.8 L573.3 183.1 L573.4 183.4 L575.0 184.5 L575.0 186.4 Z" fill="#a7b77f" fill-rule="evenodd" stroke="#767d6a" stroke-width="0.9"/>
<path d="M441.0 231.7 L445.8 230.4 L448.5 233.1 L447.8 236.4 L441.7 236.4 Z" fill="#a7b77f" fill-rule="evenodd" stroke="#767d6a" stroke-width="0.9"/>
<path d="M444.4 226.1 L450.5 225.7 L450.9 230.4 L447.8 231.7 L445.1 230.4 Z" fill="#a7b77f" fill-rule="evenodd" stroke="#767d6a" stroke-width="0.9"/>
<path d="M453.8 233.7 L457.2 233.7 L457.6 241.1 L453.8 241.1 Z" fill="#a7b77f" fill-rule="evenodd" stroke="#767d6a" stroke-width="0.9"/>
<path d="M433.6 238.5 L437.7 238.2 L440.4 241.8 L444.4 239.1 L445.8 243.2 L442.4 247.9 L439.0 247.2 L437.0 245.2 L434.3 244.5 Z" fill="#a7b77f" fill-rule="evenodd" stroke="#767d6a" stroke-width="0.9"/>
<path d="M457.9 240.9 L462.2 240.5 L462.6 251.9 L459.2 253.3 L457.9 249.2 Z" fill="#a7b77f" fill-rule="evenodd" stroke="#767d6a" stroke-width="0.9"/>
<path d="M476.7 235.3 L476.3 235.3 L476.3 238.5 L476.7 238.5 L476.7 238.7 L480.5 238.7 L480.5 235.1 L476.7 235.1 L476.7 235.3 Z" fill="#a7b77f" fill-rule="evenodd" stroke="#767d6a" stroke-width="0.9"/>
<path d="M471.8 248.4 L471.3 248.5 L471.6 251.6 L475.6 251.2 L475.4 247.9 L474.7 248.0 L471.8 248.0 L471.8 248.4 Z" fill="#a7b77f" fill-rule="evenodd" stroke="#767d6a" stroke-width="0.9"/>
<path d="M482.1 200.1 L491.5 199.4 L492.2 207.5 L482.8 208.2 Z" fill="#a7b77f" fill-rule="evenodd" stroke="#767d6a" stroke-width="0.9"/>
<path d="M463.9 217.6 L467.3 216.9 L467.3 222.3 L464.3 223.0 Z" fill="#a7b77f" fill-rule="evenodd" stroke="#767d6a" stroke-width="0.9"/>
<path d="M472.0 217.6 L475.4 217.6 L475.6 221.2 L472.4 221.6 Z" fill="#a7b77f" fill-rule="evenodd" stroke="#767d6a" stroke-width="0.9"/>
<path d="M471.8 225.8 L472.7 225.8 L472.7 226.3 L475.6 226.3 L475.6 222.0 L475.4 222.0 L475.4 221.8 L471.8 221.8 L471.8 225.8 Z" fill="#a7b77f" fill-rule="evenodd" stroke="#767d6a" stroke-width="0.9"/>
<path d="M479.4 246.5 L482.8 243.8 L486.1 245.2 L492.9 244.5 L493.5 249.2 L496.9 249.9 L497.6 256.9 L480.8 256.9 L481.4 251.2 Z" fill="#a7b77f" fill-rule="evenodd" stroke="#767d6a" stroke-width="0.9"/>
<path d="M494.2 224.9 L493.5 224.9 L493.5 228.6 L494.2 228.6 L494.2 229.3 L497.6 229.0 L496.9 223.0 L494.2 223.6 L494.2 224.9 Z" fill="#a7b77f" fill-rule="evenodd" stroke="#767d6a" stroke-width="0.9"/>
<path d="M533.6 208.8 L539.7 207.5 L540.1 214.2 L533.6 214.2 Z" fill="#a7b77f" fill-rule="evenodd" stroke="#767d6a" stroke-width="0.9"/>
<path d="M541.0 207.5 L547.1 207.5 L547.1 214.0 L541.0 214.0 Z" fill="#a7b77f" fill-rule="evenodd" stroke="#767d6a" stroke-width="0.9"/>
<path d="M553.2 206.8 L559.2 206.4 L559.5 214.0 L553.2 214.0 Z" fill="#a7b77f" fill-rule="evenodd" stroke="#767d6a" stroke-width="0.9"/>
<path d="M560.6 210.2 L564.3 210.2 L564.3 214.2 L560.6 214.2 Z" fill="#a7b77f" fill-rule="evenodd" stroke="#767d6a" stroke-width="0.9"/>
<path d="M502.7 223.6 L508.1 223.4 L508.3 227.0 L502.7 227.4 Z" fill="#a7b77f" fill-rule="evenodd" stroke="#767d6a" stroke-width="0.9"/>
<path d="M527.8 226.3 L527.8 226.0 L530.3 225.7 L530.3 221.2 L521.5 221.2 L521.5 229.0 L526.2 229.0 L526.9 226.3 L527.8 226.3 Z" fill="#a7b77f" fill-rule="evenodd" stroke="#767d6a" stroke-width="0.9"/>
<path d="M514.8 231.7 L518.8 231.7 L518.8 236.4 L514.8 236.8 Z" fill="#a7b77f" fill-rule="evenodd" stroke="#767d6a" stroke-width="0.9"/>
<path d="M514.3 238.0 L514.1 238.0 L514.1 237.4 L509.4 237.8 L509.7 242.8 L514.5 242.5 L514.3 239.9 L514.3 238.0 Z" fill="#a7b77f" fill-rule="evenodd" stroke="#767d6a" stroke-width="0.9"/>
<path d="M519.2 242.1 L519.4 242.1 L519.5 242.5 L524.9 242.5 L524.9 242.1 L525.1 242.1 L525.1 238.0 L524.9 238.0 L524.9 237.8 L518.8 237.8 L519.2 240.5 L519.2 242.1 Z" fill="#a7b77f" fill-rule="evenodd" stroke="#767d6a" stroke-width="0.9"/>
<path d="M504.8 228.4 L504.0 228.4 L505.4 236.4 L509.4 235.8 L509.3 235.4 L509.3 232.6 L508.5 232.6 L507.5 228.8 L507.5 227.6 L504.8 227.6 L504.8 228.4 Z" fill="#a7b77f" fill-rule="evenodd" stroke="#767d6a" stroke-width="0.9"/>
<path d="M541.0 231.7 L545.8 230.4 L544.4 236.4 L540.4 237.1 Z" fill="#a7b77f" fill-rule="evenodd" stroke="#767d6a" stroke-width="0.9"/>
<path d="M564.6 230.4 L570.0 228.4 L571.3 230.4 L566.6 233.1 Z" fill="#a7b77f" fill-rule="evenodd" stroke="#767d6a" stroke-width="0.9"/>
<path d="M539.7 243.8 L546.4 243.8 L543.1 247.9 L539.7 248.5 Z" fill="#a7b77f" fill-rule="evenodd" stroke="#767d6a" stroke-width="0.9"/>
<path d="M445.5 277.9 L448.2 277.9 L448.2 283.2 L445.5 283.2 Z" fill="#a7b77f" fill-rule="evenodd" stroke="#767d6a" stroke-width="0.9"/>
<path d="M455.9 271.8 L459.2 270.5 L459.2 275.2 L455.9 275.2 Z" fill="#a7b77f" fill-rule="evenodd" stroke="#767d6a" stroke-width="0.9"/>
<path d="M476.7 266.4 L479.4 265.7 L478.7 269.8 L476.7 270.5 Z" fill="#a7b77f" fill-rule="evenodd" stroke="#767d6a" stroke-width="0.9"/>
<path d="M457.9 306.1 L459.9 303.4 L464.6 304.1 L467.0 307.5 L464.6 309.2 L459.2 309.2 Z" fill="#a7b77f" fill-rule="evenodd" stroke="#767d6a" stroke-width="0.9"/>
<path d="M470.7 340.8 L474.7 340.4 L474.7 345.3 L470.7 345.5 Z" fill="#a7b77f" fill-rule="evenodd" stroke="#767d6a" stroke-width="0.9"/>
<path d="M493.2 332.1 L493.5 332.1 L496.2 332.1 L496.2 328.7 L493.5 328.7 L493.2 328.7 L493.2 332.1 Z" fill="#a7b77f" fill-rule="evenodd" stroke="#767d6a" stroke-width="0.9"/>
<path d="M484.5 230.8 L487.6 230.8 L487.6 234.4 L484.5 234.4 Z" fill="#a7b77f" fill-rule="evenodd" stroke="#767d6a" stroke-width="0.7"/>
<path d="M488.1 228.6 L493.0 228.6 L493.0 231.7 L488.1 231.7 Z" fill="#a7b77f" fill-rule="evenodd" stroke="#767d6a" stroke-width="0.7"/>
<path d="M488.5 233.5 L492.1 233.5 L492.1 237.1 L488.5 237.1 Z" fill="#a7b77f" fill-rule="evenodd" stroke="#767d6a" stroke-width="0.7"/>
<path d="M492.1 233.5 L496.2 233.5 L496.2 236.2 L492.1 236.2 Z" fill="#a7b77f" fill-rule="evenodd" stroke="#767d6a" stroke-width="0.7"/>
<path d="M484.5 235.8 L487.6 235.8 L487.6 240.3 L484.5 240.3 Z" fill="#a7b77f" fill-rule="evenodd" stroke="#767d6a" stroke-width="0.7"/>
<path d="M491.7 238.9 L496.2 238.9 L496.2 242.1 L491.7 242.1 Z" fill="#a7b77f" fill-rule="evenodd" stroke="#767d6a" stroke-width="0.7"/>
<path d="M500.7 227.2 L503.9 227.2 L503.9 230.4 L500.7 230.4 Z" fill="#a7b77f" fill-rule="evenodd" stroke="#767d6a" stroke-width="0.7"/>
<path d="M498.0 246.2 L504.3 246.2 L504.3 249.8 L498.0 249.8 Z" fill="#a7b77f" fill-rule="evenodd" stroke="#767d6a" stroke-width="0.7"/>
<path d="M97.1 126.8 L100.5 125.8 L113.6 128.2 L114.2 133.3 L97.7 132.9 Z" fill="#f09f4e" fill-rule="evenodd" stroke="#8f6a48" stroke-width="0.9"/>
<path d="M116.6 120.2 L118.6 122.6 L119.6 127.6 L120.2 133.3 L116.6 137.7 L108.9 137.7 L108.9 144.7 L113.6 144.7 L110.5 149.7 L110.5 154.4 L110.0 160.0 L109.9 160.0 L109.9 157.8 L104.5 157.8 L104.5 160.0 L104.5 163.4 L104.9 163.4 L105.0 163.8 L109.8 164.3 L109.3 170.2 L106.9 171.4 L106.5 171.5 L106.5 171.6 L106.1 171.8 L103.4 177.2 L102.7 183.6 L102.9 192.2 L100.7 196.5 L99.7 200.8 L102.9 204.0 L106.1 205.0 L103.9 209.3 L105.0 213.0 L120.0 213.0 L120.0 201.8 L122.2 199.7 L122.7 195.4 L124.3 192.2 L142.5 192.2 L144.7 189.0 L145.8 184.1 L140.4 180.9 L135.0 179.8 L131.8 182.5 L125.7 183.0 L126.2 176.5 L125.7 172.1 L125.7 171.4 L128.6 169.5 L127.6 164.4 L128.6 159.0 L143.5 159.0 L143.1 143.7 L145.1 139.7 L148.7 134.7 L152.4 132.7 L151.8 129.8 L146.7 130.8 L142.7 133.9 L138.7 130.8 L135.7 124.8 L133.7 123.2 L136.3 122.6 L135.7 117.2 L115.6 117.2 L116.6 120.2 Z" fill="#f09f4e" fill-rule="evenodd" stroke="#8f6a48" stroke-width="0.9"/>
<path d="M160.5 117.2 L167.7 117.2 L167.1 125.2 L170.1 131.6 L177.7 131.6 L178.2 140.3 L164.5 141.7 L163.7 135.3 L159.0 131.6 L161.1 125.2 Z" fill="#f09f4e" fill-rule="evenodd" stroke="#8f6a48" stroke-width="0.9"/>
<path d="M194.6 117.2 L200.3 117.2 L202.7 121.6 L208.3 128.2 L211.3 132.3 L208.3 137.3 L202.7 133.3 L195.2 133.3 L191.2 132.3 L191.8 127.6 L194.6 123.2 Z" fill="#f09f4e" fill-rule="evenodd" stroke="#8f6a48" stroke-width="0.9"/>
<path d="M202.7 137.7 L205.9 137.7 L206.7 145.3 L204.3 149.7 L195.8 151.0 L196.2 146.3 L193.8 143.3 L197.3 142.3 L201.9 143.3 Z" fill="#f09f4e" fill-rule="evenodd" stroke="#8f6a48" stroke-width="0.9"/>
<path d="M209.9 133.3 L213.3 137.7 L219.4 138.9 L220.8 145.3 L224.4 148.9 L223.4 161.4 L219.4 163.0 L215.3 157.8 L217.4 153.4 L213.9 147.3 L210.3 140.3 Z" fill="#f09f4e" fill-rule="evenodd" stroke="#8f6a48" stroke-width="0.9"/>
<path d="M224.8 158.4 L232.0 157.4 L231.4 169.5 L230.0 180.5 L227.4 179.5 L227.4 169.5 L224.0 163.4 Z" fill="#f09f4e" fill-rule="evenodd" stroke="#8f6a48" stroke-width="0.9"/>
<path d="M153.0 159.0 L157.6 151.8 L161.7 159.4 Z" fill="#f09f4e" fill-rule="evenodd" stroke="#8f6a48" stroke-width="0.9"/>
<path d="M155.6 170.5 L161.1 162.4 L164.1 163.0 L165.1 168.4 L168.5 171.5 L162.1 173.9 L157.0 173.5 Z" fill="#f09f4e" fill-rule="evenodd" stroke="#8f6a48" stroke-width="0.9"/>
<path d="M302.8 185.0 L297.6 186.0 L297.6 189.0 L303.1 189.0 L303.1 189.6 L309.4 189.6 L310.1 191.1 L317.1 191.1 L317.1 189.6 L317.1 178.0 L317.1 173.5 L309.1 173.5 L308.5 177.9 L308.1 178.0 L303.1 178.0 L303.1 179.3 L302.5 179.5 L302.8 185.0 Z" fill="#f09f4e" fill-rule="evenodd" stroke="#8f6a48" stroke-width="0.9"/>
<path d="M101.5 214.6 L106.5 214.6 L107.5 220.2 L108.9 230.3 L108.5 239.3 L106.5 240.3 L101.5 238.3 L100.1 233.3 L102.1 227.3 L102.9 222.2 Z" fill="#f09f4e" fill-rule="evenodd" stroke="#8f6a48" stroke-width="0.9"/>
<path d="M130.2 224.6 L142.7 224.6 L142.7 240.3 L138.7 239.3 L134.7 235.3 L130.2 234.3 Z" fill="#f09f4e" fill-rule="evenodd" stroke="#8f6a48" stroke-width="0.9"/>
<path d="M143.1 246.4 L145.0 248.5 L144.3 249.4 L148.0 251.9 L148.0 259.4 L151.2 258.8 L153.2 259.4 L153.3 258.5 L153.6 258.4 L153.3 257.6 L153.7 251.2 L154.0 250.8 L163.7 250.8 L164.1 247.4 L167.1 245.3 L166.1 239.9 L149.1 240.3 L149.1 214.6 L143.1 214.6 L143.1 246.4 Z" fill="#f09f4e" fill-rule="evenodd" stroke="#8f6a48" stroke-width="0.9"/>
<path d="M110.5 255.4 L113.6 260.4 L119.6 268.5 L120.3 272.0 L118.6 272.0 L121.2 276.1 L122.6 282.5 L124.3 282.5 L125.0 285.1 L128.6 289.1 L131.6 292.1 L133.7 295.1 L137.7 301.1 L137.1 305.2 L142.7 306.8 L148.0 308.0 L148.0 311.2 L154.0 312.2 L160.1 315.2 L165.1 318.2 L169.1 323.3 L171.1 328.9 L193.2 327.7 L195.2 320.2 L196.6 314.2 L198.3 309.6 L194.2 301.1 L182.2 291.5 L165.7 292.1 L162.8 292.1 L162.8 282.5 L162.8 274.5 L162.8 272.0 L158.8 272.0 L154.8 269.5 L150.8 266.5 L148.7 262.4 L142.7 259.4 L138.7 260.4 L132.7 258.4 L138.7 257.4 L142.7 254.4 L144.3 250.4 L141.7 246.4 L138.7 240.3 L130.6 238.3 L129.6 234.7 L114.6 234.7 L106.1 240.3 L107.5 249.4 L110.5 255.4 Z" fill="#f09f4e" fill-rule="evenodd" stroke="#8f6a48" stroke-width="0.9"/>
<path d="M171.7 191.1 L176.1 186.0 L179.2 181.0 L180.2 184.4 L187.2 183.6 L191.2 188.0 L186.2 190.1 L182.2 192.5 L179.8 197.1 L180.2 201.1 L184.2 201.7 L190.2 203.7 L190.6 213.8 L171.7 213.8 Z" fill="#f09f4e" fill-rule="evenodd" stroke="#8f6a48" stroke-width="0.9"/>
<path d="M265.0 236.3 L266.6 238.3 L264.6 240.3 L258.6 243.3 L249.5 244.7 L249.5 248.0 L259.6 250.4 L266.6 249.4 L269.6 252.4 L273.7 251.4 L272.7 248.4 L277.7 247.4 L276.7 251.4 L279.7 255.4 L279.7 260.4 L288.3 261.4 L288.7 257.4 L285.1 256.4 L285.1 252.4 L290.8 251.4 L297.0 250.9 L297.0 253.4 L300.1 254.0 L300.1 250.6 L302.8 250.4 L302.8 240.3 L300.1 240.6 L300.1 239.9 L288.0 240.3 L288.0 240.5 L286.7 240.3 L287.7 235.3 L288.7 227.3 L278.7 228.3 L281.7 236.3 L282.7 240.3 L280.7 244.3 L278.7 240.3 L274.7 241.3 L271.6 240.3 L272.3 233.9 L270.6 227.3 L266.2 227.9 L265.0 236.3 Z" fill="#f09f4e" fill-rule="evenodd" stroke="#8f6a48" stroke-width="0.9"/>
<path d="M249.5 258.4 L255.6 258.0 L256.6 256.0 L264.2 256.4 L263.6 264.5 L260.6 265.5 L259.6 262.4 L249.5 262.0 Z" fill="#f09f4e" fill-rule="evenodd" stroke="#8f6a48" stroke-width="0.9"/>
<path d="M170.1 268.5 L171.1 273.0 L170.1 273.0 L171.1 279.0 L172.7 280.9 L173.1 282.5 L174.2 282.5 L182.2 291.5 L194.2 301.1 L198.3 309.6 L207.9 310.2 L208.3 329.7 L236.1 329.7 L234.5 323.3 L239.5 315.2 L239.5 312.2 L241.5 295.1 L240.1 293.1 L239.5 277.4 L232.4 277.4 L214.9 277.4 L212.7 276.9 L212.7 270.5 L214.7 268.5 L215.3 263.4 L200.7 263.4 L200.7 278.6 L200.3 279.4 L183.2 280.0 L183.2 264.5 L191.2 263.4 L191.2 257.4 L187.2 250.8 L166.1 250.8 L161.1 253.4 L166.1 260.4 L170.1 268.5 Z" fill="#f09f4e" fill-rule="evenodd" stroke="#8f6a48" stroke-width="0.9"/>
<path d="M258.8 273.0 L256.6 273.0 L256.6 274.0 L254.6 274.5 L253.1 277.4 L249.5 277.4 L249.5 288.7 L262.6 288.7 L262.6 277.4 L264.2 277.4 L264.2 276.5 L264.6 269.5 L260.2 269.5 L258.8 273.0 Z" fill="#f09f4e" fill-rule="evenodd" stroke="#8f6a48" stroke-width="0.9"/>
<path d="M227.4 339.7 L235.5 338.9 L236.1 343.0 L228.0 343.0 Z" fill="#f09f4e" fill-rule="evenodd" stroke="#8f6a48" stroke-width="0.9"/>
<path d="M276.3 289.5 L281.1 289.1 L281.1 300.1 L276.3 300.1 Z" fill="#f09f4e" fill-rule="evenodd" stroke="#8f6a48" stroke-width="0.9"/>
<path d="M266.2 327.7 L274.7 324.3 L274.7 337.3 L266.2 337.7 Z" fill="#f09f4e" fill-rule="evenodd" stroke="#8f6a48" stroke-width="0.9"/>
<path d="M362.8 288.7 L366.0 286.1 L369.4 289.5 Z" fill="#f09f4e" fill-rule="evenodd" stroke="#8f6a48" stroke-width="0.9"/>
<path d="M407.8 325.3 L407.4 325.3 L408.9 327.1 L410.2 329.3 L413.1 332.9 L413.4 332.6 L413.5 332.7 L416.8 328.7 L416.9 328.5 L419.7 325.7 L418.7 324.3 L407.6 324.9 L407.8 325.3 Z" fill="#f09f4e" fill-rule="evenodd" stroke="#8f6a48" stroke-width="0.9"/>
<path d="M360.8 340.3 L364.8 337.7 L368.8 344.4 L366.4 347.0 L363.4 345.8 Z" fill="#f09f4e" fill-rule="evenodd" stroke="#8f6a48" stroke-width="0.9"/>
<path d="M367.4 347.0 L372.0 343.8 L374.5 351.4 L371.4 355.0 L367.4 353.4 L368.8 349.8 Z" fill="#f09f4e" fill-rule="evenodd" stroke="#8f6a48" stroke-width="0.9"/>
<path d="M353.9 357.0 L357.4 349.4 L362.4 349.0 L366.0 355.4 L364.8 359.5 L359.4 362.5 L354.7 360.5 Z" fill="#f09f4e" fill-rule="evenodd" stroke="#8f6a48" stroke-width="0.9"/>
<path d="M522.9 392.9 L529.9 392.9 L530.1 403.3 L528.5 409.7 L524.5 411.0 L522.9 405.3 Z" fill="#f09f4e" fill-rule="evenodd" stroke="#8f6a48" stroke-width="0.9"/>
<path d="M514.0 399.3 L516.5 397.7 L519.5 400.3 L522.1 399.7 L522.1 404.9 L519.5 405.3 L521.5 411.4 L519.5 411.0 L518.5 405.3 L516.1 403.3 Z" fill="#f09f4e" fill-rule="evenodd" stroke="#8f6a48" stroke-width="0.9"/>
<path d="M500.8 366.1 L501.7 366.9 L502.9 368.4 L506.2 369.1 L507.6 365.7 L511.0 364.4 L510.3 360.3 L509.4 360.1 L509.4 360.1 L509.2 360.1 L506.9 359.7 L502.2 360.3 L502.6 363.7 L502.0 364.9 L500.8 366.1 Z" fill="#f09f4e" fill-rule="evenodd" stroke="#8f6a48" stroke-width="0.9"/>
<path d="M465.2 351.0 L465.3 351.2 L465.3 353.9 L468.6 353.9 L472.7 354.7 L472.7 354.6 L473.2 354.7 L472.9 353.6 L473.4 350.9 L471.4 348.1 L471.2 347.4 L465.2 347.4 L465.2 351.0 Z" fill="#f09f4e" fill-rule="evenodd" stroke="#8f6a48" stroke-width="0.9"/>
<path d="M601.2 191.2 L601.0 191.4 L601.6 194.8 L602.9 196.6 L603.3 197.9 L607.3 198.5 L608.3 197.5 L608.4 197.5 L608.5 197.3 L609.3 196.5 L610.1 194.6 L610.4 194.1 L611.1 192.7 L612.4 190.9 L614.4 189.4 L614.6 188.6 L614.7 188.5 L614.6 188.2 L615.1 186.1 L613.1 183.4 L611.6 183.4 L610.7 182.8 L610.2 183.4 L609.7 183.4 L609.2 184.4 L608.6 185.1 L603.9 185.8 L600.6 189.1 L601.2 191.2 Z" fill="#f09f4e" fill-rule="evenodd" stroke="#8f6a48" stroke-width="0.9"/>
<path d="M618.9 194.7 L619.1 196.2 L620.0 198.6 L620.1 199.2 L620.1 199.2 L620.5 200.2 L621.9 198.3 L622.8 197.9 L623.5 196.5 L625.2 194.8 L627.9 192.1 L630.0 190.0 L630.5 189.8 L630.5 189.5 L630.6 189.4 L630.4 189.0 L630.2 186.8 L629.5 186.9 L629.2 186.1 L627.3 187.1 L626.8 187.1 L624.0 187.7 L621.9 187.0 L620.8 186.4 L620.4 187.8 L618.5 190.8 L618.8 193.5 L618.7 193.8 L618.9 194.7 Z" fill="#f09f4e" fill-rule="evenodd" stroke="#8f6a48" stroke-width="0.9"/>
<path d="M611.9 193.7 L612.4 195.5 L615.1 196.8 L615.3 196.5 L615.4 196.5 L615.5 196.2 L616.4 194.8 L614.4 192.1 L614.3 192.1 L614.0 191.8 L611.3 192.5 L611.9 193.7 Z" fill="#f09f4e" fill-rule="evenodd" stroke="#8f6a48" stroke-width="0.9"/>
<path d="M615.3 199.6 L615.1 200.2 L615.1 201.0 L614.7 203.3 L615.0 205.0 L613.1 206.9 L613.7 213.6 L610.6 215.7 L611.0 221.7 L616.4 220.4 L617.8 217.7 L620.1 217.0 L621.8 219.7 L623.8 218.4 L627.2 217.7 L628.5 215.7 L627.2 213.0 L623.8 213.6 L621.1 212.3 L619.8 208.9 L621.8 206.9 L621.0 205.6 L621.4 203.3 L620.5 200.4 L620.5 200.2 L619.1 196.2 L618.7 195.9 L618.1 194.5 L617.7 195.2 L617.1 194.8 L615.6 198.9 L615.4 199.2 L615.3 199.6 Z" fill="#f09f4e" fill-rule="evenodd" stroke="#8f6a48" stroke-width="0.9"/>
<path d="M596.5 197.5 L596.2 197.5 L596.5 202.4 L596.5 203.9 L596.6 203.9 L596.6 204.0 L596.6 204.1 L600.0 204.1 L600.0 197.4 L599.9 197.4 L599.9 197.2 L599.6 197.2 L596.5 197.2 L596.5 197.5 Z" fill="#f09f4e" fill-rule="evenodd" stroke="#8f6a48" stroke-width="0.9"/>
<path d="M463.0 249.2 L465.3 246.5 L467.3 248.5 L469.3 249.2 L468.9 252.6 L466.6 252.2 L464.6 250.3 Z" fill="#f09f4e" fill-rule="evenodd" stroke="#8f6a48" stroke-width="0.9"/>
<path d="M563.0 207.2 L565.9 206.2 L567.3 208.8 L565.3 210.5 L563.0 209.9 Z" fill="#f09f4e" fill-rule="evenodd" stroke="#8f6a48" stroke-width="0.9"/>
<path d="M590.2 213.6 L589.5 216.2 L591.5 216.9 L592.0 215.9 L592.9 215.7 L594.2 213.6 L594.2 213.3 L594.9 212.9 L594.6 210.7 L594.9 208.3 L594.2 208.3 L594.2 208.2 L593.8 208.3 L592.2 208.3 L592.0 208.7 L591.5 208.8 L590.7 211.9 L590.2 213.0 L590.2 213.6 Z" fill="#f09f4e" fill-rule="evenodd" stroke="#8f6a48" stroke-width="0.9"/>
<path d="M584.0 216.0 L584.1 216.3 L584.4 216.6 L586.1 218.9 L586.4 218.6 L586.8 219.0 L589.9 218.4 L590.2 213.0 L588.8 212.7 L586.1 212.2 L585.4 212.5 L582.8 213.0 L583.0 213.4 L582.4 213.6 L584.0 216.0 Z" fill="#f09f4e" fill-rule="evenodd" stroke="#8f6a48" stroke-width="0.9"/>
<path d="M576.9 222.1 L576.7 222.3 L577.8 223.6 L579.4 226.4 L579.7 227.0 L578.7 229.0 L579.4 233.1 L580.4 233.8 L580.8 234.5 L581.6 234.7 L583.4 237.1 L584.1 243.8 L583.1 244.0 L582.8 243.3 L580.1 243.9 L580.1 246.9 L581.8 246.9 L580.1 249.2 L580.8 251.9 L584.1 247.9 L585.2 245.6 L585.9 246.9 L587.5 241.9 L588.6 237.9 L588.8 233.2 L590.2 232.8 L595.6 231.1 L601.0 229.5 L605.7 227.8 L607.0 225.8 L603.6 226.4 L596.9 228.5 L591.6 227.8 L592.0 227.5 L594.9 225.8 L596.1 224.2 L597.6 223.0 L596.2 220.7 L594.0 221.3 L593.6 221.0 L590.2 223.1 L587.9 224.8 L585.7 224.2 L583.5 223.1 L580.0 220.8 L579.4 220.3 L579.0 220.6 L576.7 221.7 L576.9 222.1 Z" fill="#f09f4e" fill-rule="evenodd" stroke="#8f6a48" stroke-width="0.9"/>
<path d="M568.0 254.3 L567.5 254.5 L567.2 257.9 L568.2 259.5 L568.6 260.8 L571.3 260.4 L571.4 259.9 L571.5 259.9 L572.6 256.5 L570.4 253.2 L570.0 253.4 L570.0 253.3 L568.0 253.3 L568.0 254.3 Z" fill="#f09f4e" fill-rule="evenodd" stroke="#8f6a48" stroke-width="0.9"/>
<path d="M494.2 290.0 L497.6 289.3 L499.3 291.3 L498.3 294.0 L495.8 294.0 Z" fill="#f09f4e" fill-rule="evenodd" stroke="#8f6a48" stroke-width="0.9"/>
<path d="M441.5 308.1 L445.8 307.9 L446.4 304.1 L449.8 304.1 L450.1 307.9 L451.4 308.1 L451.4 311.5 L441.5 311.5 Z" fill="#f09f4e" fill-rule="evenodd" stroke="#8f6a48" stroke-width="0.9"/>
<path d="M497.6 310.8 L500.0 310.2 L500.0 315.5 L496.9 314.9 Z" fill="#f09f4e" fill-rule="evenodd" stroke="#8f6a48" stroke-width="0.9"/>
<path d="M498.9 303.4 L500.0 302.8 L500.0 305.5 L498.9 305.5 Z" fill="#f09f4e" fill-rule="evenodd" stroke="#8f6a48" stroke-width="0.9"/>
<path d="M564.3 284.6 L567.3 283.9 L569.3 285.9 L568.0 288.2 L564.9 287.7 Z" fill="#f09f4e" fill-rule="evenodd" stroke="#8f6a48" stroke-width="0.9"/>
<path d="M570.0 290.0 L572.7 290.0 L572.0 294.0 L570.0 293.3 Z" fill="#f09f4e" fill-rule="evenodd" stroke="#8f6a48" stroke-width="0.9"/>
<path d="M512.4 285.3 L515.5 284.6 L516.4 287.3 L513.5 288.2 Z" fill="#f09f4e" fill-rule="evenodd" stroke="#8f6a48" stroke-width="0.9"/>
<path d="M500.0 292.7 L502.7 290.6 L504.7 288.6 L507.4 290.6 L509.4 294.7 L508.1 297.4 L505.4 298.0 L504.0 300.1 L501.3 300.1 L502.0 296.7 L500.0 296.0 Z" fill="#f09f4e" fill-rule="evenodd" stroke="#8f6a48" stroke-width="0.9"/>
<path d="M500.0 301.4 L502.0 301.4 L503.0 305.5 L500.7 307.1 L500.0 306.1 Z" fill="#f09f4e" fill-rule="evenodd" stroke="#8f6a48" stroke-width="0.9"/>
<path d="M500.0 310.2 L502.0 310.8 L503.0 314.2 L500.7 316.9 L500.0 316.2 Z" fill="#f09f4e" fill-rule="evenodd" stroke="#8f6a48" stroke-width="0.9"/>
<path d="M549.1 291.7 L552.5 291.3 L552.8 294.0 L549.5 294.4 Z" fill="#f09f4e" fill-rule="evenodd" stroke="#8f6a48" stroke-width="0.9"/>
<path d="M559.2 302.8 L564.6 301.1 L566.2 302.8 L562.6 304.4 L559.9 304.4 Z" fill="#f09f4e" fill-rule="evenodd" stroke="#8f6a48" stroke-width="0.9"/>
<path d="M548.5 305.5 L553.2 304.8 L554.1 308.8 L551.8 311.5 L549.8 310.2 Z" fill="#f09f4e" fill-rule="evenodd" stroke="#8f6a48" stroke-width="0.9"/>
<path d="M536.1 316.9 L539.0 316.2 L540.1 319.2 L538.4 322.9 L534.7 321.6 Z" fill="#f09f4e" fill-rule="evenodd" stroke="#8f6a48" stroke-width="0.9"/>
<path d="M116.6 243.3 L123.6 242.7 L125.6 247.4 L124.6 253.4 L119.6 252.4 L116.6 247.4 Z" fill="#e7ecce" fill-rule="evenodd"/>
<path d="M130.2 236.3 L138.7 237.3 L141.7 241.3 L140.7 246.4 L134.7 244.3 L130.6 240.3 Z" fill="#e7ecce" fill-rule="evenodd"/>
<path d="M133.7 259.4 L138.7 257.4 L143.7 260.4 L148.7 265.5 L146.7 268.5 L140.7 266.5 L134.7 262.4 Z" fill="#e7ecce" fill-rule="evenodd"/>
<path d="M140.3 268.5 L146.7 266.5 L148.7 269.5 L143.7 274.5 L139.7 271.5 Z" fill="#e7ecce" fill-rule="evenodd"/>
<path d="M148.7 281.0 L162.8 281.0 L164.8 291.1 L148.7 291.1 L147.1 286.1 Z" fill="#bdc8a8" fill-rule="evenodd" stroke="#767d6a" stroke-width="0.9"/>
<path d="M117.9 122.4 L135.1 122.3" fill="none" fill-rule="evenodd" stroke="#8f6a48" stroke-width="0.6"/>
<path d="M119.2 127.4 L133.4 127.1" fill="none" fill-rule="evenodd" stroke="#8f6a48" stroke-width="0.6"/>
<path d="M133.4 122.7 L132.7 127.4 L134.0 130.8 L131.3 136.1 L130.0 141.5 L128.6 145.6 L129.3 151.9" fill="none" fill-rule="evenodd" stroke="#8f6a48" stroke-width="0.6"/>
<path d="M119.9 136.8 L124.6 138.2 L128.6 138.8 L131.3 136.1" fill="none" fill-rule="evenodd" stroke="#8f6a48" stroke-width="0.6"/>
<path d="M131.3 136.1 L135.4 138.8 L140.8 141.5 L143.4 144.2" fill="none" fill-rule="evenodd" stroke="#8f6a48" stroke-width="0.6"/>
<path d="M130.0 141.5 L135.4 144.2 L140.8 146.9 L144.1 148.3" fill="none" fill-rule="evenodd" stroke="#8f6a48" stroke-width="0.6"/>
<path d="M135.4 125.4 L138.1 129.4 L140.8 132.1" fill="none" fill-rule="evenodd" stroke="#8f6a48" stroke-width="0.6"/>
<path d="M108.7 137.8 L115.2 137.8" fill="none" fill-rule="evenodd" stroke="#8f6a48" stroke-width="0.6"/>
<path d="M106.1 171.8 L115.7 170.7 L119.0 175.0 L125.4 175.5" fill="none" fill-rule="evenodd" stroke="#8f6a48" stroke-width="0.6"/>
<path d="M106.1 173.9 L111.4 177.2 L125.4 177.7" fill="none" fill-rule="evenodd" stroke="#8f6a48" stroke-width="0.6"/>
<path d="M103.4 183.6 L111.4 183.1 L112.5 178.2" fill="none" fill-rule="evenodd" stroke="#8f6a48" stroke-width="0.6"/>
<path d="M111.4 183.1 L124.3 184.1" fill="none" fill-rule="evenodd" stroke="#8f6a48" stroke-width="0.6"/>
<path d="M102.9 185.7 L109.3 189.0 L112.5 192.2 L116.8 194.3 L122.7 195.4" fill="none" fill-rule="evenodd" stroke="#8f6a48" stroke-width="0.6"/>
<path d="M103.9 193.2 L106.1 198.6 L106.1 204.0" fill="none" fill-rule="evenodd" stroke="#8f6a48" stroke-width="0.6"/>
<path d="M106.1 204.0 L111.4 203.4 L120.0 201.8" fill="none" fill-rule="evenodd" stroke="#8f6a48" stroke-width="0.6"/>
<path d="M112.0 203.4 L112.0 213.0" fill="none" fill-rule="evenodd" stroke="#8f6a48" stroke-width="0.6"/>
<path d="M124.3 183.1 L124.3 192.2" fill="none" fill-rule="evenodd" stroke="#8f6a48" stroke-width="0.6"/>
<path d="M131.8 182.5 L132.9 186.8 L138.3 190.0 L142.5 192.2" fill="none" fill-rule="evenodd" stroke="#8f6a48" stroke-width="0.6"/>
<path d="M109.8 164.3 L116.8 160.0" fill="none" fill-rule="evenodd" stroke="#8f6a48" stroke-width="0.6"/>
<path d="M124.3 165.4 L127.5 164.3" fill="none" fill-rule="evenodd" stroke="#8f6a48" stroke-width="0.6"/>
<path d="M105.1 239.9 L113.2 239.2 L113.8 235.9 L128.6 235.2" fill="none" fill-rule="evenodd" stroke="#8f6a48" stroke-width="0.6"/>
<path d="M113.2 239.2 L115.2 242.6" fill="none" fill-rule="evenodd" stroke="#8f6a48" stroke-width="0.6"/>
<path d="M108.5 254.0 L113.2 254.7 L116.5 253.4 L124.6 254.0" fill="none" fill-rule="evenodd" stroke="#8f6a48" stroke-width="0.6"/>
<path d="M112.5 246.0 L114.5 251.3 L116.5 253.4" fill="none" fill-rule="evenodd" stroke="#8f6a48" stroke-width="0.6"/>
<path d="M124.6 239.2 L128.6 246.6 L131.3 248.6 L135.4 247.3" fill="none" fill-rule="evenodd" stroke="#8f6a48" stroke-width="0.6"/>
<path d="M125.3 254.0 L128.6 255.4 L131.3 248.6" fill="none" fill-rule="evenodd" stroke="#8f6a48" stroke-width="0.6"/>
<path d="M117.9 256.7 L121.9 260.8 L126.6 259.4 L128.6 255.4" fill="none" fill-rule="evenodd" stroke="#8f6a48" stroke-width="0.6"/>
<path d="M121.9 260.8 L120.6 264.8 L127.3 264.1 L128.0 260.8" fill="none" fill-rule="evenodd" stroke="#8f6a48" stroke-width="0.6"/>
<path d="M109.8 255.4 L115.2 262.1 L118.6 265.5" fill="none" fill-rule="evenodd" stroke="#8f6a48" stroke-width="0.6"/>
<path d="M127.3 264.1 L128.0 270.2 L132.7 271.5" fill="none" fill-rule="evenodd" stroke="#8f6a48" stroke-width="0.6"/>
<path d="M132.7 261.4 L135.4 266.1 L139.4 268.8 L142.1 266.1" fill="none" fill-rule="evenodd" stroke="#8f6a48" stroke-width="0.6"/>
<path d="M128.0 270.2 L135.4 266.1" fill="none" fill-rule="evenodd" stroke="#8f6a48" stroke-width="0.6"/>
<path d="M134.0 258.1 L141.4 255.4 L143.5 250.7" fill="none" fill-rule="evenodd" stroke="#8f6a48" stroke-width="0.6"/>
<path d="M121.9 271.5 L128.6 272.2 L132.7 275.6 L139.4 268.8" fill="none" fill-rule="evenodd" stroke="#8f6a48" stroke-width="0.6"/>
<path d="M132.7 275.6 L138.1 279.6 L144.8 274.2 L148.8 268.8" fill="none" fill-rule="evenodd" stroke="#8f6a48" stroke-width="0.6"/>
<path d="M143.5 246.6 L148.8 248.0 L151.5 239.9" fill="none" fill-rule="evenodd" stroke="#8f6a48" stroke-width="0.6"/>
<path d="M148.8 248.0 L149.5 255.4 L152.2 258.1" fill="none" fill-rule="evenodd" stroke="#8f6a48" stroke-width="0.6"/>
<path d="M103.1 221.7 L108.5 222.4" fill="none" fill-rule="evenodd" stroke="#8f6a48" stroke-width="0.6"/>
<path d="M101.1 231.2 L108.5 231.8" fill="none" fill-rule="evenodd" stroke="#8f6a48" stroke-width="0.6"/>
<path d="M150.0 292.1 L165.7 292.1" fill="none" fill-rule="evenodd" stroke="#8f6a48" stroke-width="0.6"/>
<path d="M165.7 292.1 L165.7 318.2" fill="none" fill-rule="evenodd" stroke="#8f6a48" stroke-width="0.6"/>
<path d="M165.7 319.2 L195.2 319.2" fill="none" fill-rule="evenodd" stroke="#8f6a48" stroke-width="0.6"/>
<path d="M180.6 319.6 L180.6 328.3" fill="none" fill-rule="evenodd" stroke="#8f6a48" stroke-width="0.6"/>
<path d="M150.0 303.2 L154.0 304.2 L156.0 311.2" fill="none" fill-rule="evenodd" stroke="#8f6a48" stroke-width="0.6"/>
<path d="M154.0 304.2 L165.7 305.2" fill="none" fill-rule="evenodd" stroke="#8f6a48" stroke-width="0.6"/>
<path d="M182.6 280.0 L194.2 301.1" fill="none" fill-rule="evenodd" stroke="#8f6a48" stroke-width="0.6"/>
<path d="M200.3 279.4 L201.3 287.1 L194.2 289.1 L195.2 301.1 L198.3 309.6" fill="none" fill-rule="evenodd" stroke="#8f6a48" stroke-width="0.6"/>
<path d="M214.3 277.4 L213.9 285.1 L208.3 289.1 L207.9 310.2" fill="none" fill-rule="evenodd" stroke="#8f6a48" stroke-width="0.6"/>
<path d="M232.4 277.4 L232.4 312.2" fill="none" fill-rule="evenodd" stroke="#8f6a48" stroke-width="0.6"/>
<path d="M207.9 295.1 L216.4 297.1 L223.4 307.2 L225.4 308.2 L232.4 312.2" fill="none" fill-rule="evenodd" stroke="#8f6a48" stroke-width="0.6"/>
<path d="M207.9 312.2 L223.4 311.2 L225.4 308.2" fill="none" fill-rule="evenodd" stroke="#8f6a48" stroke-width="0.6"/>
<path d="M225.4 308.2 L230.4 315.2 L232.4 323.3 L234.5 323.3" fill="none" fill-rule="evenodd" stroke="#8f6a48" stroke-width="0.6"/>
<path d="M171.1 323.3 L180.6 323.3" fill="none" fill-rule="evenodd" stroke="#8f6a48" stroke-width="0.6"/>
<path d="M125.0 285.1 L134.7 283.0 L140.7 275.0" fill="none" fill-rule="evenodd" stroke="#8f6a48" stroke-width="0.6"/>
<path d="M131.6 292.1 L140.7 291.1 L148.7 291.1" fill="none" fill-rule="evenodd" stroke="#8f6a48" stroke-width="0.6"/>
<path d="M140.7 291.1 L146.7 301.1 L148.7 308.2" fill="none" fill-rule="evenodd" stroke="#8f6a48" stroke-width="0.6"/>
<path d="M137.7 301.1 L146.7 301.1" fill="none" fill-rule="evenodd" stroke="#8f6a48" stroke-width="0.6"/>
<path d="M148.7 291.1 L148.7 281.0" fill="none" fill-rule="evenodd" stroke="#8f6a48" stroke-width="0.6"/>
<path d="M152.8 303.2 L160.0 303.2" fill="none" fill-rule="evenodd" stroke="#8f6a48" stroke-width="0.6"/>
<path d="M152.8 303.2 L152.8 311.2" fill="none" fill-rule="evenodd" stroke="#8f6a48" stroke-width="0.6"/>
<path d="M173.1 268.5 L183.2 268.5" fill="none" fill-rule="evenodd" stroke="#8f6a48" stroke-width="0.6"/>
<path d="M200.7 270.5 L212.7 270.5" fill="none" fill-rule="evenodd" stroke="#8f6a48" stroke-width="0.6"/>
<path d="M200.7 274.5 L212.7 274.5" fill="none" fill-rule="evenodd" stroke="#8f6a48" stroke-width="0.6"/>
<path d="M272.3 240.3 L266.6 249.4" fill="none" fill-rule="evenodd" stroke="#8f6a48" stroke-width="0.6"/>
<path d="M278.7 240.3 L276.7 251.4" fill="none" fill-rule="evenodd" stroke="#8f6a48" stroke-width="0.6"/>
<path d="M285.1 240.3 L285.1 252.4" fill="none" fill-rule="evenodd" stroke="#8f6a48" stroke-width="0.6"/>
<path d="M280.7 244.3 L286.7 240.3" fill="none" fill-rule="evenodd" stroke="#8f6a48" stroke-width="0.6"/>
<path d="M115.6 126.2 L117.6 131.2 L116.6 135.3 L119.6 139.3 L117.6 143.3" fill="none" fill-rule="evenodd" stroke="#8fc3dc" stroke-width="1.2"/>
<path d="M200.5 133.5 L200.3 134.4 L199.9 135.0 L199.3 135.3 L198.7 135.0 L198.2 134.4 L198.1 133.5 L198.2 132.6 L198.7 131.9 L199.3 131.6 L199.9 131.9 L200.3 132.6 Z" fill="#75cff0" fill-rule="evenodd"/>
</g>
</svg>
<div id="attr"><span id="attrt">© 2021 Mapbox © OpenStreetMap</span></div>
<div id="lg">HOAM Index (Min/Max)</div>
<div class="ln" style="left:17.7px;top:463.4px">46.7</div>
<div class="lb" style="left:40px;width:166px;background:#f28e3c"></div>
<div class="lb" style="left:206px;width:166px;background:#b8c4a3"></div>
<div class="lb" style="left:372px;width:165.5px;background:#9bac72"></div>
<div class="lb" style="left:537.5px;width:166px;background:#7d9348"></div>
<div class="ln" style="left:706.3px;top:463.4px">259.8</div>
<div style="position:absolute;left:205.8px;top:474.5px;width:1px;height:2.3px;background:#333"></div>
</body></html>
